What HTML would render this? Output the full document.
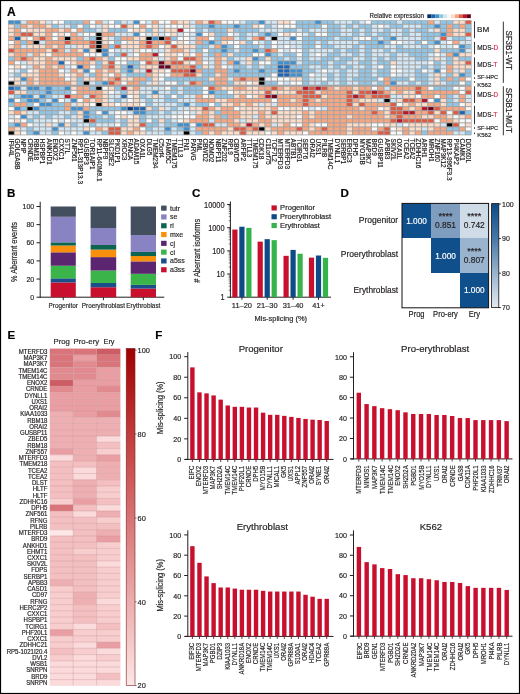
<!DOCTYPE html>
<html><head><meta charset="utf-8"><style>
html,body{margin:0;padding:0;background:#fff;}
svg{display:block;will-change:transform;}
text{font-family:"Liberation Sans",sans-serif;fill:#231f20;stroke:#231f20;stroke-width:0.18px;}
</style></head><body>
<svg width="520" height="694" viewBox="0 0 520 694" font-family="Liberation Sans, sans-serif">
<rect x="0" y="0" width="520" height="694" fill="#ffffff"/>
<text x="7.00" y="15.60" font-size="12.0" font-weight="bold" style="fill:#000;stroke:#000">A</text>
<text x="369.40" y="17.70" font-size="6.4" textLength="54.50" lengthAdjust="spacingAndGlyphs">Relative expression</text>
<rect x="427.30" y="14.30" width="4.00" height="3.80" fill="#053061"/>
<rect x="431.25" y="14.30" width="4.00" height="3.80" fill="#2166ac"/>
<rect x="435.21" y="14.30" width="4.00" height="3.80" fill="#4393c3"/>
<rect x="439.16" y="14.30" width="4.00" height="3.80" fill="#92c5de"/>
<rect x="443.12" y="14.30" width="4.00" height="3.80" fill="#d1e5f0"/>
<rect x="447.07" y="14.30" width="4.00" height="3.80" fill="#f7f7f7"/>
<rect x="451.03" y="14.30" width="4.00" height="3.80" fill="#fddbc7"/>
<rect x="454.98" y="14.30" width="4.00" height="3.80" fill="#f4a582"/>
<rect x="458.94" y="14.30" width="4.00" height="3.80" fill="#d6604d"/>
<rect x="462.89" y="14.30" width="4.00" height="3.80" fill="#b2182b"/>
<rect x="466.85" y="14.30" width="4.00" height="3.80" fill="#67001f"/>
<rect x="8.10" y="20.20" width="463.50" height="115.12" fill="#a3a3a3"/>
<rect x="8.65" y="20.70" width="5.16" height="3.06" fill="#3f90d0"/>
<rect x="14.91" y="20.70" width="5.16" height="3.06" fill="#3f90d0"/>
<rect x="21.18" y="20.70" width="5.16" height="3.06" fill="#d2e7f6"/>
<rect x="27.44" y="20.70" width="5.16" height="3.06" fill="#f8a681"/>
<rect x="33.70" y="20.70" width="5.16" height="3.06" fill="#f8a681"/>
<rect x="39.97" y="20.70" width="5.16" height="3.06" fill="#fddcc8"/>
<rect x="46.23" y="20.70" width="5.16" height="3.06" fill="#d2e7f6"/>
<rect x="52.49" y="20.70" width="5.16" height="3.06" fill="#f9fafb"/>
<rect x="58.76" y="20.70" width="5.16" height="3.06" fill="#f9fafb"/>
<rect x="65.02" y="20.70" width="5.16" height="3.06" fill="#8fc5e7"/>
<rect x="71.29" y="20.70" width="5.16" height="3.06" fill="#8fc5e7"/>
<rect x="77.55" y="20.70" width="5.16" height="3.06" fill="#8fc5e7"/>
<rect x="83.81" y="20.70" width="5.16" height="3.06" fill="#f8a681"/>
<rect x="90.08" y="20.70" width="5.16" height="3.06" fill="#f9fafb"/>
<rect x="96.34" y="20.70" width="5.16" height="3.06" fill="#f8a681"/>
<rect x="102.60" y="20.70" width="5.16" height="3.06" fill="#d2e7f6"/>
<rect x="108.87" y="20.70" width="5.16" height="3.06" fill="#f9fafb"/>
<rect x="115.13" y="20.70" width="5.16" height="3.06" fill="#8fc5e7"/>
<rect x="121.39" y="20.70" width="5.16" height="3.06" fill="#d2e7f6"/>
<rect x="127.66" y="20.70" width="5.16" height="3.06" fill="#d2e7f6"/>
<rect x="133.92" y="20.70" width="5.16" height="3.06" fill="#3f90d0"/>
<rect x="140.18" y="20.70" width="5.16" height="3.06" fill="#f9fafb"/>
<rect x="146.45" y="20.70" width="5.16" height="3.06" fill="#d2e7f6"/>
<rect x="152.71" y="20.70" width="5.16" height="3.06" fill="#f8a681"/>
<rect x="158.97" y="20.70" width="5.16" height="3.06" fill="#f9fafb"/>
<rect x="165.24" y="20.70" width="5.16" height="3.06" fill="#f9fafb"/>
<rect x="171.50" y="20.70" width="5.16" height="3.06" fill="#f8a681"/>
<rect x="177.76" y="20.70" width="5.16" height="3.06" fill="#fddcc8"/>
<rect x="184.03" y="20.70" width="5.16" height="3.06" fill="#fddcc8"/>
<rect x="190.29" y="20.70" width="5.16" height="3.06" fill="#d2e7f6"/>
<rect x="196.56" y="20.70" width="5.16" height="3.06" fill="#f8a681"/>
<rect x="202.82" y="20.70" width="5.16" height="3.06" fill="#fddcc8"/>
<rect x="209.08" y="20.70" width="5.16" height="3.06" fill="#df5a43"/>
<rect x="215.35" y="20.70" width="5.16" height="3.06" fill="#f8a681"/>
<rect x="221.61" y="20.70" width="5.16" height="3.06" fill="#f9fafb"/>
<rect x="227.87" y="20.70" width="5.16" height="3.06" fill="#f9fafb"/>
<rect x="234.14" y="20.70" width="5.16" height="3.06" fill="#f9fafb"/>
<rect x="240.40" y="20.70" width="5.16" height="3.06" fill="#d2e7f6"/>
<rect x="246.66" y="20.70" width="5.16" height="3.06" fill="#8fc5e7"/>
<rect x="252.93" y="20.70" width="5.16" height="3.06" fill="#8fc5e7"/>
<rect x="259.19" y="20.70" width="5.16" height="3.06" fill="#3f90d0"/>
<rect x="265.45" y="20.70" width="5.16" height="3.06" fill="#d2e7f6"/>
<rect x="271.72" y="20.70" width="5.16" height="3.06" fill="#d2e7f6"/>
<rect x="277.98" y="20.70" width="5.16" height="3.06" fill="#fddcc8"/>
<rect x="284.24" y="20.70" width="5.16" height="3.06" fill="#fddcc8"/>
<rect x="290.51" y="20.70" width="5.16" height="3.06" fill="#f9fafb"/>
<rect x="296.77" y="20.70" width="5.16" height="3.06" fill="#8fc5e7"/>
<rect x="303.04" y="20.70" width="5.16" height="3.06" fill="#8fc5e7"/>
<rect x="309.30" y="20.70" width="5.16" height="3.06" fill="#8fc5e7"/>
<rect x="315.56" y="20.70" width="5.16" height="3.06" fill="#3f90d0"/>
<rect x="321.83" y="20.70" width="5.16" height="3.06" fill="#8fc5e7"/>
<rect x="328.09" y="20.70" width="5.16" height="3.06" fill="#8fc5e7"/>
<rect x="334.35" y="20.70" width="5.16" height="3.06" fill="#d2e7f6"/>
<rect x="340.62" y="20.70" width="5.16" height="3.06" fill="#d2e7f6"/>
<rect x="346.88" y="20.70" width="5.16" height="3.06" fill="#d2e7f6"/>
<rect x="353.14" y="20.70" width="5.16" height="3.06" fill="#8fc5e7"/>
<rect x="359.41" y="20.70" width="5.16" height="3.06" fill="#d2e7f6"/>
<rect x="365.67" y="20.70" width="5.16" height="3.06" fill="#f9fafb"/>
<rect x="371.93" y="20.70" width="5.16" height="3.06" fill="#8fc5e7"/>
<rect x="378.20" y="20.70" width="5.16" height="3.06" fill="#8fc5e7"/>
<rect x="384.46" y="20.70" width="5.16" height="3.06" fill="#8fc5e7"/>
<rect x="390.72" y="20.70" width="5.16" height="3.06" fill="#8fc5e7"/>
<rect x="396.99" y="20.70" width="5.16" height="3.06" fill="#d2e7f6"/>
<rect x="403.25" y="20.70" width="5.16" height="3.06" fill="#8fc5e7"/>
<rect x="409.51" y="20.70" width="5.16" height="3.06" fill="#8fc5e7"/>
<rect x="415.78" y="20.70" width="5.16" height="3.06" fill="#8fc5e7"/>
<rect x="422.04" y="20.70" width="5.16" height="3.06" fill="#8fc5e7"/>
<rect x="428.31" y="20.70" width="5.16" height="3.06" fill="#f8a681"/>
<rect x="434.57" y="20.70" width="5.16" height="3.06" fill="#d2e7f6"/>
<rect x="440.83" y="20.70" width="5.16" height="3.06" fill="#8fc5e7"/>
<rect x="447.10" y="20.70" width="5.16" height="3.06" fill="#8fc5e7"/>
<rect x="453.36" y="20.70" width="5.16" height="3.06" fill="#fddcc8"/>
<rect x="459.62" y="20.70" width="5.16" height="3.06" fill="#fddcc8"/>
<rect x="465.89" y="20.70" width="5.16" height="3.06" fill="#df5a43"/>
<rect x="8.65" y="24.76" width="5.16" height="3.06" fill="#fddcc8"/>
<rect x="14.91" y="24.76" width="5.16" height="3.06" fill="#8fc5e7"/>
<rect x="21.18" y="24.76" width="5.16" height="3.06" fill="#f8a681"/>
<rect x="27.44" y="24.76" width="5.16" height="3.06" fill="#fddcc8"/>
<rect x="33.70" y="24.76" width="5.16" height="3.06" fill="#f8a681"/>
<rect x="39.97" y="24.76" width="5.16" height="3.06" fill="#f8a681"/>
<rect x="46.23" y="24.76" width="5.16" height="3.06" fill="#fddcc8"/>
<rect x="52.49" y="24.76" width="5.16" height="3.06" fill="#8fc5e7"/>
<rect x="58.76" y="24.76" width="5.16" height="3.06" fill="#d2e7f6"/>
<rect x="65.02" y="24.76" width="5.16" height="3.06" fill="#d2e7f6"/>
<rect x="71.29" y="24.76" width="5.16" height="3.06" fill="#8fc5e7"/>
<rect x="77.55" y="24.76" width="5.16" height="3.06" fill="#f9fafb"/>
<rect x="83.81" y="24.76" width="5.16" height="3.06" fill="#8fc5e7"/>
<rect x="90.08" y="24.76" width="5.16" height="3.06" fill="#f9fafb"/>
<rect x="96.34" y="24.76" width="5.16" height="3.06" fill="#d2e7f6"/>
<rect x="102.60" y="24.76" width="5.16" height="3.06" fill="#fddcc8"/>
<rect x="108.87" y="24.76" width="5.16" height="3.06" fill="#f9fafb"/>
<rect x="115.13" y="24.76" width="5.16" height="3.06" fill="#f9fafb"/>
<rect x="121.39" y="24.76" width="5.16" height="3.06" fill="#df5a43"/>
<rect x="127.66" y="24.76" width="5.16" height="3.06" fill="#fddcc8"/>
<rect x="133.92" y="24.76" width="5.16" height="3.06" fill="#f9fafb"/>
<rect x="140.18" y="24.76" width="5.16" height="3.06" fill="#f8a681"/>
<rect x="146.45" y="24.76" width="5.16" height="3.06" fill="#f9fafb"/>
<rect x="152.71" y="24.76" width="5.16" height="3.06" fill="#fddcc8"/>
<rect x="158.97" y="24.76" width="5.16" height="3.06" fill="#d2e7f6"/>
<rect x="165.24" y="24.76" width="5.16" height="3.06" fill="#f9fafb"/>
<rect x="171.50" y="24.76" width="5.16" height="3.06" fill="#f9fafb"/>
<rect x="177.76" y="24.76" width="5.16" height="3.06" fill="#f9fafb"/>
<rect x="184.03" y="24.76" width="5.16" height="3.06" fill="#fddcc8"/>
<rect x="190.29" y="24.76" width="5.16" height="3.06" fill="#d2e7f6"/>
<rect x="196.56" y="24.76" width="5.16" height="3.06" fill="#8fc5e7"/>
<rect x="202.82" y="24.76" width="5.16" height="3.06" fill="#8fc5e7"/>
<rect x="209.08" y="24.76" width="5.16" height="3.06" fill="#3f90d0"/>
<rect x="215.35" y="24.76" width="5.16" height="3.06" fill="#8fc5e7"/>
<rect x="221.61" y="24.76" width="5.16" height="3.06" fill="#8fc5e7"/>
<rect x="227.87" y="24.76" width="5.16" height="3.06" fill="#8fc5e7"/>
<rect x="234.14" y="24.76" width="5.16" height="3.06" fill="#3f90d0"/>
<rect x="240.40" y="24.76" width="5.16" height="3.06" fill="#8fc5e7"/>
<rect x="246.66" y="24.76" width="5.16" height="3.06" fill="#8fc5e7"/>
<rect x="252.93" y="24.76" width="5.16" height="3.06" fill="#fddcc8"/>
<rect x="259.19" y="24.76" width="5.16" height="3.06" fill="#f9fafb"/>
<rect x="265.45" y="24.76" width="5.16" height="3.06" fill="#8fc5e7"/>
<rect x="271.72" y="24.76" width="5.16" height="3.06" fill="#d2e7f6"/>
<rect x="277.98" y="24.76" width="5.16" height="3.06" fill="#f9fafb"/>
<rect x="284.24" y="24.76" width="5.16" height="3.06" fill="#f9fafb"/>
<rect x="290.51" y="24.76" width="5.16" height="3.06" fill="#f9fafb"/>
<rect x="296.77" y="24.76" width="5.16" height="3.06" fill="#8fc5e7"/>
<rect x="303.04" y="24.76" width="5.16" height="3.06" fill="#8fc5e7"/>
<rect x="309.30" y="24.76" width="5.16" height="3.06" fill="#8fc5e7"/>
<rect x="315.56" y="24.76" width="5.16" height="3.06" fill="#8fc5e7"/>
<rect x="321.83" y="24.76" width="5.16" height="3.06" fill="#f9fafb"/>
<rect x="328.09" y="24.76" width="5.16" height="3.06" fill="#8fc5e7"/>
<rect x="334.35" y="24.76" width="5.16" height="3.06" fill="#8fc5e7"/>
<rect x="340.62" y="24.76" width="5.16" height="3.06" fill="#d2e7f6"/>
<rect x="346.88" y="24.76" width="5.16" height="3.06" fill="#8fc5e7"/>
<rect x="353.14" y="24.76" width="5.16" height="3.06" fill="#d2e7f6"/>
<rect x="359.41" y="24.76" width="5.16" height="3.06" fill="#8fc5e7"/>
<rect x="365.67" y="24.76" width="5.16" height="3.06" fill="#8fc5e7"/>
<rect x="371.93" y="24.76" width="5.16" height="3.06" fill="#d2e7f6"/>
<rect x="378.20" y="24.76" width="5.16" height="3.06" fill="#f9fafb"/>
<rect x="384.46" y="24.76" width="5.16" height="3.06" fill="#d2e7f6"/>
<rect x="390.72" y="24.76" width="5.16" height="3.06" fill="#8fc5e7"/>
<rect x="396.99" y="24.76" width="5.16" height="3.06" fill="#8fc5e7"/>
<rect x="403.25" y="24.76" width="5.16" height="3.06" fill="#d2e7f6"/>
<rect x="409.51" y="24.76" width="5.16" height="3.06" fill="#d2e7f6"/>
<rect x="415.78" y="24.76" width="5.16" height="3.06" fill="#d2e7f6"/>
<rect x="422.04" y="24.76" width="5.16" height="3.06" fill="#8fc5e7"/>
<rect x="428.31" y="24.76" width="5.16" height="3.06" fill="#8fc5e7"/>
<rect x="434.57" y="24.76" width="5.16" height="3.06" fill="#3f90d0"/>
<rect x="440.83" y="24.76" width="5.16" height="3.06" fill="#8fc5e7"/>
<rect x="447.10" y="24.76" width="5.16" height="3.06" fill="#f8a681"/>
<rect x="453.36" y="24.76" width="5.16" height="3.06" fill="#8fc5e7"/>
<rect x="459.62" y="24.76" width="5.16" height="3.06" fill="#f8a681"/>
<rect x="465.89" y="24.76" width="5.16" height="3.06" fill="#8fc5e7"/>
<rect x="8.65" y="28.82" width="5.16" height="3.06" fill="#fddcc8"/>
<rect x="14.91" y="28.82" width="5.16" height="3.06" fill="#f8a681"/>
<rect x="21.18" y="28.82" width="5.16" height="3.06" fill="#f9fafb"/>
<rect x="27.44" y="28.82" width="5.16" height="3.06" fill="#fddcc8"/>
<rect x="33.70" y="28.82" width="5.16" height="3.06" fill="#fddcc8"/>
<rect x="39.97" y="28.82" width="5.16" height="3.06" fill="#fddcc8"/>
<rect x="46.23" y="28.82" width="5.16" height="3.06" fill="#f8a681"/>
<rect x="52.49" y="28.82" width="5.16" height="3.06" fill="#f8a681"/>
<rect x="58.76" y="28.82" width="5.16" height="3.06" fill="#fddcc8"/>
<rect x="65.02" y="28.82" width="5.16" height="3.06" fill="#f8a681"/>
<rect x="71.29" y="28.82" width="5.16" height="3.06" fill="#f9fafb"/>
<rect x="77.55" y="28.82" width="5.16" height="3.06" fill="#f8a681"/>
<rect x="83.81" y="28.82" width="5.16" height="3.06" fill="#8fc5e7"/>
<rect x="90.08" y="28.82" width="5.16" height="3.06" fill="#8fc5e7"/>
<rect x="96.34" y="28.82" width="5.16" height="3.06" fill="#d2e7f6"/>
<rect x="102.60" y="28.82" width="5.16" height="3.06" fill="#fddcc8"/>
<rect x="108.87" y="28.82" width="5.16" height="3.06" fill="#8fc5e7"/>
<rect x="115.13" y="28.82" width="5.16" height="3.06" fill="#8fc5e7"/>
<rect x="121.39" y="28.82" width="5.16" height="3.06" fill="#8fc5e7"/>
<rect x="127.66" y="28.82" width="5.16" height="3.06" fill="#f9fafb"/>
<rect x="133.92" y="28.82" width="5.16" height="3.06" fill="#fddcc8"/>
<rect x="140.18" y="28.82" width="5.16" height="3.06" fill="#fddcc8"/>
<rect x="146.45" y="28.82" width="5.16" height="3.06" fill="#8fc5e7"/>
<rect x="152.71" y="28.82" width="5.16" height="3.06" fill="#fddcc8"/>
<rect x="158.97" y="28.82" width="5.16" height="3.06" fill="#d2e7f6"/>
<rect x="165.24" y="28.82" width="5.16" height="3.06" fill="#fddcc8"/>
<rect x="171.50" y="28.82" width="5.16" height="3.06" fill="#fddcc8"/>
<rect x="177.76" y="28.82" width="5.16" height="3.06" fill="#b8172c"/>
<rect x="184.03" y="28.82" width="5.16" height="3.06" fill="#f9fafb"/>
<rect x="190.29" y="28.82" width="5.16" height="3.06" fill="#f9fafb"/>
<rect x="196.56" y="28.82" width="5.16" height="3.06" fill="#8fc5e7"/>
<rect x="202.82" y="28.82" width="5.16" height="3.06" fill="#d2e7f6"/>
<rect x="209.08" y="28.82" width="5.16" height="3.06" fill="#8fc5e7"/>
<rect x="215.35" y="28.82" width="5.16" height="3.06" fill="#8fc5e7"/>
<rect x="221.61" y="28.82" width="5.16" height="3.06" fill="#8fc5e7"/>
<rect x="227.87" y="28.82" width="5.16" height="3.06" fill="#fddcc8"/>
<rect x="234.14" y="28.82" width="5.16" height="3.06" fill="#8fc5e7"/>
<rect x="240.40" y="28.82" width="5.16" height="3.06" fill="#8fc5e7"/>
<rect x="246.66" y="28.82" width="5.16" height="3.06" fill="#8fc5e7"/>
<rect x="252.93" y="28.82" width="5.16" height="3.06" fill="#8fc5e7"/>
<rect x="259.19" y="28.82" width="5.16" height="3.06" fill="#d2e7f6"/>
<rect x="265.45" y="28.82" width="5.16" height="3.06" fill="#d2e7f6"/>
<rect x="271.72" y="28.82" width="5.16" height="3.06" fill="#d2e7f6"/>
<rect x="277.98" y="28.82" width="5.16" height="3.06" fill="#d2e7f6"/>
<rect x="284.24" y="28.82" width="5.16" height="3.06" fill="#8fc5e7"/>
<rect x="290.51" y="28.82" width="5.16" height="3.06" fill="#8fc5e7"/>
<rect x="296.77" y="28.82" width="5.16" height="3.06" fill="#d2e7f6"/>
<rect x="303.04" y="28.82" width="5.16" height="3.06" fill="#8fc5e7"/>
<rect x="309.30" y="28.82" width="5.16" height="3.06" fill="#d2e7f6"/>
<rect x="315.56" y="28.82" width="5.16" height="3.06" fill="#d2e7f6"/>
<rect x="321.83" y="28.82" width="5.16" height="3.06" fill="#d2e7f6"/>
<rect x="328.09" y="28.82" width="5.16" height="3.06" fill="#8fc5e7"/>
<rect x="334.35" y="28.82" width="5.16" height="3.06" fill="#8fc5e7"/>
<rect x="340.62" y="28.82" width="5.16" height="3.06" fill="#d2e7f6"/>
<rect x="346.88" y="28.82" width="5.16" height="3.06" fill="#d2e7f6"/>
<rect x="353.14" y="28.82" width="5.16" height="3.06" fill="#8fc5e7"/>
<rect x="359.41" y="28.82" width="5.16" height="3.06" fill="#d2e7f6"/>
<rect x="365.67" y="28.82" width="5.16" height="3.06" fill="#8fc5e7"/>
<rect x="371.93" y="28.82" width="5.16" height="3.06" fill="#d2e7f6"/>
<rect x="378.20" y="28.82" width="5.16" height="3.06" fill="#d2e7f6"/>
<rect x="384.46" y="28.82" width="5.16" height="3.06" fill="#8fc5e7"/>
<rect x="390.72" y="28.82" width="5.16" height="3.06" fill="#d2e7f6"/>
<rect x="396.99" y="28.82" width="5.16" height="3.06" fill="#d2e7f6"/>
<rect x="403.25" y="28.82" width="5.16" height="3.06" fill="#8fc5e7"/>
<rect x="409.51" y="28.82" width="5.16" height="3.06" fill="#d2e7f6"/>
<rect x="415.78" y="28.82" width="5.16" height="3.06" fill="#8fc5e7"/>
<rect x="422.04" y="28.82" width="5.16" height="3.06" fill="#8fc5e7"/>
<rect x="428.31" y="28.82" width="5.16" height="3.06" fill="#d2e7f6"/>
<rect x="434.57" y="28.82" width="5.16" height="3.06" fill="#fddcc8"/>
<rect x="440.83" y="28.82" width="5.16" height="3.06" fill="#8fc5e7"/>
<rect x="447.10" y="28.82" width="5.16" height="3.06" fill="#f8a681"/>
<rect x="453.36" y="28.82" width="5.16" height="3.06" fill="#fddcc8"/>
<rect x="459.62" y="28.82" width="5.16" height="3.06" fill="#fddcc8"/>
<rect x="465.89" y="28.82" width="5.16" height="3.06" fill="#8fc5e7"/>
<rect x="8.65" y="32.88" width="5.16" height="3.06" fill="#fddcc8"/>
<rect x="14.91" y="32.88" width="5.16" height="3.06" fill="#f8a681"/>
<rect x="21.18" y="32.88" width="5.16" height="3.06" fill="#df5a43"/>
<rect x="27.44" y="32.88" width="5.16" height="3.06" fill="#df5a43"/>
<rect x="33.70" y="32.88" width="5.16" height="3.06" fill="#fddcc8"/>
<rect x="39.97" y="32.88" width="5.16" height="3.06" fill="#fddcc8"/>
<rect x="46.23" y="32.88" width="5.16" height="3.06" fill="#f8a681"/>
<rect x="52.49" y="32.88" width="5.16" height="3.06" fill="#f9fafb"/>
<rect x="58.76" y="32.88" width="5.16" height="3.06" fill="#fddcc8"/>
<rect x="65.02" y="32.88" width="5.16" height="3.06" fill="#f9fafb"/>
<rect x="71.29" y="32.88" width="5.16" height="3.06" fill="#f8a681"/>
<rect x="77.55" y="32.88" width="5.16" height="3.06" fill="#d2e7f6"/>
<rect x="83.81" y="32.88" width="5.16" height="3.06" fill="#f9fafb"/>
<rect x="90.08" y="32.88" width="5.16" height="3.06" fill="#f9fafb"/>
<rect x="96.34" y="32.88" width="5.16" height="3.06" fill="#000000"/>
<rect x="102.60" y="32.88" width="5.16" height="3.06" fill="#f8a681"/>
<rect x="108.87" y="32.88" width="5.16" height="3.06" fill="#f8a681"/>
<rect x="115.13" y="32.88" width="5.16" height="3.06" fill="#d2e7f6"/>
<rect x="121.39" y="32.88" width="5.16" height="3.06" fill="#d2e7f6"/>
<rect x="127.66" y="32.88" width="5.16" height="3.06" fill="#d2e7f6"/>
<rect x="133.92" y="32.88" width="5.16" height="3.06" fill="#3f90d0"/>
<rect x="140.18" y="32.88" width="5.16" height="3.06" fill="#f9fafb"/>
<rect x="146.45" y="32.88" width="5.16" height="3.06" fill="#d2e7f6"/>
<rect x="152.71" y="32.88" width="5.16" height="3.06" fill="#fddcc8"/>
<rect x="158.97" y="32.88" width="5.16" height="3.06" fill="#d2e7f6"/>
<rect x="165.24" y="32.88" width="5.16" height="3.06" fill="#f9fafb"/>
<rect x="171.50" y="32.88" width="5.16" height="3.06" fill="#fddcc8"/>
<rect x="177.76" y="32.88" width="5.16" height="3.06" fill="#d2e7f6"/>
<rect x="184.03" y="32.88" width="5.16" height="3.06" fill="#f9fafb"/>
<rect x="190.29" y="32.88" width="5.16" height="3.06" fill="#d2e7f6"/>
<rect x="196.56" y="32.88" width="5.16" height="3.06" fill="#3f90d0"/>
<rect x="202.82" y="32.88" width="5.16" height="3.06" fill="#f9fafb"/>
<rect x="209.08" y="32.88" width="5.16" height="3.06" fill="#fddcc8"/>
<rect x="215.35" y="32.88" width="5.16" height="3.06" fill="#8fc5e7"/>
<rect x="221.61" y="32.88" width="5.16" height="3.06" fill="#8fc5e7"/>
<rect x="227.87" y="32.88" width="5.16" height="3.06" fill="#f9fafb"/>
<rect x="234.14" y="32.88" width="5.16" height="3.06" fill="#d2e7f6"/>
<rect x="240.40" y="32.88" width="5.16" height="3.06" fill="#8fc5e7"/>
<rect x="246.66" y="32.88" width="5.16" height="3.06" fill="#d2e7f6"/>
<rect x="252.93" y="32.88" width="5.16" height="3.06" fill="#d2e7f6"/>
<rect x="259.19" y="32.88" width="5.16" height="3.06" fill="#8fc5e7"/>
<rect x="265.45" y="32.88" width="5.16" height="3.06" fill="#3f90d0"/>
<rect x="271.72" y="32.88" width="5.16" height="3.06" fill="#8fc5e7"/>
<rect x="277.98" y="32.88" width="5.16" height="3.06" fill="#f9fafb"/>
<rect x="284.24" y="32.88" width="5.16" height="3.06" fill="#fddcc8"/>
<rect x="290.51" y="32.88" width="5.16" height="3.06" fill="#f9fafb"/>
<rect x="296.77" y="32.88" width="5.16" height="3.06" fill="#f9fafb"/>
<rect x="303.04" y="32.88" width="5.16" height="3.06" fill="#d2e7f6"/>
<rect x="309.30" y="32.88" width="5.16" height="3.06" fill="#8fc5e7"/>
<rect x="315.56" y="32.88" width="5.16" height="3.06" fill="#f9fafb"/>
<rect x="321.83" y="32.88" width="5.16" height="3.06" fill="#f9fafb"/>
<rect x="328.09" y="32.88" width="5.16" height="3.06" fill="#8fc5e7"/>
<rect x="334.35" y="32.88" width="5.16" height="3.06" fill="#8fc5e7"/>
<rect x="340.62" y="32.88" width="5.16" height="3.06" fill="#d2e7f6"/>
<rect x="346.88" y="32.88" width="5.16" height="3.06" fill="#d2e7f6"/>
<rect x="353.14" y="32.88" width="5.16" height="3.06" fill="#8fc5e7"/>
<rect x="359.41" y="32.88" width="5.16" height="3.06" fill="#d2e7f6"/>
<rect x="365.67" y="32.88" width="5.16" height="3.06" fill="#8fc5e7"/>
<rect x="371.93" y="32.88" width="5.16" height="3.06" fill="#d2e7f6"/>
<rect x="378.20" y="32.88" width="5.16" height="3.06" fill="#8fc5e7"/>
<rect x="384.46" y="32.88" width="5.16" height="3.06" fill="#8fc5e7"/>
<rect x="390.72" y="32.88" width="5.16" height="3.06" fill="#d2e7f6"/>
<rect x="396.99" y="32.88" width="5.16" height="3.06" fill="#d2e7f6"/>
<rect x="403.25" y="32.88" width="5.16" height="3.06" fill="#8fc5e7"/>
<rect x="409.51" y="32.88" width="5.16" height="3.06" fill="#d2e7f6"/>
<rect x="415.78" y="32.88" width="5.16" height="3.06" fill="#d2e7f6"/>
<rect x="422.04" y="32.88" width="5.16" height="3.06" fill="#8fc5e7"/>
<rect x="428.31" y="32.88" width="5.16" height="3.06" fill="#8fc5e7"/>
<rect x="434.57" y="32.88" width="5.16" height="3.06" fill="#8fc5e7"/>
<rect x="440.83" y="32.88" width="5.16" height="3.06" fill="#3f90d0"/>
<rect x="447.10" y="32.88" width="5.16" height="3.06" fill="#f8a681"/>
<rect x="453.36" y="32.88" width="5.16" height="3.06" fill="#fddcc8"/>
<rect x="459.62" y="32.88" width="5.16" height="3.06" fill="#fddcc8"/>
<rect x="465.89" y="32.88" width="5.16" height="3.06" fill="#df5a43"/>
<rect x="8.65" y="36.94" width="5.16" height="3.06" fill="#f8a681"/>
<rect x="14.91" y="36.94" width="5.16" height="3.06" fill="#1f65b6"/>
<rect x="21.18" y="36.94" width="5.16" height="3.06" fill="#fddcc8"/>
<rect x="27.44" y="36.94" width="5.16" height="3.06" fill="#f9fafb"/>
<rect x="33.70" y="36.94" width="5.16" height="3.06" fill="#f8a681"/>
<rect x="39.97" y="36.94" width="5.16" height="3.06" fill="#df5a43"/>
<rect x="46.23" y="36.94" width="5.16" height="3.06" fill="#f8a681"/>
<rect x="52.49" y="36.94" width="5.16" height="3.06" fill="#f9fafb"/>
<rect x="58.76" y="36.94" width="5.16" height="3.06" fill="#f8a681"/>
<rect x="65.02" y="36.94" width="5.16" height="3.06" fill="#000000"/>
<rect x="71.29" y="36.94" width="5.16" height="3.06" fill="#f8a681"/>
<rect x="77.55" y="36.94" width="5.16" height="3.06" fill="#f8a681"/>
<rect x="83.81" y="36.94" width="5.16" height="3.06" fill="#d2e7f6"/>
<rect x="90.08" y="36.94" width="5.16" height="3.06" fill="#8fc5e7"/>
<rect x="96.34" y="36.94" width="5.16" height="3.06" fill="#000000"/>
<rect x="102.60" y="36.94" width="5.16" height="3.06" fill="#fddcc8"/>
<rect x="108.87" y="36.94" width="5.16" height="3.06" fill="#d2e7f6"/>
<rect x="115.13" y="36.94" width="5.16" height="3.06" fill="#8fc5e7"/>
<rect x="121.39" y="36.94" width="5.16" height="3.06" fill="#f8a681"/>
<rect x="127.66" y="36.94" width="5.16" height="3.06" fill="#f8a681"/>
<rect x="133.92" y="36.94" width="5.16" height="3.06" fill="#fddcc8"/>
<rect x="140.18" y="36.94" width="5.16" height="3.06" fill="#fddcc8"/>
<rect x="146.45" y="36.94" width="5.16" height="3.06" fill="#000000"/>
<rect x="152.71" y="36.94" width="5.16" height="3.06" fill="#3f90d0"/>
<rect x="158.97" y="36.94" width="5.16" height="3.06" fill="#000000"/>
<rect x="165.24" y="36.94" width="5.16" height="3.06" fill="#df5a43"/>
<rect x="171.50" y="36.94" width="5.16" height="3.06" fill="#8fc5e7"/>
<rect x="177.76" y="36.94" width="5.16" height="3.06" fill="#f9fafb"/>
<rect x="184.03" y="36.94" width="5.16" height="3.06" fill="#f9fafb"/>
<rect x="190.29" y="36.94" width="5.16" height="3.06" fill="#d2e7f6"/>
<rect x="196.56" y="36.94" width="5.16" height="3.06" fill="#f8a681"/>
<rect x="202.82" y="36.94" width="5.16" height="3.06" fill="#f8a681"/>
<rect x="209.08" y="36.94" width="5.16" height="3.06" fill="#f9fafb"/>
<rect x="215.35" y="36.94" width="5.16" height="3.06" fill="#8fc5e7"/>
<rect x="221.61" y="36.94" width="5.16" height="3.06" fill="#f8a681"/>
<rect x="227.87" y="36.94" width="5.16" height="3.06" fill="#f8a681"/>
<rect x="234.14" y="36.94" width="5.16" height="3.06" fill="#d2e7f6"/>
<rect x="240.40" y="36.94" width="5.16" height="3.06" fill="#8fc5e7"/>
<rect x="246.66" y="36.94" width="5.16" height="3.06" fill="#d2e7f6"/>
<rect x="252.93" y="36.94" width="5.16" height="3.06" fill="#f8a681"/>
<rect x="259.19" y="36.94" width="5.16" height="3.06" fill="#df5a43"/>
<rect x="265.45" y="36.94" width="5.16" height="3.06" fill="#d2e7f6"/>
<rect x="271.72" y="36.94" width="5.16" height="3.06" fill="#000000"/>
<rect x="277.98" y="36.94" width="5.16" height="3.06" fill="#d2e7f6"/>
<rect x="284.24" y="36.94" width="5.16" height="3.06" fill="#d2e7f6"/>
<rect x="290.51" y="36.94" width="5.16" height="3.06" fill="#3f90d0"/>
<rect x="296.77" y="36.94" width="5.16" height="3.06" fill="#f9fafb"/>
<rect x="303.04" y="36.94" width="5.16" height="3.06" fill="#8fc5e7"/>
<rect x="309.30" y="36.94" width="5.16" height="3.06" fill="#8fc5e7"/>
<rect x="315.56" y="36.94" width="5.16" height="3.06" fill="#8fc5e7"/>
<rect x="321.83" y="36.94" width="5.16" height="3.06" fill="#8fc5e7"/>
<rect x="328.09" y="36.94" width="5.16" height="3.06" fill="#8fc5e7"/>
<rect x="334.35" y="36.94" width="5.16" height="3.06" fill="#d2e7f6"/>
<rect x="340.62" y="36.94" width="5.16" height="3.06" fill="#8fc5e7"/>
<rect x="346.88" y="36.94" width="5.16" height="3.06" fill="#8fc5e7"/>
<rect x="353.14" y="36.94" width="5.16" height="3.06" fill="#d2e7f6"/>
<rect x="359.41" y="36.94" width="5.16" height="3.06" fill="#f9fafb"/>
<rect x="365.67" y="36.94" width="5.16" height="3.06" fill="#f9fafb"/>
<rect x="371.93" y="36.94" width="5.16" height="3.06" fill="#8fc5e7"/>
<rect x="378.20" y="36.94" width="5.16" height="3.06" fill="#d2e7f6"/>
<rect x="384.46" y="36.94" width="5.16" height="3.06" fill="#8fc5e7"/>
<rect x="390.72" y="36.94" width="5.16" height="3.06" fill="#3f90d0"/>
<rect x="396.99" y="36.94" width="5.16" height="3.06" fill="#d2e7f6"/>
<rect x="403.25" y="36.94" width="5.16" height="3.06" fill="#d2e7f6"/>
<rect x="409.51" y="36.94" width="5.16" height="3.06" fill="#d2e7f6"/>
<rect x="415.78" y="36.94" width="5.16" height="3.06" fill="#d2e7f6"/>
<rect x="422.04" y="36.94" width="5.16" height="3.06" fill="#8fc5e7"/>
<rect x="428.31" y="36.94" width="5.16" height="3.06" fill="#8fc5e7"/>
<rect x="434.57" y="36.94" width="5.16" height="3.06" fill="#d2e7f6"/>
<rect x="440.83" y="36.94" width="5.16" height="3.06" fill="#df5a43"/>
<rect x="447.10" y="36.94" width="5.16" height="3.06" fill="#d2e7f6"/>
<rect x="453.36" y="36.94" width="5.16" height="3.06" fill="#8fc5e7"/>
<rect x="459.62" y="36.94" width="5.16" height="3.06" fill="#8fc5e7"/>
<rect x="465.89" y="36.94" width="5.16" height="3.06" fill="#d2e7f6"/>
<rect x="8.65" y="41.00" width="5.16" height="3.06" fill="#f9fafb"/>
<rect x="14.91" y="41.00" width="5.16" height="3.06" fill="#f8a681"/>
<rect x="21.18" y="41.00" width="5.16" height="3.06" fill="#8fc5e7"/>
<rect x="27.44" y="41.00" width="5.16" height="3.06" fill="#f8a681"/>
<rect x="33.70" y="41.00" width="5.16" height="3.06" fill="#000000"/>
<rect x="39.97" y="41.00" width="5.16" height="3.06" fill="#d2e7f6"/>
<rect x="46.23" y="41.00" width="5.16" height="3.06" fill="#f8a681"/>
<rect x="52.49" y="41.00" width="5.16" height="3.06" fill="#f8a681"/>
<rect x="58.76" y="41.00" width="5.16" height="3.06" fill="#f8a681"/>
<rect x="65.02" y="41.00" width="5.16" height="3.06" fill="#df5a43"/>
<rect x="71.29" y="41.00" width="5.16" height="3.06" fill="#f8a681"/>
<rect x="77.55" y="41.00" width="5.16" height="3.06" fill="#f8a681"/>
<rect x="83.81" y="41.00" width="5.16" height="3.06" fill="#f8a681"/>
<rect x="90.08" y="41.00" width="5.16" height="3.06" fill="#df5a43"/>
<rect x="96.34" y="41.00" width="5.16" height="3.06" fill="#000000"/>
<rect x="102.60" y="41.00" width="5.16" height="3.06" fill="#fddcc8"/>
<rect x="108.87" y="41.00" width="5.16" height="3.06" fill="#f9fafb"/>
<rect x="115.13" y="41.00" width="5.16" height="3.06" fill="#8fc5e7"/>
<rect x="121.39" y="41.00" width="5.16" height="3.06" fill="#f9fafb"/>
<rect x="127.66" y="41.00" width="5.16" height="3.06" fill="#fddcc8"/>
<rect x="133.92" y="41.00" width="5.16" height="3.06" fill="#fddcc8"/>
<rect x="140.18" y="41.00" width="5.16" height="3.06" fill="#f8a681"/>
<rect x="146.45" y="41.00" width="5.16" height="3.06" fill="#b8172c"/>
<rect x="152.71" y="41.00" width="5.16" height="3.06" fill="#f8a681"/>
<rect x="158.97" y="41.00" width="5.16" height="3.06" fill="#f8a681"/>
<rect x="165.24" y="41.00" width="5.16" height="3.06" fill="#df5a43"/>
<rect x="171.50" y="41.00" width="5.16" height="3.06" fill="#f9fafb"/>
<rect x="177.76" y="41.00" width="5.16" height="3.06" fill="#fddcc8"/>
<rect x="184.03" y="41.00" width="5.16" height="3.06" fill="#f9fafb"/>
<rect x="190.29" y="41.00" width="5.16" height="3.06" fill="#d2e7f6"/>
<rect x="196.56" y="41.00" width="5.16" height="3.06" fill="#f8a681"/>
<rect x="202.82" y="41.00" width="5.16" height="3.06" fill="#8fc5e7"/>
<rect x="209.08" y="41.00" width="5.16" height="3.06" fill="#3f90d0"/>
<rect x="215.35" y="41.00" width="5.16" height="3.06" fill="#8fc5e7"/>
<rect x="221.61" y="41.00" width="5.16" height="3.06" fill="#fddcc8"/>
<rect x="227.87" y="41.00" width="5.16" height="3.06" fill="#f9fafb"/>
<rect x="234.14" y="41.00" width="5.16" height="3.06" fill="#f9fafb"/>
<rect x="240.40" y="41.00" width="5.16" height="3.06" fill="#fddcc8"/>
<rect x="246.66" y="41.00" width="5.16" height="3.06" fill="#8fc5e7"/>
<rect x="252.93" y="41.00" width="5.16" height="3.06" fill="#f9fafb"/>
<rect x="259.19" y="41.00" width="5.16" height="3.06" fill="#d2e7f6"/>
<rect x="265.45" y="41.00" width="5.16" height="3.06" fill="#8fc5e7"/>
<rect x="271.72" y="41.00" width="5.16" height="3.06" fill="#f9fafb"/>
<rect x="277.98" y="41.00" width="5.16" height="3.06" fill="#d2e7f6"/>
<rect x="284.24" y="41.00" width="5.16" height="3.06" fill="#d2e7f6"/>
<rect x="290.51" y="41.00" width="5.16" height="3.06" fill="#d2e7f6"/>
<rect x="296.77" y="41.00" width="5.16" height="3.06" fill="#d2e7f6"/>
<rect x="303.04" y="41.00" width="5.16" height="3.06" fill="#8fc5e7"/>
<rect x="309.30" y="41.00" width="5.16" height="3.06" fill="#8fc5e7"/>
<rect x="315.56" y="41.00" width="5.16" height="3.06" fill="#d2e7f6"/>
<rect x="321.83" y="41.00" width="5.16" height="3.06" fill="#8fc5e7"/>
<rect x="328.09" y="41.00" width="5.16" height="3.06" fill="#d2e7f6"/>
<rect x="334.35" y="41.00" width="5.16" height="3.06" fill="#d2e7f6"/>
<rect x="340.62" y="41.00" width="5.16" height="3.06" fill="#d2e7f6"/>
<rect x="346.88" y="41.00" width="5.16" height="3.06" fill="#d2e7f6"/>
<rect x="353.14" y="41.00" width="5.16" height="3.06" fill="#d2e7f6"/>
<rect x="359.41" y="41.00" width="5.16" height="3.06" fill="#8fc5e7"/>
<rect x="365.67" y="41.00" width="5.16" height="3.06" fill="#8fc5e7"/>
<rect x="371.93" y="41.00" width="5.16" height="3.06" fill="#8fc5e7"/>
<rect x="378.20" y="41.00" width="5.16" height="3.06" fill="#3f90d0"/>
<rect x="384.46" y="41.00" width="5.16" height="3.06" fill="#8fc5e7"/>
<rect x="390.72" y="41.00" width="5.16" height="3.06" fill="#f9fafb"/>
<rect x="396.99" y="41.00" width="5.16" height="3.06" fill="#f9fafb"/>
<rect x="403.25" y="41.00" width="5.16" height="3.06" fill="#d2e7f6"/>
<rect x="409.51" y="41.00" width="5.16" height="3.06" fill="#d2e7f6"/>
<rect x="415.78" y="41.00" width="5.16" height="3.06" fill="#8fc5e7"/>
<rect x="422.04" y="41.00" width="5.16" height="3.06" fill="#f9fafb"/>
<rect x="428.31" y="41.00" width="5.16" height="3.06" fill="#8fc5e7"/>
<rect x="434.57" y="41.00" width="5.16" height="3.06" fill="#3f90d0"/>
<rect x="440.83" y="41.00" width="5.16" height="3.06" fill="#d2e7f6"/>
<rect x="447.10" y="41.00" width="5.16" height="3.06" fill="#f9fafb"/>
<rect x="453.36" y="41.00" width="5.16" height="3.06" fill="#f8a681"/>
<rect x="459.62" y="41.00" width="5.16" height="3.06" fill="#d2e7f6"/>
<rect x="465.89" y="41.00" width="5.16" height="3.06" fill="#d2e7f6"/>
<rect x="8.65" y="45.06" width="5.16" height="3.06" fill="#fddcc8"/>
<rect x="14.91" y="45.06" width="5.16" height="3.06" fill="#f8a681"/>
<rect x="21.18" y="45.06" width="5.16" height="3.06" fill="#d2e7f6"/>
<rect x="27.44" y="45.06" width="5.16" height="3.06" fill="#fddcc8"/>
<rect x="33.70" y="45.06" width="5.16" height="3.06" fill="#fddcc8"/>
<rect x="39.97" y="45.06" width="5.16" height="3.06" fill="#fddcc8"/>
<rect x="46.23" y="45.06" width="5.16" height="3.06" fill="#f8a681"/>
<rect x="52.49" y="45.06" width="5.16" height="3.06" fill="#fddcc8"/>
<rect x="58.76" y="45.06" width="5.16" height="3.06" fill="#f8a681"/>
<rect x="65.02" y="45.06" width="5.16" height="3.06" fill="#d2e7f6"/>
<rect x="71.29" y="45.06" width="5.16" height="3.06" fill="#d2e7f6"/>
<rect x="77.55" y="45.06" width="5.16" height="3.06" fill="#fddcc8"/>
<rect x="83.81" y="45.06" width="5.16" height="3.06" fill="#fddcc8"/>
<rect x="90.08" y="45.06" width="5.16" height="3.06" fill="#df5a43"/>
<rect x="96.34" y="45.06" width="5.16" height="3.06" fill="#000000"/>
<rect x="102.60" y="45.06" width="5.16" height="3.06" fill="#f8a681"/>
<rect x="108.87" y="45.06" width="5.16" height="3.06" fill="#8fc5e7"/>
<rect x="115.13" y="45.06" width="5.16" height="3.06" fill="#df5a43"/>
<rect x="121.39" y="45.06" width="5.16" height="3.06" fill="#fddcc8"/>
<rect x="127.66" y="45.06" width="5.16" height="3.06" fill="#fddcc8"/>
<rect x="133.92" y="45.06" width="5.16" height="3.06" fill="#fddcc8"/>
<rect x="140.18" y="45.06" width="5.16" height="3.06" fill="#f8a681"/>
<rect x="146.45" y="45.06" width="5.16" height="3.06" fill="#df5a43"/>
<rect x="152.71" y="45.06" width="5.16" height="3.06" fill="#f8a681"/>
<rect x="158.97" y="45.06" width="5.16" height="3.06" fill="#f9fafb"/>
<rect x="165.24" y="45.06" width="5.16" height="3.06" fill="#fddcc8"/>
<rect x="171.50" y="45.06" width="5.16" height="3.06" fill="#df5a43"/>
<rect x="177.76" y="45.06" width="5.16" height="3.06" fill="#fddcc8"/>
<rect x="184.03" y="45.06" width="5.16" height="3.06" fill="#fddcc8"/>
<rect x="190.29" y="45.06" width="5.16" height="3.06" fill="#fddcc8"/>
<rect x="196.56" y="45.06" width="5.16" height="3.06" fill="#8fc5e7"/>
<rect x="202.82" y="45.06" width="5.16" height="3.06" fill="#8fc5e7"/>
<rect x="209.08" y="45.06" width="5.16" height="3.06" fill="#d2e7f6"/>
<rect x="215.35" y="45.06" width="5.16" height="3.06" fill="#f8a681"/>
<rect x="221.61" y="45.06" width="5.16" height="3.06" fill="#3f90d0"/>
<rect x="227.87" y="45.06" width="5.16" height="3.06" fill="#8fc5e7"/>
<rect x="234.14" y="45.06" width="5.16" height="3.06" fill="#f9fafb"/>
<rect x="240.40" y="45.06" width="5.16" height="3.06" fill="#8fc5e7"/>
<rect x="246.66" y="45.06" width="5.16" height="3.06" fill="#8fc5e7"/>
<rect x="252.93" y="45.06" width="5.16" height="3.06" fill="#8fc5e7"/>
<rect x="259.19" y="45.06" width="5.16" height="3.06" fill="#d2e7f6"/>
<rect x="265.45" y="45.06" width="5.16" height="3.06" fill="#8fc5e7"/>
<rect x="271.72" y="45.06" width="5.16" height="3.06" fill="#f9fafb"/>
<rect x="277.98" y="45.06" width="5.16" height="3.06" fill="#d2e7f6"/>
<rect x="284.24" y="45.06" width="5.16" height="3.06" fill="#f9fafb"/>
<rect x="290.51" y="45.06" width="5.16" height="3.06" fill="#d2e7f6"/>
<rect x="296.77" y="45.06" width="5.16" height="3.06" fill="#d2e7f6"/>
<rect x="303.04" y="45.06" width="5.16" height="3.06" fill="#8fc5e7"/>
<rect x="309.30" y="45.06" width="5.16" height="3.06" fill="#8fc5e7"/>
<rect x="315.56" y="45.06" width="5.16" height="3.06" fill="#f9fafb"/>
<rect x="321.83" y="45.06" width="5.16" height="3.06" fill="#8fc5e7"/>
<rect x="328.09" y="45.06" width="5.16" height="3.06" fill="#8fc5e7"/>
<rect x="334.35" y="45.06" width="5.16" height="3.06" fill="#d2e7f6"/>
<rect x="340.62" y="45.06" width="5.16" height="3.06" fill="#d2e7f6"/>
<rect x="346.88" y="45.06" width="5.16" height="3.06" fill="#d2e7f6"/>
<rect x="353.14" y="45.06" width="5.16" height="3.06" fill="#8fc5e7"/>
<rect x="359.41" y="45.06" width="5.16" height="3.06" fill="#d2e7f6"/>
<rect x="365.67" y="45.06" width="5.16" height="3.06" fill="#8fc5e7"/>
<rect x="371.93" y="45.06" width="5.16" height="3.06" fill="#8fc5e7"/>
<rect x="378.20" y="45.06" width="5.16" height="3.06" fill="#8fc5e7"/>
<rect x="384.46" y="45.06" width="5.16" height="3.06" fill="#d2e7f6"/>
<rect x="390.72" y="45.06" width="5.16" height="3.06" fill="#d2e7f6"/>
<rect x="396.99" y="45.06" width="5.16" height="3.06" fill="#8fc5e7"/>
<rect x="403.25" y="45.06" width="5.16" height="3.06" fill="#d2e7f6"/>
<rect x="409.51" y="45.06" width="5.16" height="3.06" fill="#d2e7f6"/>
<rect x="415.78" y="45.06" width="5.16" height="3.06" fill="#d2e7f6"/>
<rect x="422.04" y="45.06" width="5.16" height="3.06" fill="#8fc5e7"/>
<rect x="428.31" y="45.06" width="5.16" height="3.06" fill="#d2e7f6"/>
<rect x="434.57" y="45.06" width="5.16" height="3.06" fill="#f9fafb"/>
<rect x="440.83" y="45.06" width="5.16" height="3.06" fill="#d2e7f6"/>
<rect x="447.10" y="45.06" width="5.16" height="3.06" fill="#d2e7f6"/>
<rect x="453.36" y="45.06" width="5.16" height="3.06" fill="#f9fafb"/>
<rect x="459.62" y="45.06" width="5.16" height="3.06" fill="#3f90d0"/>
<rect x="465.89" y="45.06" width="5.16" height="3.06" fill="#8fc5e7"/>
<rect x="8.65" y="49.12" width="5.16" height="3.06" fill="#df5a43"/>
<rect x="14.91" y="49.12" width="5.16" height="3.06" fill="#f8a681"/>
<rect x="21.18" y="49.12" width="5.16" height="3.06" fill="#f8a681"/>
<rect x="27.44" y="49.12" width="5.16" height="3.06" fill="#f8a681"/>
<rect x="33.70" y="49.12" width="5.16" height="3.06" fill="#f8a681"/>
<rect x="39.97" y="49.12" width="5.16" height="3.06" fill="#f8a681"/>
<rect x="46.23" y="49.12" width="5.16" height="3.06" fill="#fddcc8"/>
<rect x="52.49" y="49.12" width="5.16" height="3.06" fill="#df5a43"/>
<rect x="58.76" y="49.12" width="5.16" height="3.06" fill="#f8a681"/>
<rect x="65.02" y="49.12" width="5.16" height="3.06" fill="#d2e7f6"/>
<rect x="71.29" y="49.12" width="5.16" height="3.06" fill="#f8a681"/>
<rect x="77.55" y="49.12" width="5.16" height="3.06" fill="#fddcc8"/>
<rect x="83.81" y="49.12" width="5.16" height="3.06" fill="#3f90d0"/>
<rect x="90.08" y="49.12" width="5.16" height="3.06" fill="#fddcc8"/>
<rect x="96.34" y="49.12" width="5.16" height="3.06" fill="#000000"/>
<rect x="102.60" y="49.12" width="5.16" height="3.06" fill="#3f90d0"/>
<rect x="108.87" y="49.12" width="5.16" height="3.06" fill="#f9fafb"/>
<rect x="115.13" y="49.12" width="5.16" height="3.06" fill="#d2e7f6"/>
<rect x="121.39" y="49.12" width="5.16" height="3.06" fill="#d2e7f6"/>
<rect x="127.66" y="49.12" width="5.16" height="3.06" fill="#d2e7f6"/>
<rect x="133.92" y="49.12" width="5.16" height="3.06" fill="#fddcc8"/>
<rect x="140.18" y="49.12" width="5.16" height="3.06" fill="#f9fafb"/>
<rect x="146.45" y="49.12" width="5.16" height="3.06" fill="#f9fafb"/>
<rect x="152.71" y="49.12" width="5.16" height="3.06" fill="#d2e7f6"/>
<rect x="158.97" y="49.12" width="5.16" height="3.06" fill="#d2e7f6"/>
<rect x="165.24" y="49.12" width="5.16" height="3.06" fill="#fddcc8"/>
<rect x="171.50" y="49.12" width="5.16" height="3.06" fill="#f8a681"/>
<rect x="177.76" y="49.12" width="5.16" height="3.06" fill="#f8a681"/>
<rect x="184.03" y="49.12" width="5.16" height="3.06" fill="#fddcc8"/>
<rect x="190.29" y="49.12" width="5.16" height="3.06" fill="#d2e7f6"/>
<rect x="196.56" y="49.12" width="5.16" height="3.06" fill="#8fc5e7"/>
<rect x="202.82" y="49.12" width="5.16" height="3.06" fill="#f9fafb"/>
<rect x="209.08" y="49.12" width="5.16" height="3.06" fill="#8fc5e7"/>
<rect x="215.35" y="49.12" width="5.16" height="3.06" fill="#8fc5e7"/>
<rect x="221.61" y="49.12" width="5.16" height="3.06" fill="#3f90d0"/>
<rect x="227.87" y="49.12" width="5.16" height="3.06" fill="#8fc5e7"/>
<rect x="234.14" y="49.12" width="5.16" height="3.06" fill="#d2e7f6"/>
<rect x="240.40" y="49.12" width="5.16" height="3.06" fill="#8fc5e7"/>
<rect x="246.66" y="49.12" width="5.16" height="3.06" fill="#8fc5e7"/>
<rect x="252.93" y="49.12" width="5.16" height="3.06" fill="#3f90d0"/>
<rect x="259.19" y="49.12" width="5.16" height="3.06" fill="#8fc5e7"/>
<rect x="265.45" y="49.12" width="5.16" height="3.06" fill="#df5a43"/>
<rect x="271.72" y="49.12" width="5.16" height="3.06" fill="#f8a681"/>
<rect x="277.98" y="49.12" width="5.16" height="3.06" fill="#f9fafb"/>
<rect x="284.24" y="49.12" width="5.16" height="3.06" fill="#d2e7f6"/>
<rect x="290.51" y="49.12" width="5.16" height="3.06" fill="#f9fafb"/>
<rect x="296.77" y="49.12" width="5.16" height="3.06" fill="#f9fafb"/>
<rect x="303.04" y="49.12" width="5.16" height="3.06" fill="#8fc5e7"/>
<rect x="309.30" y="49.12" width="5.16" height="3.06" fill="#d2e7f6"/>
<rect x="315.56" y="49.12" width="5.16" height="3.06" fill="#d2e7f6"/>
<rect x="321.83" y="49.12" width="5.16" height="3.06" fill="#d2e7f6"/>
<rect x="328.09" y="49.12" width="5.16" height="3.06" fill="#d2e7f6"/>
<rect x="334.35" y="49.12" width="5.16" height="3.06" fill="#8fc5e7"/>
<rect x="340.62" y="49.12" width="5.16" height="3.06" fill="#d2e7f6"/>
<rect x="346.88" y="49.12" width="5.16" height="3.06" fill="#8fc5e7"/>
<rect x="353.14" y="49.12" width="5.16" height="3.06" fill="#8fc5e7"/>
<rect x="359.41" y="49.12" width="5.16" height="3.06" fill="#d2e7f6"/>
<rect x="365.67" y="49.12" width="5.16" height="3.06" fill="#8fc5e7"/>
<rect x="371.93" y="49.12" width="5.16" height="3.06" fill="#d2e7f6"/>
<rect x="378.20" y="49.12" width="5.16" height="3.06" fill="#d2e7f6"/>
<rect x="384.46" y="49.12" width="5.16" height="3.06" fill="#8fc5e7"/>
<rect x="390.72" y="49.12" width="5.16" height="3.06" fill="#d2e7f6"/>
<rect x="396.99" y="49.12" width="5.16" height="3.06" fill="#8fc5e7"/>
<rect x="403.25" y="49.12" width="5.16" height="3.06" fill="#8fc5e7"/>
<rect x="409.51" y="49.12" width="5.16" height="3.06" fill="#8fc5e7"/>
<rect x="415.78" y="49.12" width="5.16" height="3.06" fill="#8fc5e7"/>
<rect x="422.04" y="49.12" width="5.16" height="3.06" fill="#8fc5e7"/>
<rect x="428.31" y="49.12" width="5.16" height="3.06" fill="#8fc5e7"/>
<rect x="434.57" y="49.12" width="5.16" height="3.06" fill="#fddcc8"/>
<rect x="440.83" y="49.12" width="5.16" height="3.06" fill="#8fc5e7"/>
<rect x="447.10" y="49.12" width="5.16" height="3.06" fill="#8fc5e7"/>
<rect x="453.36" y="49.12" width="5.16" height="3.06" fill="#8fc5e7"/>
<rect x="459.62" y="49.12" width="5.16" height="3.06" fill="#3f90d0"/>
<rect x="465.89" y="49.12" width="5.16" height="3.06" fill="#d2e7f6"/>
<rect x="8.65" y="53.18" width="5.16" height="3.06" fill="#fddcc8"/>
<rect x="14.91" y="53.18" width="5.16" height="3.06" fill="#f8a681"/>
<rect x="21.18" y="53.18" width="5.16" height="3.06" fill="#f8a681"/>
<rect x="27.44" y="53.18" width="5.16" height="3.06" fill="#d2e7f6"/>
<rect x="33.70" y="53.18" width="5.16" height="3.06" fill="#f8a681"/>
<rect x="39.97" y="53.18" width="5.16" height="3.06" fill="#fddcc8"/>
<rect x="46.23" y="53.18" width="5.16" height="3.06" fill="#f9fafb"/>
<rect x="52.49" y="53.18" width="5.16" height="3.06" fill="#f8a681"/>
<rect x="58.76" y="53.18" width="5.16" height="3.06" fill="#f8a681"/>
<rect x="65.02" y="53.18" width="5.16" height="3.06" fill="#f8a681"/>
<rect x="71.29" y="53.18" width="5.16" height="3.06" fill="#f8a681"/>
<rect x="77.55" y="53.18" width="5.16" height="3.06" fill="#f8a681"/>
<rect x="83.81" y="53.18" width="5.16" height="3.06" fill="#f9fafb"/>
<rect x="90.08" y="53.18" width="5.16" height="3.06" fill="#f9fafb"/>
<rect x="96.34" y="53.18" width="5.16" height="3.06" fill="#f9fafb"/>
<rect x="102.60" y="53.18" width="5.16" height="3.06" fill="#3f90d0"/>
<rect x="108.87" y="53.18" width="5.16" height="3.06" fill="#d2e7f6"/>
<rect x="115.13" y="53.18" width="5.16" height="3.06" fill="#8fc5e7"/>
<rect x="121.39" y="53.18" width="5.16" height="3.06" fill="#df5a43"/>
<rect x="127.66" y="53.18" width="5.16" height="3.06" fill="#d2e7f6"/>
<rect x="133.92" y="53.18" width="5.16" height="3.06" fill="#f9fafb"/>
<rect x="140.18" y="53.18" width="5.16" height="3.06" fill="#f8a681"/>
<rect x="146.45" y="53.18" width="5.16" height="3.06" fill="#f8a681"/>
<rect x="152.71" y="53.18" width="5.16" height="3.06" fill="#b8172c"/>
<rect x="158.97" y="53.18" width="5.16" height="3.06" fill="#f9fafb"/>
<rect x="165.24" y="53.18" width="5.16" height="3.06" fill="#fddcc8"/>
<rect x="171.50" y="53.18" width="5.16" height="3.06" fill="#fddcc8"/>
<rect x="177.76" y="53.18" width="5.16" height="3.06" fill="#f9fafb"/>
<rect x="184.03" y="53.18" width="5.16" height="3.06" fill="#fddcc8"/>
<rect x="190.29" y="53.18" width="5.16" height="3.06" fill="#f9fafb"/>
<rect x="196.56" y="53.18" width="5.16" height="3.06" fill="#f8a681"/>
<rect x="202.82" y="53.18" width="5.16" height="3.06" fill="#d2e7f6"/>
<rect x="209.08" y="53.18" width="5.16" height="3.06" fill="#8fc5e7"/>
<rect x="215.35" y="53.18" width="5.16" height="3.06" fill="#f8a681"/>
<rect x="221.61" y="53.18" width="5.16" height="3.06" fill="#8fc5e7"/>
<rect x="227.87" y="53.18" width="5.16" height="3.06" fill="#fddcc8"/>
<rect x="234.14" y="53.18" width="5.16" height="3.06" fill="#8fc5e7"/>
<rect x="240.40" y="53.18" width="5.16" height="3.06" fill="#8fc5e7"/>
<rect x="246.66" y="53.18" width="5.16" height="3.06" fill="#8fc5e7"/>
<rect x="252.93" y="53.18" width="5.16" height="3.06" fill="#f9fafb"/>
<rect x="259.19" y="53.18" width="5.16" height="3.06" fill="#f9fafb"/>
<rect x="265.45" y="53.18" width="5.16" height="3.06" fill="#3f90d0"/>
<rect x="271.72" y="53.18" width="5.16" height="3.06" fill="#8fc5e7"/>
<rect x="277.98" y="53.18" width="5.16" height="3.06" fill="#d2e7f6"/>
<rect x="284.24" y="53.18" width="5.16" height="3.06" fill="#8fc5e7"/>
<rect x="290.51" y="53.18" width="5.16" height="3.06" fill="#8fc5e7"/>
<rect x="296.77" y="53.18" width="5.16" height="3.06" fill="#f9fafb"/>
<rect x="303.04" y="53.18" width="5.16" height="3.06" fill="#8fc5e7"/>
<rect x="309.30" y="53.18" width="5.16" height="3.06" fill="#d2e7f6"/>
<rect x="315.56" y="53.18" width="5.16" height="3.06" fill="#f9fafb"/>
<rect x="321.83" y="53.18" width="5.16" height="3.06" fill="#d2e7f6"/>
<rect x="328.09" y="53.18" width="5.16" height="3.06" fill="#8fc5e7"/>
<rect x="334.35" y="53.18" width="5.16" height="3.06" fill="#8fc5e7"/>
<rect x="340.62" y="53.18" width="5.16" height="3.06" fill="#d2e7f6"/>
<rect x="346.88" y="53.18" width="5.16" height="3.06" fill="#d2e7f6"/>
<rect x="353.14" y="53.18" width="5.16" height="3.06" fill="#8fc5e7"/>
<rect x="359.41" y="53.18" width="5.16" height="3.06" fill="#d2e7f6"/>
<rect x="365.67" y="53.18" width="5.16" height="3.06" fill="#8fc5e7"/>
<rect x="371.93" y="53.18" width="5.16" height="3.06" fill="#d2e7f6"/>
<rect x="378.20" y="53.18" width="5.16" height="3.06" fill="#d2e7f6"/>
<rect x="384.46" y="53.18" width="5.16" height="3.06" fill="#d2e7f6"/>
<rect x="390.72" y="53.18" width="5.16" height="3.06" fill="#8fc5e7"/>
<rect x="396.99" y="53.18" width="5.16" height="3.06" fill="#d2e7f6"/>
<rect x="403.25" y="53.18" width="5.16" height="3.06" fill="#d2e7f6"/>
<rect x="409.51" y="53.18" width="5.16" height="3.06" fill="#8fc5e7"/>
<rect x="415.78" y="53.18" width="5.16" height="3.06" fill="#8fc5e7"/>
<rect x="422.04" y="53.18" width="5.16" height="3.06" fill="#8fc5e7"/>
<rect x="428.31" y="53.18" width="5.16" height="3.06" fill="#d2e7f6"/>
<rect x="434.57" y="53.18" width="5.16" height="3.06" fill="#f9fafb"/>
<rect x="440.83" y="53.18" width="5.16" height="3.06" fill="#d2e7f6"/>
<rect x="447.10" y="53.18" width="5.16" height="3.06" fill="#f8a681"/>
<rect x="453.36" y="53.18" width="5.16" height="3.06" fill="#3f90d0"/>
<rect x="459.62" y="53.18" width="5.16" height="3.06" fill="#fddcc8"/>
<rect x="465.89" y="53.18" width="5.16" height="3.06" fill="#fddcc8"/>
<rect x="8.65" y="57.24" width="5.16" height="3.06" fill="#8fc5e7"/>
<rect x="14.91" y="57.24" width="5.16" height="3.06" fill="#f8a681"/>
<rect x="21.18" y="57.24" width="5.16" height="3.06" fill="#df5a43"/>
<rect x="27.44" y="57.24" width="5.16" height="3.06" fill="#f8a681"/>
<rect x="33.70" y="57.24" width="5.16" height="3.06" fill="#fddcc8"/>
<rect x="39.97" y="57.24" width="5.16" height="3.06" fill="#fddcc8"/>
<rect x="46.23" y="57.24" width="5.16" height="3.06" fill="#f8a681"/>
<rect x="52.49" y="57.24" width="5.16" height="3.06" fill="#fddcc8"/>
<rect x="58.76" y="57.24" width="5.16" height="3.06" fill="#fddcc8"/>
<rect x="65.02" y="57.24" width="5.16" height="3.06" fill="#fddcc8"/>
<rect x="71.29" y="57.24" width="5.16" height="3.06" fill="#fddcc8"/>
<rect x="77.55" y="57.24" width="5.16" height="3.06" fill="#8fc5e7"/>
<rect x="83.81" y="57.24" width="5.16" height="3.06" fill="#f8a681"/>
<rect x="90.08" y="57.24" width="5.16" height="3.06" fill="#df5a43"/>
<rect x="96.34" y="57.24" width="5.16" height="3.06" fill="#f8a681"/>
<rect x="102.60" y="57.24" width="5.16" height="3.06" fill="#fddcc8"/>
<rect x="108.87" y="57.24" width="5.16" height="3.06" fill="#8fc5e7"/>
<rect x="115.13" y="57.24" width="5.16" height="3.06" fill="#f9fafb"/>
<rect x="121.39" y="57.24" width="5.16" height="3.06" fill="#f9fafb"/>
<rect x="127.66" y="57.24" width="5.16" height="3.06" fill="#fddcc8"/>
<rect x="133.92" y="57.24" width="5.16" height="3.06" fill="#fddcc8"/>
<rect x="140.18" y="57.24" width="5.16" height="3.06" fill="#f8a681"/>
<rect x="146.45" y="57.24" width="5.16" height="3.06" fill="#f8a681"/>
<rect x="152.71" y="57.24" width="5.16" height="3.06" fill="#fddcc8"/>
<rect x="158.97" y="57.24" width="5.16" height="3.06" fill="#d2e7f6"/>
<rect x="165.24" y="57.24" width="5.16" height="3.06" fill="#fddcc8"/>
<rect x="171.50" y="57.24" width="5.16" height="3.06" fill="#f8a681"/>
<rect x="177.76" y="57.24" width="5.16" height="3.06" fill="#f9fafb"/>
<rect x="184.03" y="57.24" width="5.16" height="3.06" fill="#df5a43"/>
<rect x="190.29" y="57.24" width="5.16" height="3.06" fill="#df5a43"/>
<rect x="196.56" y="57.24" width="5.16" height="3.06" fill="#f8a681"/>
<rect x="202.82" y="57.24" width="5.16" height="3.06" fill="#d2e7f6"/>
<rect x="209.08" y="57.24" width="5.16" height="3.06" fill="#d2e7f6"/>
<rect x="215.35" y="57.24" width="5.16" height="3.06" fill="#f8a681"/>
<rect x="221.61" y="57.24" width="5.16" height="3.06" fill="#fddcc8"/>
<rect x="227.87" y="57.24" width="5.16" height="3.06" fill="#8fc5e7"/>
<rect x="234.14" y="57.24" width="5.16" height="3.06" fill="#d2e7f6"/>
<rect x="240.40" y="57.24" width="5.16" height="3.06" fill="#d2e7f6"/>
<rect x="246.66" y="57.24" width="5.16" height="3.06" fill="#fddcc8"/>
<rect x="252.93" y="57.24" width="5.16" height="3.06" fill="#3f90d0"/>
<rect x="259.19" y="57.24" width="5.16" height="3.06" fill="#8fc5e7"/>
<rect x="265.45" y="57.24" width="5.16" height="3.06" fill="#fddcc8"/>
<rect x="271.72" y="57.24" width="5.16" height="3.06" fill="#8fc5e7"/>
<rect x="277.98" y="57.24" width="5.16" height="3.06" fill="#8fc5e7"/>
<rect x="284.24" y="57.24" width="5.16" height="3.06" fill="#d2e7f6"/>
<rect x="290.51" y="57.24" width="5.16" height="3.06" fill="#8fc5e7"/>
<rect x="296.77" y="57.24" width="5.16" height="3.06" fill="#d2e7f6"/>
<rect x="303.04" y="57.24" width="5.16" height="3.06" fill="#8fc5e7"/>
<rect x="309.30" y="57.24" width="5.16" height="3.06" fill="#d2e7f6"/>
<rect x="315.56" y="57.24" width="5.16" height="3.06" fill="#d2e7f6"/>
<rect x="321.83" y="57.24" width="5.16" height="3.06" fill="#8fc5e7"/>
<rect x="328.09" y="57.24" width="5.16" height="3.06" fill="#8fc5e7"/>
<rect x="334.35" y="57.24" width="5.16" height="3.06" fill="#d2e7f6"/>
<rect x="340.62" y="57.24" width="5.16" height="3.06" fill="#8fc5e7"/>
<rect x="346.88" y="57.24" width="5.16" height="3.06" fill="#8fc5e7"/>
<rect x="353.14" y="57.24" width="5.16" height="3.06" fill="#d2e7f6"/>
<rect x="359.41" y="57.24" width="5.16" height="3.06" fill="#d2e7f6"/>
<rect x="365.67" y="57.24" width="5.16" height="3.06" fill="#8fc5e7"/>
<rect x="371.93" y="57.24" width="5.16" height="3.06" fill="#d2e7f6"/>
<rect x="378.20" y="57.24" width="5.16" height="3.06" fill="#8fc5e7"/>
<rect x="384.46" y="57.24" width="5.16" height="3.06" fill="#d2e7f6"/>
<rect x="390.72" y="57.24" width="5.16" height="3.06" fill="#8fc5e7"/>
<rect x="396.99" y="57.24" width="5.16" height="3.06" fill="#d2e7f6"/>
<rect x="403.25" y="57.24" width="5.16" height="3.06" fill="#d2e7f6"/>
<rect x="409.51" y="57.24" width="5.16" height="3.06" fill="#d2e7f6"/>
<rect x="415.78" y="57.24" width="5.16" height="3.06" fill="#8fc5e7"/>
<rect x="422.04" y="57.24" width="5.16" height="3.06" fill="#8fc5e7"/>
<rect x="428.31" y="57.24" width="5.16" height="3.06" fill="#d2e7f6"/>
<rect x="434.57" y="57.24" width="5.16" height="3.06" fill="#fddcc8"/>
<rect x="440.83" y="57.24" width="5.16" height="3.06" fill="#d2e7f6"/>
<rect x="447.10" y="57.24" width="5.16" height="3.06" fill="#8fc5e7"/>
<rect x="453.36" y="57.24" width="5.16" height="3.06" fill="#fddcc8"/>
<rect x="459.62" y="57.24" width="5.16" height="3.06" fill="#8fc5e7"/>
<rect x="465.89" y="57.24" width="5.16" height="3.06" fill="#8fc5e7"/>
<rect x="8.65" y="61.30" width="5.16" height="3.06" fill="#f8a681"/>
<rect x="14.91" y="61.30" width="5.16" height="3.06" fill="#f9fafb"/>
<rect x="21.18" y="61.30" width="5.16" height="3.06" fill="#d2e7f6"/>
<rect x="27.44" y="61.30" width="5.16" height="3.06" fill="#fddcc8"/>
<rect x="33.70" y="61.30" width="5.16" height="3.06" fill="#fddcc8"/>
<rect x="39.97" y="61.30" width="5.16" height="3.06" fill="#fddcc8"/>
<rect x="46.23" y="61.30" width="5.16" height="3.06" fill="#f8a681"/>
<rect x="52.49" y="61.30" width="5.16" height="3.06" fill="#f8a681"/>
<rect x="58.76" y="61.30" width="5.16" height="3.06" fill="#1f65b6"/>
<rect x="65.02" y="61.30" width="5.16" height="3.06" fill="#f9fafb"/>
<rect x="71.29" y="61.30" width="5.16" height="3.06" fill="#fddcc8"/>
<rect x="77.55" y="61.30" width="5.16" height="3.06" fill="#f8a681"/>
<rect x="83.81" y="61.30" width="5.16" height="3.06" fill="#f8a681"/>
<rect x="90.08" y="61.30" width="5.16" height="3.06" fill="#fddcc8"/>
<rect x="96.34" y="61.30" width="5.16" height="3.06" fill="#8fc5e7"/>
<rect x="102.60" y="61.30" width="5.16" height="3.06" fill="#fddcc8"/>
<rect x="108.87" y="61.30" width="5.16" height="3.06" fill="#df5a43"/>
<rect x="115.13" y="61.30" width="5.16" height="3.06" fill="#f9fafb"/>
<rect x="121.39" y="61.30" width="5.16" height="3.06" fill="#f9fafb"/>
<rect x="127.66" y="61.30" width="5.16" height="3.06" fill="#8fc5e7"/>
<rect x="133.92" y="61.30" width="5.16" height="3.06" fill="#8fc5e7"/>
<rect x="140.18" y="61.30" width="5.16" height="3.06" fill="#f9fafb"/>
<rect x="146.45" y="61.30" width="5.16" height="3.06" fill="#df5a43"/>
<rect x="152.71" y="61.30" width="5.16" height="3.06" fill="#f8a681"/>
<rect x="158.97" y="61.30" width="5.16" height="3.06" fill="#6b0322"/>
<rect x="165.24" y="61.30" width="5.16" height="3.06" fill="#f8a681"/>
<rect x="171.50" y="61.30" width="5.16" height="3.06" fill="#df5a43"/>
<rect x="177.76" y="61.30" width="5.16" height="3.06" fill="#df5a43"/>
<rect x="184.03" y="61.30" width="5.16" height="3.06" fill="#fddcc8"/>
<rect x="190.29" y="61.30" width="5.16" height="3.06" fill="#f9fafb"/>
<rect x="196.56" y="61.30" width="5.16" height="3.06" fill="#f8a681"/>
<rect x="202.82" y="61.30" width="5.16" height="3.06" fill="#f9fafb"/>
<rect x="209.08" y="61.30" width="5.16" height="3.06" fill="#d2e7f6"/>
<rect x="215.35" y="61.30" width="5.16" height="3.06" fill="#f8a681"/>
<rect x="221.61" y="61.30" width="5.16" height="3.06" fill="#d2e7f6"/>
<rect x="227.87" y="61.30" width="5.16" height="3.06" fill="#f8a681"/>
<rect x="234.14" y="61.30" width="5.16" height="3.06" fill="#3f90d0"/>
<rect x="240.40" y="61.30" width="5.16" height="3.06" fill="#d2e7f6"/>
<rect x="246.66" y="61.30" width="5.16" height="3.06" fill="#fddcc8"/>
<rect x="252.93" y="61.30" width="5.16" height="3.06" fill="#8fc5e7"/>
<rect x="259.19" y="61.30" width="5.16" height="3.06" fill="#f9fafb"/>
<rect x="265.45" y="61.30" width="5.16" height="3.06" fill="#f9fafb"/>
<rect x="271.72" y="61.30" width="5.16" height="3.06" fill="#8fc5e7"/>
<rect x="277.98" y="61.30" width="5.16" height="3.06" fill="#3f90d0"/>
<rect x="284.24" y="61.30" width="5.16" height="3.06" fill="#3f90d0"/>
<rect x="290.51" y="61.30" width="5.16" height="3.06" fill="#3f90d0"/>
<rect x="296.77" y="61.30" width="5.16" height="3.06" fill="#d2e7f6"/>
<rect x="303.04" y="61.30" width="5.16" height="3.06" fill="#8fc5e7"/>
<rect x="309.30" y="61.30" width="5.16" height="3.06" fill="#8fc5e7"/>
<rect x="315.56" y="61.30" width="5.16" height="3.06" fill="#8fc5e7"/>
<rect x="321.83" y="61.30" width="5.16" height="3.06" fill="#8fc5e7"/>
<rect x="328.09" y="61.30" width="5.16" height="3.06" fill="#d2e7f6"/>
<rect x="334.35" y="61.30" width="5.16" height="3.06" fill="#8fc5e7"/>
<rect x="340.62" y="61.30" width="5.16" height="3.06" fill="#8fc5e7"/>
<rect x="346.88" y="61.30" width="5.16" height="3.06" fill="#d2e7f6"/>
<rect x="353.14" y="61.30" width="5.16" height="3.06" fill="#d2e7f6"/>
<rect x="359.41" y="61.30" width="5.16" height="3.06" fill="#8fc5e7"/>
<rect x="365.67" y="61.30" width="5.16" height="3.06" fill="#8fc5e7"/>
<rect x="371.93" y="61.30" width="5.16" height="3.06" fill="#d2e7f6"/>
<rect x="378.20" y="61.30" width="5.16" height="3.06" fill="#8fc5e7"/>
<rect x="384.46" y="61.30" width="5.16" height="3.06" fill="#8fc5e7"/>
<rect x="390.72" y="61.30" width="5.16" height="3.06" fill="#fddcc8"/>
<rect x="396.99" y="61.30" width="5.16" height="3.06" fill="#d2e7f6"/>
<rect x="403.25" y="61.30" width="5.16" height="3.06" fill="#d2e7f6"/>
<rect x="409.51" y="61.30" width="5.16" height="3.06" fill="#d2e7f6"/>
<rect x="415.78" y="61.30" width="5.16" height="3.06" fill="#d2e7f6"/>
<rect x="422.04" y="61.30" width="5.16" height="3.06" fill="#d2e7f6"/>
<rect x="428.31" y="61.30" width="5.16" height="3.06" fill="#f9fafb"/>
<rect x="434.57" y="61.30" width="5.16" height="3.06" fill="#8fc5e7"/>
<rect x="440.83" y="61.30" width="5.16" height="3.06" fill="#d2e7f6"/>
<rect x="447.10" y="61.30" width="5.16" height="3.06" fill="#8fc5e7"/>
<rect x="453.36" y="61.30" width="5.16" height="3.06" fill="#fddcc8"/>
<rect x="459.62" y="61.30" width="5.16" height="3.06" fill="#fddcc8"/>
<rect x="465.89" y="61.30" width="5.16" height="3.06" fill="#df5a43"/>
<rect x="8.65" y="65.36" width="5.16" height="3.06" fill="#f9fafb"/>
<rect x="14.91" y="65.36" width="5.16" height="3.06" fill="#fddcc8"/>
<rect x="21.18" y="65.36" width="5.16" height="3.06" fill="#f9fafb"/>
<rect x="27.44" y="65.36" width="5.16" height="3.06" fill="#d2e7f6"/>
<rect x="33.70" y="65.36" width="5.16" height="3.06" fill="#f8a681"/>
<rect x="39.97" y="65.36" width="5.16" height="3.06" fill="#fddcc8"/>
<rect x="46.23" y="65.36" width="5.16" height="3.06" fill="#f8a681"/>
<rect x="52.49" y="65.36" width="5.16" height="3.06" fill="#fddcc8"/>
<rect x="58.76" y="65.36" width="5.16" height="3.06" fill="#f8a681"/>
<rect x="65.02" y="65.36" width="5.16" height="3.06" fill="#d2e7f6"/>
<rect x="71.29" y="65.36" width="5.16" height="3.06" fill="#f9fafb"/>
<rect x="77.55" y="65.36" width="5.16" height="3.06" fill="#1f65b6"/>
<rect x="83.81" y="65.36" width="5.16" height="3.06" fill="#f8a681"/>
<rect x="90.08" y="65.36" width="5.16" height="3.06" fill="#f9fafb"/>
<rect x="96.34" y="65.36" width="5.16" height="3.06" fill="#8fc5e7"/>
<rect x="102.60" y="65.36" width="5.16" height="3.06" fill="#f8a681"/>
<rect x="108.87" y="65.36" width="5.16" height="3.06" fill="#df5a43"/>
<rect x="115.13" y="65.36" width="5.16" height="3.06" fill="#fddcc8"/>
<rect x="121.39" y="65.36" width="5.16" height="3.06" fill="#8fc5e7"/>
<rect x="127.66" y="65.36" width="5.16" height="3.06" fill="#1f65b6"/>
<rect x="133.92" y="65.36" width="5.16" height="3.06" fill="#8fc5e7"/>
<rect x="140.18" y="65.36" width="5.16" height="3.06" fill="#fddcc8"/>
<rect x="146.45" y="65.36" width="5.16" height="3.06" fill="#fddcc8"/>
<rect x="152.71" y="65.36" width="5.16" height="3.06" fill="#fddcc8"/>
<rect x="158.97" y="65.36" width="5.16" height="3.06" fill="#6b0322"/>
<rect x="165.24" y="65.36" width="5.16" height="3.06" fill="#6b0322"/>
<rect x="171.50" y="65.36" width="5.16" height="3.06" fill="#f8a681"/>
<rect x="177.76" y="65.36" width="5.16" height="3.06" fill="#f8a681"/>
<rect x="184.03" y="65.36" width="5.16" height="3.06" fill="#f8a681"/>
<rect x="190.29" y="65.36" width="5.16" height="3.06" fill="#df5a43"/>
<rect x="196.56" y="65.36" width="5.16" height="3.06" fill="#8fc5e7"/>
<rect x="202.82" y="65.36" width="5.16" height="3.06" fill="#fddcc8"/>
<rect x="209.08" y="65.36" width="5.16" height="3.06" fill="#d2e7f6"/>
<rect x="215.35" y="65.36" width="5.16" height="3.06" fill="#f8a681"/>
<rect x="221.61" y="65.36" width="5.16" height="3.06" fill="#f9fafb"/>
<rect x="227.87" y="65.36" width="5.16" height="3.06" fill="#d2e7f6"/>
<rect x="234.14" y="65.36" width="5.16" height="3.06" fill="#8fc5e7"/>
<rect x="240.40" y="65.36" width="5.16" height="3.06" fill="#8fc5e7"/>
<rect x="246.66" y="65.36" width="5.16" height="3.06" fill="#d2e7f6"/>
<rect x="252.93" y="65.36" width="5.16" height="3.06" fill="#8fc5e7"/>
<rect x="259.19" y="65.36" width="5.16" height="3.06" fill="#d2e7f6"/>
<rect x="265.45" y="65.36" width="5.16" height="3.06" fill="#8fc5e7"/>
<rect x="271.72" y="65.36" width="5.16" height="3.06" fill="#8fc5e7"/>
<rect x="277.98" y="65.36" width="5.16" height="3.06" fill="#1f65b6"/>
<rect x="284.24" y="65.36" width="5.16" height="3.06" fill="#1f65b6"/>
<rect x="290.51" y="65.36" width="5.16" height="3.06" fill="#8fc5e7"/>
<rect x="296.77" y="65.36" width="5.16" height="3.06" fill="#8fc5e7"/>
<rect x="303.04" y="65.36" width="5.16" height="3.06" fill="#8fc5e7"/>
<rect x="309.30" y="65.36" width="5.16" height="3.06" fill="#d2e7f6"/>
<rect x="315.56" y="65.36" width="5.16" height="3.06" fill="#d2e7f6"/>
<rect x="321.83" y="65.36" width="5.16" height="3.06" fill="#8fc5e7"/>
<rect x="328.09" y="65.36" width="5.16" height="3.06" fill="#d2e7f6"/>
<rect x="334.35" y="65.36" width="5.16" height="3.06" fill="#8fc5e7"/>
<rect x="340.62" y="65.36" width="5.16" height="3.06" fill="#d2e7f6"/>
<rect x="346.88" y="65.36" width="5.16" height="3.06" fill="#8fc5e7"/>
<rect x="353.14" y="65.36" width="5.16" height="3.06" fill="#d2e7f6"/>
<rect x="359.41" y="65.36" width="5.16" height="3.06" fill="#d2e7f6"/>
<rect x="365.67" y="65.36" width="5.16" height="3.06" fill="#8fc5e7"/>
<rect x="371.93" y="65.36" width="5.16" height="3.06" fill="#d2e7f6"/>
<rect x="378.20" y="65.36" width="5.16" height="3.06" fill="#f9fafb"/>
<rect x="384.46" y="65.36" width="5.16" height="3.06" fill="#8fc5e7"/>
<rect x="390.72" y="65.36" width="5.16" height="3.06" fill="#f9fafb"/>
<rect x="396.99" y="65.36" width="5.16" height="3.06" fill="#d2e7f6"/>
<rect x="403.25" y="65.36" width="5.16" height="3.06" fill="#d2e7f6"/>
<rect x="409.51" y="65.36" width="5.16" height="3.06" fill="#d2e7f6"/>
<rect x="415.78" y="65.36" width="5.16" height="3.06" fill="#d2e7f6"/>
<rect x="422.04" y="65.36" width="5.16" height="3.06" fill="#8fc5e7"/>
<rect x="428.31" y="65.36" width="5.16" height="3.06" fill="#d2e7f6"/>
<rect x="434.57" y="65.36" width="5.16" height="3.06" fill="#8fc5e7"/>
<rect x="440.83" y="65.36" width="5.16" height="3.06" fill="#d2e7f6"/>
<rect x="447.10" y="65.36" width="5.16" height="3.06" fill="#f8a681"/>
<rect x="453.36" y="65.36" width="5.16" height="3.06" fill="#fddcc8"/>
<rect x="459.62" y="65.36" width="5.16" height="3.06" fill="#fddcc8"/>
<rect x="465.89" y="65.36" width="5.16" height="3.06" fill="#fddcc8"/>
<rect x="8.65" y="69.42" width="5.16" height="3.06" fill="#f9fafb"/>
<rect x="14.91" y="69.42" width="5.16" height="3.06" fill="#d2e7f6"/>
<rect x="21.18" y="69.42" width="5.16" height="3.06" fill="#8fc5e7"/>
<rect x="27.44" y="69.42" width="5.16" height="3.06" fill="#f9fafb"/>
<rect x="33.70" y="69.42" width="5.16" height="3.06" fill="#fddcc8"/>
<rect x="39.97" y="69.42" width="5.16" height="3.06" fill="#f8a681"/>
<rect x="46.23" y="69.42" width="5.16" height="3.06" fill="#f8a681"/>
<rect x="52.49" y="69.42" width="5.16" height="3.06" fill="#f8a681"/>
<rect x="58.76" y="69.42" width="5.16" height="3.06" fill="#f9fafb"/>
<rect x="65.02" y="69.42" width="5.16" height="3.06" fill="#d2e7f6"/>
<rect x="71.29" y="69.42" width="5.16" height="3.06" fill="#f8a681"/>
<rect x="77.55" y="69.42" width="5.16" height="3.06" fill="#fddcc8"/>
<rect x="83.81" y="69.42" width="5.16" height="3.06" fill="#3f90d0"/>
<rect x="90.08" y="69.42" width="5.16" height="3.06" fill="#f9fafb"/>
<rect x="96.34" y="69.42" width="5.16" height="3.06" fill="#f8a681"/>
<rect x="102.60" y="69.42" width="5.16" height="3.06" fill="#fddcc8"/>
<rect x="108.87" y="69.42" width="5.16" height="3.06" fill="#f8a681"/>
<rect x="115.13" y="69.42" width="5.16" height="3.06" fill="#fddcc8"/>
<rect x="121.39" y="69.42" width="5.16" height="3.06" fill="#8fc5e7"/>
<rect x="127.66" y="69.42" width="5.16" height="3.06" fill="#3f90d0"/>
<rect x="133.92" y="69.42" width="5.16" height="3.06" fill="#fddcc8"/>
<rect x="140.18" y="69.42" width="5.16" height="3.06" fill="#d2e7f6"/>
<rect x="146.45" y="69.42" width="5.16" height="3.06" fill="#b8172c"/>
<rect x="152.71" y="69.42" width="5.16" height="3.06" fill="#fddcc8"/>
<rect x="158.97" y="69.42" width="5.16" height="3.06" fill="#fddcc8"/>
<rect x="165.24" y="69.42" width="5.16" height="3.06" fill="#f9fafb"/>
<rect x="171.50" y="69.42" width="5.16" height="3.06" fill="#df5a43"/>
<rect x="177.76" y="69.42" width="5.16" height="3.06" fill="#df5a43"/>
<rect x="184.03" y="69.42" width="5.16" height="3.06" fill="#df5a43"/>
<rect x="190.29" y="69.42" width="5.16" height="3.06" fill="#6b0322"/>
<rect x="196.56" y="69.42" width="5.16" height="3.06" fill="#f8a681"/>
<rect x="202.82" y="69.42" width="5.16" height="3.06" fill="#8fc5e7"/>
<rect x="209.08" y="69.42" width="5.16" height="3.06" fill="#8fc5e7"/>
<rect x="215.35" y="69.42" width="5.16" height="3.06" fill="#f8a681"/>
<rect x="221.61" y="69.42" width="5.16" height="3.06" fill="#f8a681"/>
<rect x="227.87" y="69.42" width="5.16" height="3.06" fill="#8fc5e7"/>
<rect x="234.14" y="69.42" width="5.16" height="3.06" fill="#3f90d0"/>
<rect x="240.40" y="69.42" width="5.16" height="3.06" fill="#8fc5e7"/>
<rect x="246.66" y="69.42" width="5.16" height="3.06" fill="#8fc5e7"/>
<rect x="252.93" y="69.42" width="5.16" height="3.06" fill="#8fc5e7"/>
<rect x="259.19" y="69.42" width="5.16" height="3.06" fill="#3f90d0"/>
<rect x="265.45" y="69.42" width="5.16" height="3.06" fill="#8fc5e7"/>
<rect x="271.72" y="69.42" width="5.16" height="3.06" fill="#8fc5e7"/>
<rect x="277.98" y="69.42" width="5.16" height="3.06" fill="#1f65b6"/>
<rect x="284.24" y="69.42" width="5.16" height="3.06" fill="#1f65b6"/>
<rect x="290.51" y="69.42" width="5.16" height="3.06" fill="#3f90d0"/>
<rect x="296.77" y="69.42" width="5.16" height="3.06" fill="#3f90d0"/>
<rect x="303.04" y="69.42" width="5.16" height="3.06" fill="#8fc5e7"/>
<rect x="309.30" y="69.42" width="5.16" height="3.06" fill="#8fc5e7"/>
<rect x="315.56" y="69.42" width="5.16" height="3.06" fill="#d2e7f6"/>
<rect x="321.83" y="69.42" width="5.16" height="3.06" fill="#f9fafb"/>
<rect x="328.09" y="69.42" width="5.16" height="3.06" fill="#d2e7f6"/>
<rect x="334.35" y="69.42" width="5.16" height="3.06" fill="#d2e7f6"/>
<rect x="340.62" y="69.42" width="5.16" height="3.06" fill="#8fc5e7"/>
<rect x="346.88" y="69.42" width="5.16" height="3.06" fill="#d2e7f6"/>
<rect x="353.14" y="69.42" width="5.16" height="3.06" fill="#d2e7f6"/>
<rect x="359.41" y="69.42" width="5.16" height="3.06" fill="#8fc5e7"/>
<rect x="365.67" y="69.42" width="5.16" height="3.06" fill="#8fc5e7"/>
<rect x="371.93" y="69.42" width="5.16" height="3.06" fill="#d2e7f6"/>
<rect x="378.20" y="69.42" width="5.16" height="3.06" fill="#8fc5e7"/>
<rect x="384.46" y="69.42" width="5.16" height="3.06" fill="#8fc5e7"/>
<rect x="390.72" y="69.42" width="5.16" height="3.06" fill="#f9fafb"/>
<rect x="396.99" y="69.42" width="5.16" height="3.06" fill="#f9fafb"/>
<rect x="403.25" y="69.42" width="5.16" height="3.06" fill="#d2e7f6"/>
<rect x="409.51" y="69.42" width="5.16" height="3.06" fill="#d2e7f6"/>
<rect x="415.78" y="69.42" width="5.16" height="3.06" fill="#8fc5e7"/>
<rect x="422.04" y="69.42" width="5.16" height="3.06" fill="#f9fafb"/>
<rect x="428.31" y="69.42" width="5.16" height="3.06" fill="#d2e7f6"/>
<rect x="434.57" y="69.42" width="5.16" height="3.06" fill="#3f90d0"/>
<rect x="440.83" y="69.42" width="5.16" height="3.06" fill="#f9fafb"/>
<rect x="447.10" y="69.42" width="5.16" height="3.06" fill="#f8a681"/>
<rect x="453.36" y="69.42" width="5.16" height="3.06" fill="#d2e7f6"/>
<rect x="459.62" y="69.42" width="5.16" height="3.06" fill="#fddcc8"/>
<rect x="465.89" y="69.42" width="5.16" height="3.06" fill="#8fc5e7"/>
<rect x="8.65" y="73.48" width="5.16" height="3.06" fill="#d2e7f6"/>
<rect x="14.91" y="73.48" width="5.16" height="3.06" fill="#8fc5e7"/>
<rect x="21.18" y="73.48" width="5.16" height="3.06" fill="#fddcc8"/>
<rect x="27.44" y="73.48" width="5.16" height="3.06" fill="#fddcc8"/>
<rect x="33.70" y="73.48" width="5.16" height="3.06" fill="#fddcc8"/>
<rect x="39.97" y="73.48" width="5.16" height="3.06" fill="#f8a681"/>
<rect x="46.23" y="73.48" width="5.16" height="3.06" fill="#f8a681"/>
<rect x="52.49" y="73.48" width="5.16" height="3.06" fill="#f8a681"/>
<rect x="58.76" y="73.48" width="5.16" height="3.06" fill="#fddcc8"/>
<rect x="65.02" y="73.48" width="5.16" height="3.06" fill="#f9fafb"/>
<rect x="71.29" y="73.48" width="5.16" height="3.06" fill="#fddcc8"/>
<rect x="77.55" y="73.48" width="5.16" height="3.06" fill="#f8a681"/>
<rect x="83.81" y="73.48" width="5.16" height="3.06" fill="#d2e7f6"/>
<rect x="90.08" y="73.48" width="5.16" height="3.06" fill="#8fc5e7"/>
<rect x="96.34" y="73.48" width="5.16" height="3.06" fill="#f8a681"/>
<rect x="102.60" y="73.48" width="5.16" height="3.06" fill="#fddcc8"/>
<rect x="108.87" y="73.48" width="5.16" height="3.06" fill="#f9fafb"/>
<rect x="115.13" y="73.48" width="5.16" height="3.06" fill="#f8a681"/>
<rect x="121.39" y="73.48" width="5.16" height="3.06" fill="#d2e7f6"/>
<rect x="127.66" y="73.48" width="5.16" height="3.06" fill="#8fc5e7"/>
<rect x="133.92" y="73.48" width="5.16" height="3.06" fill="#8fc5e7"/>
<rect x="140.18" y="73.48" width="5.16" height="3.06" fill="#8fc5e7"/>
<rect x="146.45" y="73.48" width="5.16" height="3.06" fill="#f8a681"/>
<rect x="152.71" y="73.48" width="5.16" height="3.06" fill="#fddcc8"/>
<rect x="158.97" y="73.48" width="5.16" height="3.06" fill="#f9fafb"/>
<rect x="165.24" y="73.48" width="5.16" height="3.06" fill="#f9fafb"/>
<rect x="171.50" y="73.48" width="5.16" height="3.06" fill="#f8a681"/>
<rect x="177.76" y="73.48" width="5.16" height="3.06" fill="#f8a681"/>
<rect x="184.03" y="73.48" width="5.16" height="3.06" fill="#df5a43"/>
<rect x="190.29" y="73.48" width="5.16" height="3.06" fill="#df5a43"/>
<rect x="196.56" y="73.48" width="5.16" height="3.06" fill="#fddcc8"/>
<rect x="202.82" y="73.48" width="5.16" height="3.06" fill="#8fc5e7"/>
<rect x="209.08" y="73.48" width="5.16" height="3.06" fill="#8fc5e7"/>
<rect x="215.35" y="73.48" width="5.16" height="3.06" fill="#fddcc8"/>
<rect x="221.61" y="73.48" width="5.16" height="3.06" fill="#f8a681"/>
<rect x="227.87" y="73.48" width="5.16" height="3.06" fill="#8fc5e7"/>
<rect x="234.14" y="73.48" width="5.16" height="3.06" fill="#8fc5e7"/>
<rect x="240.40" y="73.48" width="5.16" height="3.06" fill="#8fc5e7"/>
<rect x="246.66" y="73.48" width="5.16" height="3.06" fill="#8fc5e7"/>
<rect x="252.93" y="73.48" width="5.16" height="3.06" fill="#8fc5e7"/>
<rect x="259.19" y="73.48" width="5.16" height="3.06" fill="#8fc5e7"/>
<rect x="265.45" y="73.48" width="5.16" height="3.06" fill="#8fc5e7"/>
<rect x="271.72" y="73.48" width="5.16" height="3.06" fill="#f9fafb"/>
<rect x="277.98" y="73.48" width="5.16" height="3.06" fill="#1f65b6"/>
<rect x="284.24" y="73.48" width="5.16" height="3.06" fill="#1f65b6"/>
<rect x="290.51" y="73.48" width="5.16" height="3.06" fill="#3f90d0"/>
<rect x="296.77" y="73.48" width="5.16" height="3.06" fill="#3f90d0"/>
<rect x="303.04" y="73.48" width="5.16" height="3.06" fill="#8fc5e7"/>
<rect x="309.30" y="73.48" width="5.16" height="3.06" fill="#f9fafb"/>
<rect x="315.56" y="73.48" width="5.16" height="3.06" fill="#d2e7f6"/>
<rect x="321.83" y="73.48" width="5.16" height="3.06" fill="#d2e7f6"/>
<rect x="328.09" y="73.48" width="5.16" height="3.06" fill="#8fc5e7"/>
<rect x="334.35" y="73.48" width="5.16" height="3.06" fill="#d2e7f6"/>
<rect x="340.62" y="73.48" width="5.16" height="3.06" fill="#8fc5e7"/>
<rect x="346.88" y="73.48" width="5.16" height="3.06" fill="#d2e7f6"/>
<rect x="353.14" y="73.48" width="5.16" height="3.06" fill="#d2e7f6"/>
<rect x="359.41" y="73.48" width="5.16" height="3.06" fill="#8fc5e7"/>
<rect x="365.67" y="73.48" width="5.16" height="3.06" fill="#8fc5e7"/>
<rect x="371.93" y="73.48" width="5.16" height="3.06" fill="#d2e7f6"/>
<rect x="378.20" y="73.48" width="5.16" height="3.06" fill="#8fc5e7"/>
<rect x="384.46" y="73.48" width="5.16" height="3.06" fill="#8fc5e7"/>
<rect x="390.72" y="73.48" width="5.16" height="3.06" fill="#f9fafb"/>
<rect x="396.99" y="73.48" width="5.16" height="3.06" fill="#d2e7f6"/>
<rect x="403.25" y="73.48" width="5.16" height="3.06" fill="#d2e7f6"/>
<rect x="409.51" y="73.48" width="5.16" height="3.06" fill="#d2e7f6"/>
<rect x="415.78" y="73.48" width="5.16" height="3.06" fill="#8fc5e7"/>
<rect x="422.04" y="73.48" width="5.16" height="3.06" fill="#8fc5e7"/>
<rect x="428.31" y="73.48" width="5.16" height="3.06" fill="#d2e7f6"/>
<rect x="434.57" y="73.48" width="5.16" height="3.06" fill="#fddcc8"/>
<rect x="440.83" y="73.48" width="5.16" height="3.06" fill="#d2e7f6"/>
<rect x="447.10" y="73.48" width="5.16" height="3.06" fill="#8fc5e7"/>
<rect x="453.36" y="73.48" width="5.16" height="3.06" fill="#fddcc8"/>
<rect x="459.62" y="73.48" width="5.16" height="3.06" fill="#3f90d0"/>
<rect x="465.89" y="73.48" width="5.16" height="3.06" fill="#8fc5e7"/>
<rect x="8.65" y="77.54" width="5.16" height="3.06" fill="#f9fafb"/>
<rect x="14.91" y="77.54" width="5.16" height="3.06" fill="#fddcc8"/>
<rect x="21.18" y="77.54" width="5.16" height="3.06" fill="#3f90d0"/>
<rect x="27.44" y="77.54" width="5.16" height="3.06" fill="#f8a681"/>
<rect x="33.70" y="77.54" width="5.16" height="3.06" fill="#fddcc8"/>
<rect x="39.97" y="77.54" width="5.16" height="3.06" fill="#f8a681"/>
<rect x="46.23" y="77.54" width="5.16" height="3.06" fill="#f8a681"/>
<rect x="52.49" y="77.54" width="5.16" height="3.06" fill="#f8a681"/>
<rect x="58.76" y="77.54" width="5.16" height="3.06" fill="#f8a681"/>
<rect x="65.02" y="77.54" width="5.16" height="3.06" fill="#f9fafb"/>
<rect x="71.29" y="77.54" width="5.16" height="3.06" fill="#fddcc8"/>
<rect x="77.55" y="77.54" width="5.16" height="3.06" fill="#8fc5e7"/>
<rect x="83.81" y="77.54" width="5.16" height="3.06" fill="#fddcc8"/>
<rect x="90.08" y="77.54" width="5.16" height="3.06" fill="#fddcc8"/>
<rect x="96.34" y="77.54" width="5.16" height="3.06" fill="#f8a681"/>
<rect x="102.60" y="77.54" width="5.16" height="3.06" fill="#fddcc8"/>
<rect x="108.87" y="77.54" width="5.16" height="3.06" fill="#f8a681"/>
<rect x="115.13" y="77.54" width="5.16" height="3.06" fill="#df5a43"/>
<rect x="121.39" y="77.54" width="5.16" height="3.06" fill="#fddcc8"/>
<rect x="127.66" y="77.54" width="5.16" height="3.06" fill="#fddcc8"/>
<rect x="133.92" y="77.54" width="5.16" height="3.06" fill="#f8a681"/>
<rect x="140.18" y="77.54" width="5.16" height="3.06" fill="#f8a681"/>
<rect x="146.45" y="77.54" width="5.16" height="3.06" fill="#8fc5e7"/>
<rect x="152.71" y="77.54" width="5.16" height="3.06" fill="#fddcc8"/>
<rect x="158.97" y="77.54" width="5.16" height="3.06" fill="#f9fafb"/>
<rect x="165.24" y="77.54" width="5.16" height="3.06" fill="#8fc5e7"/>
<rect x="171.50" y="77.54" width="5.16" height="3.06" fill="#8fc5e7"/>
<rect x="177.76" y="77.54" width="5.16" height="3.06" fill="#8fc5e7"/>
<rect x="184.03" y="77.54" width="5.16" height="3.06" fill="#8fc5e7"/>
<rect x="190.29" y="77.54" width="5.16" height="3.06" fill="#8fc5e7"/>
<rect x="196.56" y="77.54" width="5.16" height="3.06" fill="#8fc5e7"/>
<rect x="202.82" y="77.54" width="5.16" height="3.06" fill="#8fc5e7"/>
<rect x="209.08" y="77.54" width="5.16" height="3.06" fill="#fddcc8"/>
<rect x="215.35" y="77.54" width="5.16" height="3.06" fill="#f8a681"/>
<rect x="221.61" y="77.54" width="5.16" height="3.06" fill="#f8a681"/>
<rect x="227.87" y="77.54" width="5.16" height="3.06" fill="#d2e7f6"/>
<rect x="234.14" y="77.54" width="5.16" height="3.06" fill="#f8a681"/>
<rect x="240.40" y="77.54" width="5.16" height="3.06" fill="#df5a43"/>
<rect x="246.66" y="77.54" width="5.16" height="3.06" fill="#f8a681"/>
<rect x="252.93" y="77.54" width="5.16" height="3.06" fill="#f8a681"/>
<rect x="259.19" y="77.54" width="5.16" height="3.06" fill="#000000"/>
<rect x="265.45" y="77.54" width="5.16" height="3.06" fill="#f9fafb"/>
<rect x="271.72" y="77.54" width="5.16" height="3.06" fill="#f9fafb"/>
<rect x="277.98" y="77.54" width="5.16" height="3.06" fill="#f9fafb"/>
<rect x="284.24" y="77.54" width="5.16" height="3.06" fill="#f9fafb"/>
<rect x="290.51" y="77.54" width="5.16" height="3.06" fill="#fddcc8"/>
<rect x="296.77" y="77.54" width="5.16" height="3.06" fill="#fddcc8"/>
<rect x="303.04" y="77.54" width="5.16" height="3.06" fill="#8fc5e7"/>
<rect x="309.30" y="77.54" width="5.16" height="3.06" fill="#d2e7f6"/>
<rect x="315.56" y="77.54" width="5.16" height="3.06" fill="#d2e7f6"/>
<rect x="321.83" y="77.54" width="5.16" height="3.06" fill="#f9fafb"/>
<rect x="328.09" y="77.54" width="5.16" height="3.06" fill="#8fc5e7"/>
<rect x="334.35" y="77.54" width="5.16" height="3.06" fill="#d2e7f6"/>
<rect x="340.62" y="77.54" width="5.16" height="3.06" fill="#8fc5e7"/>
<rect x="346.88" y="77.54" width="5.16" height="3.06" fill="#d2e7f6"/>
<rect x="353.14" y="77.54" width="5.16" height="3.06" fill="#8fc5e7"/>
<rect x="359.41" y="77.54" width="5.16" height="3.06" fill="#8fc5e7"/>
<rect x="365.67" y="77.54" width="5.16" height="3.06" fill="#8fc5e7"/>
<rect x="371.93" y="77.54" width="5.16" height="3.06" fill="#8fc5e7"/>
<rect x="378.20" y="77.54" width="5.16" height="3.06" fill="#f9fafb"/>
<rect x="384.46" y="77.54" width="5.16" height="3.06" fill="#f8a681"/>
<rect x="390.72" y="77.54" width="5.16" height="3.06" fill="#8fc5e7"/>
<rect x="396.99" y="77.54" width="5.16" height="3.06" fill="#8fc5e7"/>
<rect x="403.25" y="77.54" width="5.16" height="3.06" fill="#8fc5e7"/>
<rect x="409.51" y="77.54" width="5.16" height="3.06" fill="#f9fafb"/>
<rect x="415.78" y="77.54" width="5.16" height="3.06" fill="#8fc5e7"/>
<rect x="422.04" y="77.54" width="5.16" height="3.06" fill="#8fc5e7"/>
<rect x="428.31" y="77.54" width="5.16" height="3.06" fill="#d2e7f6"/>
<rect x="434.57" y="77.54" width="5.16" height="3.06" fill="#fddcc8"/>
<rect x="440.83" y="77.54" width="5.16" height="3.06" fill="#8fc5e7"/>
<rect x="447.10" y="77.54" width="5.16" height="3.06" fill="#f8a681"/>
<rect x="453.36" y="77.54" width="5.16" height="3.06" fill="#8fc5e7"/>
<rect x="459.62" y="77.54" width="5.16" height="3.06" fill="#f8a681"/>
<rect x="465.89" y="77.54" width="5.16" height="3.06" fill="#f9fafb"/>
<rect x="8.65" y="81.60" width="5.16" height="3.06" fill="#000000"/>
<rect x="14.91" y="81.60" width="5.16" height="3.06" fill="#fddcc8"/>
<rect x="21.18" y="81.60" width="5.16" height="3.06" fill="#d2e7f6"/>
<rect x="27.44" y="81.60" width="5.16" height="3.06" fill="#f8a681"/>
<rect x="33.70" y="81.60" width="5.16" height="3.06" fill="#fddcc8"/>
<rect x="39.97" y="81.60" width="5.16" height="3.06" fill="#f8a681"/>
<rect x="46.23" y="81.60" width="5.16" height="3.06" fill="#f8a681"/>
<rect x="52.49" y="81.60" width="5.16" height="3.06" fill="#f8a681"/>
<rect x="58.76" y="81.60" width="5.16" height="3.06" fill="#f8a681"/>
<rect x="65.02" y="81.60" width="5.16" height="3.06" fill="#f8a681"/>
<rect x="71.29" y="81.60" width="5.16" height="3.06" fill="#fddcc8"/>
<rect x="77.55" y="81.60" width="5.16" height="3.06" fill="#8fc5e7"/>
<rect x="83.81" y="81.60" width="5.16" height="3.06" fill="#000000"/>
<rect x="90.08" y="81.60" width="5.16" height="3.06" fill="#d2e7f6"/>
<rect x="96.34" y="81.60" width="5.16" height="3.06" fill="#8fc5e7"/>
<rect x="102.60" y="81.60" width="5.16" height="3.06" fill="#3f90d0"/>
<rect x="108.87" y="81.60" width="5.16" height="3.06" fill="#df5a43"/>
<rect x="115.13" y="81.60" width="5.16" height="3.06" fill="#f8a681"/>
<rect x="121.39" y="81.60" width="5.16" height="3.06" fill="#f9fafb"/>
<rect x="127.66" y="81.60" width="5.16" height="3.06" fill="#f8a681"/>
<rect x="133.92" y="81.60" width="5.16" height="3.06" fill="#f8a681"/>
<rect x="140.18" y="81.60" width="5.16" height="3.06" fill="#8fc5e7"/>
<rect x="146.45" y="81.60" width="5.16" height="3.06" fill="#d2e7f6"/>
<rect x="152.71" y="81.60" width="5.16" height="3.06" fill="#fddcc8"/>
<rect x="158.97" y="81.60" width="5.16" height="3.06" fill="#d2e7f6"/>
<rect x="165.24" y="81.60" width="5.16" height="3.06" fill="#f9fafb"/>
<rect x="171.50" y="81.60" width="5.16" height="3.06" fill="#f9fafb"/>
<rect x="177.76" y="81.60" width="5.16" height="3.06" fill="#8fc5e7"/>
<rect x="184.03" y="81.60" width="5.16" height="3.06" fill="#d2e7f6"/>
<rect x="190.29" y="81.60" width="5.16" height="3.06" fill="#df5a43"/>
<rect x="196.56" y="81.60" width="5.16" height="3.06" fill="#f8a681"/>
<rect x="202.82" y="81.60" width="5.16" height="3.06" fill="#8fc5e7"/>
<rect x="209.08" y="81.60" width="5.16" height="3.06" fill="#8fc5e7"/>
<rect x="215.35" y="81.60" width="5.16" height="3.06" fill="#f8a681"/>
<rect x="221.61" y="81.60" width="5.16" height="3.06" fill="#f8a681"/>
<rect x="227.87" y="81.60" width="5.16" height="3.06" fill="#8fc5e7"/>
<rect x="234.14" y="81.60" width="5.16" height="3.06" fill="#fddcc8"/>
<rect x="240.40" y="81.60" width="5.16" height="3.06" fill="#fddcc8"/>
<rect x="246.66" y="81.60" width="5.16" height="3.06" fill="#f9fafb"/>
<rect x="252.93" y="81.60" width="5.16" height="3.06" fill="#fddcc8"/>
<rect x="259.19" y="81.60" width="5.16" height="3.06" fill="#000000"/>
<rect x="265.45" y="81.60" width="5.16" height="3.06" fill="#8fc5e7"/>
<rect x="271.72" y="81.60" width="5.16" height="3.06" fill="#8fc5e7"/>
<rect x="277.98" y="81.60" width="5.16" height="3.06" fill="#f9fafb"/>
<rect x="284.24" y="81.60" width="5.16" height="3.06" fill="#d2e7f6"/>
<rect x="290.51" y="81.60" width="5.16" height="3.06" fill="#f9fafb"/>
<rect x="296.77" y="81.60" width="5.16" height="3.06" fill="#f9fafb"/>
<rect x="303.04" y="81.60" width="5.16" height="3.06" fill="#8fc5e7"/>
<rect x="309.30" y="81.60" width="5.16" height="3.06" fill="#d2e7f6"/>
<rect x="315.56" y="81.60" width="5.16" height="3.06" fill="#d2e7f6"/>
<rect x="321.83" y="81.60" width="5.16" height="3.06" fill="#8fc5e7"/>
<rect x="328.09" y="81.60" width="5.16" height="3.06" fill="#d2e7f6"/>
<rect x="334.35" y="81.60" width="5.16" height="3.06" fill="#d2e7f6"/>
<rect x="340.62" y="81.60" width="5.16" height="3.06" fill="#8fc5e7"/>
<rect x="346.88" y="81.60" width="5.16" height="3.06" fill="#d2e7f6"/>
<rect x="353.14" y="81.60" width="5.16" height="3.06" fill="#d2e7f6"/>
<rect x="359.41" y="81.60" width="5.16" height="3.06" fill="#8fc5e7"/>
<rect x="365.67" y="81.60" width="5.16" height="3.06" fill="#8fc5e7"/>
<rect x="371.93" y="81.60" width="5.16" height="3.06" fill="#d2e7f6"/>
<rect x="378.20" y="81.60" width="5.16" height="3.06" fill="#8fc5e7"/>
<rect x="384.46" y="81.60" width="5.16" height="3.06" fill="#f8a681"/>
<rect x="390.72" y="81.60" width="5.16" height="3.06" fill="#3f90d0"/>
<rect x="396.99" y="81.60" width="5.16" height="3.06" fill="#d2e7f6"/>
<rect x="403.25" y="81.60" width="5.16" height="3.06" fill="#d2e7f6"/>
<rect x="409.51" y="81.60" width="5.16" height="3.06" fill="#8fc5e7"/>
<rect x="415.78" y="81.60" width="5.16" height="3.06" fill="#d2e7f6"/>
<rect x="422.04" y="81.60" width="5.16" height="3.06" fill="#8fc5e7"/>
<rect x="428.31" y="81.60" width="5.16" height="3.06" fill="#d2e7f6"/>
<rect x="434.57" y="81.60" width="5.16" height="3.06" fill="#fddcc8"/>
<rect x="440.83" y="81.60" width="5.16" height="3.06" fill="#d2e7f6"/>
<rect x="447.10" y="81.60" width="5.16" height="3.06" fill="#8fc5e7"/>
<rect x="453.36" y="81.60" width="5.16" height="3.06" fill="#8fc5e7"/>
<rect x="459.62" y="81.60" width="5.16" height="3.06" fill="#f9fafb"/>
<rect x="465.89" y="81.60" width="5.16" height="3.06" fill="#8fc5e7"/>
<rect x="8.65" y="86.80" width="5.16" height="3.06" fill="#1f65b6"/>
<rect x="14.91" y="86.80" width="5.16" height="3.06" fill="#3f90d0"/>
<rect x="21.18" y="86.80" width="5.16" height="3.06" fill="#d2e7f6"/>
<rect x="27.44" y="86.80" width="5.16" height="3.06" fill="#3f90d0"/>
<rect x="33.70" y="86.80" width="5.16" height="3.06" fill="#3f90d0"/>
<rect x="39.97" y="86.80" width="5.16" height="3.06" fill="#8fc5e7"/>
<rect x="46.23" y="86.80" width="5.16" height="3.06" fill="#3f90d0"/>
<rect x="52.49" y="86.80" width="5.16" height="3.06" fill="#8fc5e7"/>
<rect x="58.76" y="86.80" width="5.16" height="3.06" fill="#8fc5e7"/>
<rect x="65.02" y="86.80" width="5.16" height="3.06" fill="#3f90d0"/>
<rect x="71.29" y="86.80" width="5.16" height="3.06" fill="#fddcc8"/>
<rect x="77.55" y="86.80" width="5.16" height="3.06" fill="#f8a681"/>
<rect x="83.81" y="86.80" width="5.16" height="3.06" fill="#f8a681"/>
<rect x="90.08" y="86.80" width="5.16" height="3.06" fill="#8fc5e7"/>
<rect x="96.34" y="86.80" width="5.16" height="3.06" fill="#000000"/>
<rect x="102.60" y="86.80" width="5.16" height="3.06" fill="#f9fafb"/>
<rect x="108.87" y="86.80" width="5.16" height="3.06" fill="#fddcc8"/>
<rect x="115.13" y="86.80" width="5.16" height="3.06" fill="#8fc5e7"/>
<rect x="121.39" y="86.80" width="5.16" height="3.06" fill="#b8172c"/>
<rect x="127.66" y="86.80" width="5.16" height="3.06" fill="#fddcc8"/>
<rect x="133.92" y="86.80" width="5.16" height="3.06" fill="#f8a681"/>
<rect x="140.18" y="86.80" width="5.16" height="3.06" fill="#d2e7f6"/>
<rect x="146.45" y="86.80" width="5.16" height="3.06" fill="#d2e7f6"/>
<rect x="152.71" y="86.80" width="5.16" height="3.06" fill="#d2e7f6"/>
<rect x="158.97" y="86.80" width="5.16" height="3.06" fill="#d2e7f6"/>
<rect x="165.24" y="86.80" width="5.16" height="3.06" fill="#f9fafb"/>
<rect x="171.50" y="86.80" width="5.16" height="3.06" fill="#8fc5e7"/>
<rect x="177.76" y="86.80" width="5.16" height="3.06" fill="#d2e7f6"/>
<rect x="184.03" y="86.80" width="5.16" height="3.06" fill="#8fc5e7"/>
<rect x="190.29" y="86.80" width="5.16" height="3.06" fill="#8fc5e7"/>
<rect x="196.56" y="86.80" width="5.16" height="3.06" fill="#8fc5e7"/>
<rect x="202.82" y="86.80" width="5.16" height="3.06" fill="#f9fafb"/>
<rect x="209.08" y="86.80" width="5.16" height="3.06" fill="#df5a43"/>
<rect x="215.35" y="86.80" width="5.16" height="3.06" fill="#f8a681"/>
<rect x="221.61" y="86.80" width="5.16" height="3.06" fill="#fddcc8"/>
<rect x="227.87" y="86.80" width="5.16" height="3.06" fill="#fddcc8"/>
<rect x="234.14" y="86.80" width="5.16" height="3.06" fill="#f8a681"/>
<rect x="240.40" y="86.80" width="5.16" height="3.06" fill="#f8a681"/>
<rect x="246.66" y="86.80" width="5.16" height="3.06" fill="#fddcc8"/>
<rect x="252.93" y="86.80" width="5.16" height="3.06" fill="#fddcc8"/>
<rect x="259.19" y="86.80" width="5.16" height="3.06" fill="#f8a681"/>
<rect x="265.45" y="86.80" width="5.16" height="3.06" fill="#f8a681"/>
<rect x="271.72" y="86.80" width="5.16" height="3.06" fill="#df5a43"/>
<rect x="277.98" y="86.80" width="5.16" height="3.06" fill="#f8a681"/>
<rect x="284.24" y="86.80" width="5.16" height="3.06" fill="#fddcc8"/>
<rect x="290.51" y="86.80" width="5.16" height="3.06" fill="#f8a681"/>
<rect x="296.77" y="86.80" width="5.16" height="3.06" fill="#f8a681"/>
<rect x="303.04" y="86.80" width="5.16" height="3.06" fill="#b8172c"/>
<rect x="309.30" y="86.80" width="5.16" height="3.06" fill="#df5a43"/>
<rect x="315.56" y="86.80" width="5.16" height="3.06" fill="#b8172c"/>
<rect x="321.83" y="86.80" width="5.16" height="3.06" fill="#df5a43"/>
<rect x="328.09" y="86.80" width="5.16" height="3.06" fill="#f8a681"/>
<rect x="334.35" y="86.80" width="5.16" height="3.06" fill="#fddcc8"/>
<rect x="340.62" y="86.80" width="5.16" height="3.06" fill="#f8a681"/>
<rect x="346.88" y="86.80" width="5.16" height="3.06" fill="#f8a681"/>
<rect x="353.14" y="86.80" width="5.16" height="3.06" fill="#fddcc8"/>
<rect x="359.41" y="86.80" width="5.16" height="3.06" fill="#f8a681"/>
<rect x="365.67" y="86.80" width="5.16" height="3.06" fill="#f8a681"/>
<rect x="371.93" y="86.80" width="5.16" height="3.06" fill="#f9fafb"/>
<rect x="378.20" y="86.80" width="5.16" height="3.06" fill="#f8a681"/>
<rect x="384.46" y="86.80" width="5.16" height="3.06" fill="#d2e7f6"/>
<rect x="390.72" y="86.80" width="5.16" height="3.06" fill="#f8a681"/>
<rect x="396.99" y="86.80" width="5.16" height="3.06" fill="#f8a681"/>
<rect x="403.25" y="86.80" width="5.16" height="3.06" fill="#f8a681"/>
<rect x="409.51" y="86.80" width="5.16" height="3.06" fill="#f8a681"/>
<rect x="415.78" y="86.80" width="5.16" height="3.06" fill="#df5a43"/>
<rect x="422.04" y="86.80" width="5.16" height="3.06" fill="#f8a681"/>
<rect x="428.31" y="86.80" width="5.16" height="3.06" fill="#f9fafb"/>
<rect x="434.57" y="86.80" width="5.16" height="3.06" fill="#8fc5e7"/>
<rect x="440.83" y="86.80" width="5.16" height="3.06" fill="#8fc5e7"/>
<rect x="447.10" y="86.80" width="5.16" height="3.06" fill="#8fc5e7"/>
<rect x="453.36" y="86.80" width="5.16" height="3.06" fill="#f9fafb"/>
<rect x="459.62" y="86.80" width="5.16" height="3.06" fill="#f9fafb"/>
<rect x="465.89" y="86.80" width="5.16" height="3.06" fill="#f8a681"/>
<rect x="8.65" y="90.86" width="5.16" height="3.06" fill="#df5a43"/>
<rect x="14.91" y="90.86" width="5.16" height="3.06" fill="#fddcc8"/>
<rect x="21.18" y="90.86" width="5.16" height="3.06" fill="#fddcc8"/>
<rect x="27.44" y="90.86" width="5.16" height="3.06" fill="#8fc5e7"/>
<rect x="33.70" y="90.86" width="5.16" height="3.06" fill="#8fc5e7"/>
<rect x="39.97" y="90.86" width="5.16" height="3.06" fill="#8fc5e7"/>
<rect x="46.23" y="90.86" width="5.16" height="3.06" fill="#3f90d0"/>
<rect x="52.49" y="90.86" width="5.16" height="3.06" fill="#8fc5e7"/>
<rect x="58.76" y="90.86" width="5.16" height="3.06" fill="#8fc5e7"/>
<rect x="65.02" y="90.86" width="5.16" height="3.06" fill="#8fc5e7"/>
<rect x="71.29" y="90.86" width="5.16" height="3.06" fill="#f9fafb"/>
<rect x="77.55" y="90.86" width="5.16" height="3.06" fill="#f8a681"/>
<rect x="83.81" y="90.86" width="5.16" height="3.06" fill="#f8a681"/>
<rect x="90.08" y="90.86" width="5.16" height="3.06" fill="#f8a681"/>
<rect x="96.34" y="90.86" width="5.16" height="3.06" fill="#f8a681"/>
<rect x="102.60" y="90.86" width="5.16" height="3.06" fill="#fddcc8"/>
<rect x="108.87" y="90.86" width="5.16" height="3.06" fill="#f9fafb"/>
<rect x="115.13" y="90.86" width="5.16" height="3.06" fill="#d2e7f6"/>
<rect x="121.39" y="90.86" width="5.16" height="3.06" fill="#8fc5e7"/>
<rect x="127.66" y="90.86" width="5.16" height="3.06" fill="#fddcc8"/>
<rect x="133.92" y="90.86" width="5.16" height="3.06" fill="#fddcc8"/>
<rect x="140.18" y="90.86" width="5.16" height="3.06" fill="#d2e7f6"/>
<rect x="146.45" y="90.86" width="5.16" height="3.06" fill="#d2e7f6"/>
<rect x="152.71" y="90.86" width="5.16" height="3.06" fill="#3f90d0"/>
<rect x="158.97" y="90.86" width="5.16" height="3.06" fill="#d2e7f6"/>
<rect x="165.24" y="90.86" width="5.16" height="3.06" fill="#d2e7f6"/>
<rect x="171.50" y="90.86" width="5.16" height="3.06" fill="#8fc5e7"/>
<rect x="177.76" y="90.86" width="5.16" height="3.06" fill="#d2e7f6"/>
<rect x="184.03" y="90.86" width="5.16" height="3.06" fill="#8fc5e7"/>
<rect x="190.29" y="90.86" width="5.16" height="3.06" fill="#8fc5e7"/>
<rect x="196.56" y="90.86" width="5.16" height="3.06" fill="#8fc5e7"/>
<rect x="202.82" y="90.86" width="5.16" height="3.06" fill="#f9fafb"/>
<rect x="209.08" y="90.86" width="5.16" height="3.06" fill="#3f90d0"/>
<rect x="215.35" y="90.86" width="5.16" height="3.06" fill="#8fc5e7"/>
<rect x="221.61" y="90.86" width="5.16" height="3.06" fill="#8fc5e7"/>
<rect x="227.87" y="90.86" width="5.16" height="3.06" fill="#f9fafb"/>
<rect x="234.14" y="90.86" width="5.16" height="3.06" fill="#fddcc8"/>
<rect x="240.40" y="90.86" width="5.16" height="3.06" fill="#fddcc8"/>
<rect x="246.66" y="90.86" width="5.16" height="3.06" fill="#fddcc8"/>
<rect x="252.93" y="90.86" width="5.16" height="3.06" fill="#fddcc8"/>
<rect x="259.19" y="90.86" width="5.16" height="3.06" fill="#fddcc8"/>
<rect x="265.45" y="90.86" width="5.16" height="3.06" fill="#df5a43"/>
<rect x="271.72" y="90.86" width="5.16" height="3.06" fill="#fddcc8"/>
<rect x="277.98" y="90.86" width="5.16" height="3.06" fill="#fddcc8"/>
<rect x="284.24" y="90.86" width="5.16" height="3.06" fill="#fddcc8"/>
<rect x="290.51" y="90.86" width="5.16" height="3.06" fill="#fddcc8"/>
<rect x="296.77" y="90.86" width="5.16" height="3.06" fill="#df5a43"/>
<rect x="303.04" y="90.86" width="5.16" height="3.06" fill="#df5a43"/>
<rect x="309.30" y="90.86" width="5.16" height="3.06" fill="#df5a43"/>
<rect x="315.56" y="90.86" width="5.16" height="3.06" fill="#fddcc8"/>
<rect x="321.83" y="90.86" width="5.16" height="3.06" fill="#f8a681"/>
<rect x="328.09" y="90.86" width="5.16" height="3.06" fill="#f8a681"/>
<rect x="334.35" y="90.86" width="5.16" height="3.06" fill="#f8a681"/>
<rect x="340.62" y="90.86" width="5.16" height="3.06" fill="#f8a681"/>
<rect x="346.88" y="90.86" width="5.16" height="3.06" fill="#df5a43"/>
<rect x="353.14" y="90.86" width="5.16" height="3.06" fill="#fddcc8"/>
<rect x="359.41" y="90.86" width="5.16" height="3.06" fill="#df5a43"/>
<rect x="365.67" y="90.86" width="5.16" height="3.06" fill="#df5a43"/>
<rect x="371.93" y="90.86" width="5.16" height="3.06" fill="#b8172c"/>
<rect x="378.20" y="90.86" width="5.16" height="3.06" fill="#df5a43"/>
<rect x="384.46" y="90.86" width="5.16" height="3.06" fill="#f8a681"/>
<rect x="390.72" y="90.86" width="5.16" height="3.06" fill="#fddcc8"/>
<rect x="396.99" y="90.86" width="5.16" height="3.06" fill="#f8a681"/>
<rect x="403.25" y="90.86" width="5.16" height="3.06" fill="#fddcc8"/>
<rect x="409.51" y="90.86" width="5.16" height="3.06" fill="#fddcc8"/>
<rect x="415.78" y="90.86" width="5.16" height="3.06" fill="#df5a43"/>
<rect x="422.04" y="90.86" width="5.16" height="3.06" fill="#f8a681"/>
<rect x="428.31" y="90.86" width="5.16" height="3.06" fill="#f8a681"/>
<rect x="434.57" y="90.86" width="5.16" height="3.06" fill="#f8a681"/>
<rect x="440.83" y="90.86" width="5.16" height="3.06" fill="#f8a681"/>
<rect x="447.10" y="90.86" width="5.16" height="3.06" fill="#f8a681"/>
<rect x="453.36" y="90.86" width="5.16" height="3.06" fill="#f8a681"/>
<rect x="459.62" y="90.86" width="5.16" height="3.06" fill="#f9fafb"/>
<rect x="465.89" y="90.86" width="5.16" height="3.06" fill="#df5a43"/>
<rect x="8.65" y="94.92" width="5.16" height="3.06" fill="#d2e7f6"/>
<rect x="14.91" y="94.92" width="5.16" height="3.06" fill="#8fc5e7"/>
<rect x="21.18" y="94.92" width="5.16" height="3.06" fill="#3f90d0"/>
<rect x="27.44" y="94.92" width="5.16" height="3.06" fill="#3f90d0"/>
<rect x="33.70" y="94.92" width="5.16" height="3.06" fill="#d2e7f6"/>
<rect x="39.97" y="94.92" width="5.16" height="3.06" fill="#3f90d0"/>
<rect x="46.23" y="94.92" width="5.16" height="3.06" fill="#8fc5e7"/>
<rect x="52.49" y="94.92" width="5.16" height="3.06" fill="#d2e7f6"/>
<rect x="58.76" y="94.92" width="5.16" height="3.06" fill="#d2e7f6"/>
<rect x="65.02" y="94.92" width="5.16" height="3.06" fill="#b8172c"/>
<rect x="71.29" y="94.92" width="5.16" height="3.06" fill="#f8a681"/>
<rect x="77.55" y="94.92" width="5.16" height="3.06" fill="#f8a681"/>
<rect x="83.81" y="94.92" width="5.16" height="3.06" fill="#d2e7f6"/>
<rect x="90.08" y="94.92" width="5.16" height="3.06" fill="#df5a43"/>
<rect x="96.34" y="94.92" width="5.16" height="3.06" fill="#f8a681"/>
<rect x="102.60" y="94.92" width="5.16" height="3.06" fill="#fddcc8"/>
<rect x="108.87" y="94.92" width="5.16" height="3.06" fill="#d2e7f6"/>
<rect x="115.13" y="94.92" width="5.16" height="3.06" fill="#d2e7f6"/>
<rect x="121.39" y="94.92" width="5.16" height="3.06" fill="#1f65b6"/>
<rect x="127.66" y="94.92" width="5.16" height="3.06" fill="#f9fafb"/>
<rect x="133.92" y="94.92" width="5.16" height="3.06" fill="#fddcc8"/>
<rect x="140.18" y="94.92" width="5.16" height="3.06" fill="#8fc5e7"/>
<rect x="146.45" y="94.92" width="5.16" height="3.06" fill="#d2e7f6"/>
<rect x="152.71" y="94.92" width="5.16" height="3.06" fill="#fddcc8"/>
<rect x="158.97" y="94.92" width="5.16" height="3.06" fill="#d2e7f6"/>
<rect x="165.24" y="94.92" width="5.16" height="3.06" fill="#8fc5e7"/>
<rect x="171.50" y="94.92" width="5.16" height="3.06" fill="#f9fafb"/>
<rect x="177.76" y="94.92" width="5.16" height="3.06" fill="#8fc5e7"/>
<rect x="184.03" y="94.92" width="5.16" height="3.06" fill="#d2e7f6"/>
<rect x="190.29" y="94.92" width="5.16" height="3.06" fill="#d2e7f6"/>
<rect x="196.56" y="94.92" width="5.16" height="3.06" fill="#f8a681"/>
<rect x="202.82" y="94.92" width="5.16" height="3.06" fill="#f9fafb"/>
<rect x="209.08" y="94.92" width="5.16" height="3.06" fill="#fddcc8"/>
<rect x="215.35" y="94.92" width="5.16" height="3.06" fill="#8fc5e7"/>
<rect x="221.61" y="94.92" width="5.16" height="3.06" fill="#8fc5e7"/>
<rect x="227.87" y="94.92" width="5.16" height="3.06" fill="#8fc5e7"/>
<rect x="234.14" y="94.92" width="5.16" height="3.06" fill="#fddcc8"/>
<rect x="240.40" y="94.92" width="5.16" height="3.06" fill="#f8a681"/>
<rect x="246.66" y="94.92" width="5.16" height="3.06" fill="#f9fafb"/>
<rect x="252.93" y="94.92" width="5.16" height="3.06" fill="#fddcc8"/>
<rect x="259.19" y="94.92" width="5.16" height="3.06" fill="#f8a681"/>
<rect x="265.45" y="94.92" width="5.16" height="3.06" fill="#b8172c"/>
<rect x="271.72" y="94.92" width="5.16" height="3.06" fill="#6b0322"/>
<rect x="277.98" y="94.92" width="5.16" height="3.06" fill="#f8a681"/>
<rect x="284.24" y="94.92" width="5.16" height="3.06" fill="#f8a681"/>
<rect x="290.51" y="94.92" width="5.16" height="3.06" fill="#f8a681"/>
<rect x="296.77" y="94.92" width="5.16" height="3.06" fill="#f8a681"/>
<rect x="303.04" y="94.92" width="5.16" height="3.06" fill="#df5a43"/>
<rect x="309.30" y="94.92" width="5.16" height="3.06" fill="#df5a43"/>
<rect x="315.56" y="94.92" width="5.16" height="3.06" fill="#df5a43"/>
<rect x="321.83" y="94.92" width="5.16" height="3.06" fill="#fddcc8"/>
<rect x="328.09" y="94.92" width="5.16" height="3.06" fill="#f8a681"/>
<rect x="334.35" y="94.92" width="5.16" height="3.06" fill="#f8a681"/>
<rect x="340.62" y="94.92" width="5.16" height="3.06" fill="#f8a681"/>
<rect x="346.88" y="94.92" width="5.16" height="3.06" fill="#df5a43"/>
<rect x="353.14" y="94.92" width="5.16" height="3.06" fill="#b8172c"/>
<rect x="359.41" y="94.92" width="5.16" height="3.06" fill="#df5a43"/>
<rect x="365.67" y="94.92" width="5.16" height="3.06" fill="#f8a681"/>
<rect x="371.93" y="94.92" width="5.16" height="3.06" fill="#df5a43"/>
<rect x="378.20" y="94.92" width="5.16" height="3.06" fill="#df5a43"/>
<rect x="384.46" y="94.92" width="5.16" height="3.06" fill="#df5a43"/>
<rect x="390.72" y="94.92" width="5.16" height="3.06" fill="#d2e7f6"/>
<rect x="396.99" y="94.92" width="5.16" height="3.06" fill="#d2e7f6"/>
<rect x="403.25" y="94.92" width="5.16" height="3.06" fill="#fddcc8"/>
<rect x="409.51" y="94.92" width="5.16" height="3.06" fill="#fddcc8"/>
<rect x="415.78" y="94.92" width="5.16" height="3.06" fill="#f9fafb"/>
<rect x="422.04" y="94.92" width="5.16" height="3.06" fill="#f8a681"/>
<rect x="428.31" y="94.92" width="5.16" height="3.06" fill="#f8a681"/>
<rect x="434.57" y="94.92" width="5.16" height="3.06" fill="#f9fafb"/>
<rect x="440.83" y="94.92" width="5.16" height="3.06" fill="#f8a681"/>
<rect x="447.10" y="94.92" width="5.16" height="3.06" fill="#8fc5e7"/>
<rect x="453.36" y="94.92" width="5.16" height="3.06" fill="#d2e7f6"/>
<rect x="459.62" y="94.92" width="5.16" height="3.06" fill="#f8a681"/>
<rect x="465.89" y="94.92" width="5.16" height="3.06" fill="#d2e7f6"/>
<rect x="8.65" y="98.98" width="5.16" height="3.06" fill="#3f90d0"/>
<rect x="14.91" y="98.98" width="5.16" height="3.06" fill="#f9fafb"/>
<rect x="21.18" y="98.98" width="5.16" height="3.06" fill="#8fc5e7"/>
<rect x="27.44" y="98.98" width="5.16" height="3.06" fill="#3f90d0"/>
<rect x="33.70" y="98.98" width="5.16" height="3.06" fill="#3f90d0"/>
<rect x="39.97" y="98.98" width="5.16" height="3.06" fill="#8fc5e7"/>
<rect x="46.23" y="98.98" width="5.16" height="3.06" fill="#d2e7f6"/>
<rect x="52.49" y="98.98" width="5.16" height="3.06" fill="#3f90d0"/>
<rect x="58.76" y="98.98" width="5.16" height="3.06" fill="#f9fafb"/>
<rect x="65.02" y="98.98" width="5.16" height="3.06" fill="#d2e7f6"/>
<rect x="71.29" y="98.98" width="5.16" height="3.06" fill="#3f90d0"/>
<rect x="77.55" y="98.98" width="5.16" height="3.06" fill="#f9fafb"/>
<rect x="83.81" y="98.98" width="5.16" height="3.06" fill="#f8a681"/>
<rect x="90.08" y="98.98" width="5.16" height="3.06" fill="#fddcc8"/>
<rect x="96.34" y="98.98" width="5.16" height="3.06" fill="#f8a681"/>
<rect x="102.60" y="98.98" width="5.16" height="3.06" fill="#fddcc8"/>
<rect x="108.87" y="98.98" width="5.16" height="3.06" fill="#d2e7f6"/>
<rect x="115.13" y="98.98" width="5.16" height="3.06" fill="#8fc5e7"/>
<rect x="121.39" y="98.98" width="5.16" height="3.06" fill="#d2e7f6"/>
<rect x="127.66" y="98.98" width="5.16" height="3.06" fill="#f9fafb"/>
<rect x="133.92" y="98.98" width="5.16" height="3.06" fill="#fddcc8"/>
<rect x="140.18" y="98.98" width="5.16" height="3.06" fill="#d2e7f6"/>
<rect x="146.45" y="98.98" width="5.16" height="3.06" fill="#8fc5e7"/>
<rect x="152.71" y="98.98" width="5.16" height="3.06" fill="#d2e7f6"/>
<rect x="158.97" y="98.98" width="5.16" height="3.06" fill="#d2e7f6"/>
<rect x="165.24" y="98.98" width="5.16" height="3.06" fill="#8fc5e7"/>
<rect x="171.50" y="98.98" width="5.16" height="3.06" fill="#8fc5e7"/>
<rect x="177.76" y="98.98" width="5.16" height="3.06" fill="#d2e7f6"/>
<rect x="184.03" y="98.98" width="5.16" height="3.06" fill="#d2e7f6"/>
<rect x="190.29" y="98.98" width="5.16" height="3.06" fill="#d2e7f6"/>
<rect x="196.56" y="98.98" width="5.16" height="3.06" fill="#f8a681"/>
<rect x="202.82" y="98.98" width="5.16" height="3.06" fill="#f8a681"/>
<rect x="209.08" y="98.98" width="5.16" height="3.06" fill="#f8a681"/>
<rect x="215.35" y="98.98" width="5.16" height="3.06" fill="#fddcc8"/>
<rect x="221.61" y="98.98" width="5.16" height="3.06" fill="#fddcc8"/>
<rect x="227.87" y="98.98" width="5.16" height="3.06" fill="#f8a681"/>
<rect x="234.14" y="98.98" width="5.16" height="3.06" fill="#f8a681"/>
<rect x="240.40" y="98.98" width="5.16" height="3.06" fill="#f8a681"/>
<rect x="246.66" y="98.98" width="5.16" height="3.06" fill="#f8a681"/>
<rect x="252.93" y="98.98" width="5.16" height="3.06" fill="#f8a681"/>
<rect x="259.19" y="98.98" width="5.16" height="3.06" fill="#f8a681"/>
<rect x="265.45" y="98.98" width="5.16" height="3.06" fill="#f8a681"/>
<rect x="271.72" y="98.98" width="5.16" height="3.06" fill="#f9fafb"/>
<rect x="277.98" y="98.98" width="5.16" height="3.06" fill="#f8a681"/>
<rect x="284.24" y="98.98" width="5.16" height="3.06" fill="#f8a681"/>
<rect x="290.51" y="98.98" width="5.16" height="3.06" fill="#fddcc8"/>
<rect x="296.77" y="98.98" width="5.16" height="3.06" fill="#f8a681"/>
<rect x="303.04" y="98.98" width="5.16" height="3.06" fill="#df5a43"/>
<rect x="309.30" y="98.98" width="5.16" height="3.06" fill="#f8a681"/>
<rect x="315.56" y="98.98" width="5.16" height="3.06" fill="#fddcc8"/>
<rect x="321.83" y="98.98" width="5.16" height="3.06" fill="#f8a681"/>
<rect x="328.09" y="98.98" width="5.16" height="3.06" fill="#f8a681"/>
<rect x="334.35" y="98.98" width="5.16" height="3.06" fill="#f8a681"/>
<rect x="340.62" y="98.98" width="5.16" height="3.06" fill="#f8a681"/>
<rect x="346.88" y="98.98" width="5.16" height="3.06" fill="#df5a43"/>
<rect x="353.14" y="98.98" width="5.16" height="3.06" fill="#f8a681"/>
<rect x="359.41" y="98.98" width="5.16" height="3.06" fill="#fddcc8"/>
<rect x="365.67" y="98.98" width="5.16" height="3.06" fill="#fddcc8"/>
<rect x="371.93" y="98.98" width="5.16" height="3.06" fill="#fddcc8"/>
<rect x="378.20" y="98.98" width="5.16" height="3.06" fill="#d2e7f6"/>
<rect x="384.46" y="98.98" width="5.16" height="3.06" fill="#000000"/>
<rect x="390.72" y="98.98" width="5.16" height="3.06" fill="#d2e7f6"/>
<rect x="396.99" y="98.98" width="5.16" height="3.06" fill="#fddcc8"/>
<rect x="403.25" y="98.98" width="5.16" height="3.06" fill="#df5a43"/>
<rect x="409.51" y="98.98" width="5.16" height="3.06" fill="#df5a43"/>
<rect x="415.78" y="98.98" width="5.16" height="3.06" fill="#f8a681"/>
<rect x="422.04" y="98.98" width="5.16" height="3.06" fill="#b8172c"/>
<rect x="428.31" y="98.98" width="5.16" height="3.06" fill="#f9fafb"/>
<rect x="434.57" y="98.98" width="5.16" height="3.06" fill="#3f90d0"/>
<rect x="440.83" y="98.98" width="5.16" height="3.06" fill="#fddcc8"/>
<rect x="447.10" y="98.98" width="5.16" height="3.06" fill="#8fc5e7"/>
<rect x="453.36" y="98.98" width="5.16" height="3.06" fill="#d2e7f6"/>
<rect x="459.62" y="98.98" width="5.16" height="3.06" fill="#f8a681"/>
<rect x="465.89" y="98.98" width="5.16" height="3.06" fill="#d2e7f6"/>
<rect x="8.65" y="103.04" width="5.16" height="3.06" fill="#8fc5e7"/>
<rect x="14.91" y="103.04" width="5.16" height="3.06" fill="#f8a681"/>
<rect x="21.18" y="103.04" width="5.16" height="3.06" fill="#f8a681"/>
<rect x="27.44" y="103.04" width="5.16" height="3.06" fill="#8fc5e7"/>
<rect x="33.70" y="103.04" width="5.16" height="3.06" fill="#f9fafb"/>
<rect x="39.97" y="103.04" width="5.16" height="3.06" fill="#3f90d0"/>
<rect x="46.23" y="103.04" width="5.16" height="3.06" fill="#3f90d0"/>
<rect x="52.49" y="103.04" width="5.16" height="3.06" fill="#8fc5e7"/>
<rect x="58.76" y="103.04" width="5.16" height="3.06" fill="#8fc5e7"/>
<rect x="65.02" y="103.04" width="5.16" height="3.06" fill="#f8a681"/>
<rect x="71.29" y="103.04" width="5.16" height="3.06" fill="#d2e7f6"/>
<rect x="77.55" y="103.04" width="5.16" height="3.06" fill="#fddcc8"/>
<rect x="83.81" y="103.04" width="5.16" height="3.06" fill="#fddcc8"/>
<rect x="90.08" y="103.04" width="5.16" height="3.06" fill="#f9fafb"/>
<rect x="96.34" y="103.04" width="5.16" height="3.06" fill="#000000"/>
<rect x="102.60" y="103.04" width="5.16" height="3.06" fill="#fddcc8"/>
<rect x="108.87" y="103.04" width="5.16" height="3.06" fill="#fddcc8"/>
<rect x="115.13" y="103.04" width="5.16" height="3.06" fill="#f9fafb"/>
<rect x="121.39" y="103.04" width="5.16" height="3.06" fill="#fddcc8"/>
<rect x="127.66" y="103.04" width="5.16" height="3.06" fill="#fddcc8"/>
<rect x="133.92" y="103.04" width="5.16" height="3.06" fill="#fddcc8"/>
<rect x="140.18" y="103.04" width="5.16" height="3.06" fill="#f9fafb"/>
<rect x="146.45" y="103.04" width="5.16" height="3.06" fill="#8fc5e7"/>
<rect x="152.71" y="103.04" width="5.16" height="3.06" fill="#d2e7f6"/>
<rect x="158.97" y="103.04" width="5.16" height="3.06" fill="#d2e7f6"/>
<rect x="165.24" y="103.04" width="5.16" height="3.06" fill="#d2e7f6"/>
<rect x="171.50" y="103.04" width="5.16" height="3.06" fill="#d2e7f6"/>
<rect x="177.76" y="103.04" width="5.16" height="3.06" fill="#8fc5e7"/>
<rect x="184.03" y="103.04" width="5.16" height="3.06" fill="#3f90d0"/>
<rect x="190.29" y="103.04" width="5.16" height="3.06" fill="#d2e7f6"/>
<rect x="196.56" y="103.04" width="5.16" height="3.06" fill="#8fc5e7"/>
<rect x="202.82" y="103.04" width="5.16" height="3.06" fill="#8fc5e7"/>
<rect x="209.08" y="103.04" width="5.16" height="3.06" fill="#f9fafb"/>
<rect x="215.35" y="103.04" width="5.16" height="3.06" fill="#8fc5e7"/>
<rect x="221.61" y="103.04" width="5.16" height="3.06" fill="#fddcc8"/>
<rect x="227.87" y="103.04" width="5.16" height="3.06" fill="#fddcc8"/>
<rect x="234.14" y="103.04" width="5.16" height="3.06" fill="#f8a681"/>
<rect x="240.40" y="103.04" width="5.16" height="3.06" fill="#fddcc8"/>
<rect x="246.66" y="103.04" width="5.16" height="3.06" fill="#f8a681"/>
<rect x="252.93" y="103.04" width="5.16" height="3.06" fill="#fddcc8"/>
<rect x="259.19" y="103.04" width="5.16" height="3.06" fill="#d2e7f6"/>
<rect x="265.45" y="103.04" width="5.16" height="3.06" fill="#fddcc8"/>
<rect x="271.72" y="103.04" width="5.16" height="3.06" fill="#d2e7f6"/>
<rect x="277.98" y="103.04" width="5.16" height="3.06" fill="#f8a681"/>
<rect x="284.24" y="103.04" width="5.16" height="3.06" fill="#f8a681"/>
<rect x="290.51" y="103.04" width="5.16" height="3.06" fill="#f8a681"/>
<rect x="296.77" y="103.04" width="5.16" height="3.06" fill="#f8a681"/>
<rect x="303.04" y="103.04" width="5.16" height="3.06" fill="#df5a43"/>
<rect x="309.30" y="103.04" width="5.16" height="3.06" fill="#f8a681"/>
<rect x="315.56" y="103.04" width="5.16" height="3.06" fill="#f8a681"/>
<rect x="321.83" y="103.04" width="5.16" height="3.06" fill="#f8a681"/>
<rect x="328.09" y="103.04" width="5.16" height="3.06" fill="#f8a681"/>
<rect x="334.35" y="103.04" width="5.16" height="3.06" fill="#f8a681"/>
<rect x="340.62" y="103.04" width="5.16" height="3.06" fill="#f8a681"/>
<rect x="346.88" y="103.04" width="5.16" height="3.06" fill="#df5a43"/>
<rect x="353.14" y="103.04" width="5.16" height="3.06" fill="#fddcc8"/>
<rect x="359.41" y="103.04" width="5.16" height="3.06" fill="#df5a43"/>
<rect x="365.67" y="103.04" width="5.16" height="3.06" fill="#f8a681"/>
<rect x="371.93" y="103.04" width="5.16" height="3.06" fill="#f8a681"/>
<rect x="378.20" y="103.04" width="5.16" height="3.06" fill="#f8a681"/>
<rect x="384.46" y="103.04" width="5.16" height="3.06" fill="#f8a681"/>
<rect x="390.72" y="103.04" width="5.16" height="3.06" fill="#df5a43"/>
<rect x="396.99" y="103.04" width="5.16" height="3.06" fill="#f9fafb"/>
<rect x="403.25" y="103.04" width="5.16" height="3.06" fill="#fddcc8"/>
<rect x="409.51" y="103.04" width="5.16" height="3.06" fill="#f8a681"/>
<rect x="415.78" y="103.04" width="5.16" height="3.06" fill="#fddcc8"/>
<rect x="422.04" y="103.04" width="5.16" height="3.06" fill="#fddcc8"/>
<rect x="428.31" y="103.04" width="5.16" height="3.06" fill="#f8a681"/>
<rect x="434.57" y="103.04" width="5.16" height="3.06" fill="#f8a681"/>
<rect x="440.83" y="103.04" width="5.16" height="3.06" fill="#fddcc8"/>
<rect x="447.10" y="103.04" width="5.16" height="3.06" fill="#8fc5e7"/>
<rect x="453.36" y="103.04" width="5.16" height="3.06" fill="#8fc5e7"/>
<rect x="459.62" y="103.04" width="5.16" height="3.06" fill="#f9fafb"/>
<rect x="465.89" y="103.04" width="5.16" height="3.06" fill="#fddcc8"/>
<rect x="8.65" y="107.10" width="5.16" height="3.06" fill="#f9fafb"/>
<rect x="14.91" y="107.10" width="5.16" height="3.06" fill="#3f90d0"/>
<rect x="21.18" y="107.10" width="5.16" height="3.06" fill="#8fc5e7"/>
<rect x="27.44" y="107.10" width="5.16" height="3.06" fill="#000000"/>
<rect x="33.70" y="107.10" width="5.16" height="3.06" fill="#3f90d0"/>
<rect x="39.97" y="107.10" width="5.16" height="3.06" fill="#8fc5e7"/>
<rect x="46.23" y="107.10" width="5.16" height="3.06" fill="#8fc5e7"/>
<rect x="52.49" y="107.10" width="5.16" height="3.06" fill="#8fc5e7"/>
<rect x="58.76" y="107.10" width="5.16" height="3.06" fill="#8fc5e7"/>
<rect x="65.02" y="107.10" width="5.16" height="3.06" fill="#f8a681"/>
<rect x="71.29" y="107.10" width="5.16" height="3.06" fill="#3f90d0"/>
<rect x="77.55" y="107.10" width="5.16" height="3.06" fill="#3f90d0"/>
<rect x="83.81" y="107.10" width="5.16" height="3.06" fill="#f8a681"/>
<rect x="90.08" y="107.10" width="5.16" height="3.06" fill="#8fc5e7"/>
<rect x="96.34" y="107.10" width="5.16" height="3.06" fill="#8fc5e7"/>
<rect x="102.60" y="107.10" width="5.16" height="3.06" fill="#8fc5e7"/>
<rect x="108.87" y="107.10" width="5.16" height="3.06" fill="#8fc5e7"/>
<rect x="115.13" y="107.10" width="5.16" height="3.06" fill="#8fc5e7"/>
<rect x="121.39" y="107.10" width="5.16" height="3.06" fill="#3f90d0"/>
<rect x="127.66" y="107.10" width="5.16" height="3.06" fill="#0c3a78"/>
<rect x="133.92" y="107.10" width="5.16" height="3.06" fill="#1f65b6"/>
<rect x="140.18" y="107.10" width="5.16" height="3.06" fill="#1f65b6"/>
<rect x="146.45" y="107.10" width="5.16" height="3.06" fill="#fddcc8"/>
<rect x="152.71" y="107.10" width="5.16" height="3.06" fill="#8fc5e7"/>
<rect x="158.97" y="107.10" width="5.16" height="3.06" fill="#fddcc8"/>
<rect x="165.24" y="107.10" width="5.16" height="3.06" fill="#d2e7f6"/>
<rect x="171.50" y="107.10" width="5.16" height="3.06" fill="#8fc5e7"/>
<rect x="177.76" y="107.10" width="5.16" height="3.06" fill="#d2e7f6"/>
<rect x="184.03" y="107.10" width="5.16" height="3.06" fill="#d2e7f6"/>
<rect x="190.29" y="107.10" width="5.16" height="3.06" fill="#fddcc8"/>
<rect x="196.56" y="107.10" width="5.16" height="3.06" fill="#fddcc8"/>
<rect x="202.82" y="107.10" width="5.16" height="3.06" fill="#df5a43"/>
<rect x="209.08" y="107.10" width="5.16" height="3.06" fill="#f8a681"/>
<rect x="215.35" y="107.10" width="5.16" height="3.06" fill="#fddcc8"/>
<rect x="221.61" y="107.10" width="5.16" height="3.06" fill="#f8a681"/>
<rect x="227.87" y="107.10" width="5.16" height="3.06" fill="#f8a681"/>
<rect x="234.14" y="107.10" width="5.16" height="3.06" fill="#f9fafb"/>
<rect x="240.40" y="107.10" width="5.16" height="3.06" fill="#fddcc8"/>
<rect x="246.66" y="107.10" width="5.16" height="3.06" fill="#fddcc8"/>
<rect x="252.93" y="107.10" width="5.16" height="3.06" fill="#fddcc8"/>
<rect x="259.19" y="107.10" width="5.16" height="3.06" fill="#fddcc8"/>
<rect x="265.45" y="107.10" width="5.16" height="3.06" fill="#fddcc8"/>
<rect x="271.72" y="107.10" width="5.16" height="3.06" fill="#f8a681"/>
<rect x="277.98" y="107.10" width="5.16" height="3.06" fill="#f9fafb"/>
<rect x="284.24" y="107.10" width="5.16" height="3.06" fill="#f9fafb"/>
<rect x="290.51" y="107.10" width="5.16" height="3.06" fill="#fddcc8"/>
<rect x="296.77" y="107.10" width="5.16" height="3.06" fill="#fddcc8"/>
<rect x="303.04" y="107.10" width="5.16" height="3.06" fill="#f9fafb"/>
<rect x="309.30" y="107.10" width="5.16" height="3.06" fill="#d2e7f6"/>
<rect x="315.56" y="107.10" width="5.16" height="3.06" fill="#f9fafb"/>
<rect x="321.83" y="107.10" width="5.16" height="3.06" fill="#d2e7f6"/>
<rect x="328.09" y="107.10" width="5.16" height="3.06" fill="#f8a681"/>
<rect x="334.35" y="107.10" width="5.16" height="3.06" fill="#f8a681"/>
<rect x="340.62" y="107.10" width="5.16" height="3.06" fill="#f8a681"/>
<rect x="346.88" y="107.10" width="5.16" height="3.06" fill="#f8a681"/>
<rect x="353.14" y="107.10" width="5.16" height="3.06" fill="#f8a681"/>
<rect x="359.41" y="107.10" width="5.16" height="3.06" fill="#fddcc8"/>
<rect x="365.67" y="107.10" width="5.16" height="3.06" fill="#f8a681"/>
<rect x="371.93" y="107.10" width="5.16" height="3.06" fill="#f8a681"/>
<rect x="378.20" y="107.10" width="5.16" height="3.06" fill="#f9fafb"/>
<rect x="384.46" y="107.10" width="5.16" height="3.06" fill="#fddcc8"/>
<rect x="390.72" y="107.10" width="5.16" height="3.06" fill="#df5a43"/>
<rect x="396.99" y="107.10" width="5.16" height="3.06" fill="#df5a43"/>
<rect x="403.25" y="107.10" width="5.16" height="3.06" fill="#f8a681"/>
<rect x="409.51" y="107.10" width="5.16" height="3.06" fill="#fddcc8"/>
<rect x="415.78" y="107.10" width="5.16" height="3.06" fill="#f8a681"/>
<rect x="422.04" y="107.10" width="5.16" height="3.06" fill="#b8172c"/>
<rect x="428.31" y="107.10" width="5.16" height="3.06" fill="#6b0322"/>
<rect x="434.57" y="107.10" width="5.16" height="3.06" fill="#df5a43"/>
<rect x="440.83" y="107.10" width="5.16" height="3.06" fill="#f8a681"/>
<rect x="447.10" y="107.10" width="5.16" height="3.06" fill="#f8a681"/>
<rect x="453.36" y="107.10" width="5.16" height="3.06" fill="#f8a681"/>
<rect x="459.62" y="107.10" width="5.16" height="3.06" fill="#f8a681"/>
<rect x="465.89" y="107.10" width="5.16" height="3.06" fill="#f9fafb"/>
<rect x="8.65" y="111.16" width="5.16" height="3.06" fill="#fddcc8"/>
<rect x="14.91" y="111.16" width="5.16" height="3.06" fill="#f8a681"/>
<rect x="21.18" y="111.16" width="5.16" height="3.06" fill="#fddcc8"/>
<rect x="27.44" y="111.16" width="5.16" height="3.06" fill="#d2e7f6"/>
<rect x="33.70" y="111.16" width="5.16" height="3.06" fill="#d2e7f6"/>
<rect x="39.97" y="111.16" width="5.16" height="3.06" fill="#8fc5e7"/>
<rect x="46.23" y="111.16" width="5.16" height="3.06" fill="#8fc5e7"/>
<rect x="52.49" y="111.16" width="5.16" height="3.06" fill="#8fc5e7"/>
<rect x="58.76" y="111.16" width="5.16" height="3.06" fill="#d2e7f6"/>
<rect x="65.02" y="111.16" width="5.16" height="3.06" fill="#d2e7f6"/>
<rect x="71.29" y="111.16" width="5.16" height="3.06" fill="#8fc5e7"/>
<rect x="77.55" y="111.16" width="5.16" height="3.06" fill="#fddcc8"/>
<rect x="83.81" y="111.16" width="5.16" height="3.06" fill="#3f90d0"/>
<rect x="90.08" y="111.16" width="5.16" height="3.06" fill="#8fc5e7"/>
<rect x="96.34" y="111.16" width="5.16" height="3.06" fill="#f9fafb"/>
<rect x="102.60" y="111.16" width="5.16" height="3.06" fill="#3f90d0"/>
<rect x="108.87" y="111.16" width="5.16" height="3.06" fill="#d2e7f6"/>
<rect x="115.13" y="111.16" width="5.16" height="3.06" fill="#f9fafb"/>
<rect x="121.39" y="111.16" width="5.16" height="3.06" fill="#f9fafb"/>
<rect x="127.66" y="111.16" width="5.16" height="3.06" fill="#d2e7f6"/>
<rect x="133.92" y="111.16" width="5.16" height="3.06" fill="#3f90d0"/>
<rect x="140.18" y="111.16" width="5.16" height="3.06" fill="#3f90d0"/>
<rect x="146.45" y="111.16" width="5.16" height="3.06" fill="#8fc5e7"/>
<rect x="152.71" y="111.16" width="5.16" height="3.06" fill="#8fc5e7"/>
<rect x="158.97" y="111.16" width="5.16" height="3.06" fill="#d2e7f6"/>
<rect x="165.24" y="111.16" width="5.16" height="3.06" fill="#8fc5e7"/>
<rect x="171.50" y="111.16" width="5.16" height="3.06" fill="#d2e7f6"/>
<rect x="177.76" y="111.16" width="5.16" height="3.06" fill="#d2e7f6"/>
<rect x="184.03" y="111.16" width="5.16" height="3.06" fill="#f9fafb"/>
<rect x="190.29" y="111.16" width="5.16" height="3.06" fill="#d2e7f6"/>
<rect x="196.56" y="111.16" width="5.16" height="3.06" fill="#fddcc8"/>
<rect x="202.82" y="111.16" width="5.16" height="3.06" fill="#f8a681"/>
<rect x="209.08" y="111.16" width="5.16" height="3.06" fill="#fddcc8"/>
<rect x="215.35" y="111.16" width="5.16" height="3.06" fill="#8fc5e7"/>
<rect x="221.61" y="111.16" width="5.16" height="3.06" fill="#f8a681"/>
<rect x="227.87" y="111.16" width="5.16" height="3.06" fill="#f8a681"/>
<rect x="234.14" y="111.16" width="5.16" height="3.06" fill="#f8a681"/>
<rect x="240.40" y="111.16" width="5.16" height="3.06" fill="#fddcc8"/>
<rect x="246.66" y="111.16" width="5.16" height="3.06" fill="#fddcc8"/>
<rect x="252.93" y="111.16" width="5.16" height="3.06" fill="#fddcc8"/>
<rect x="259.19" y="111.16" width="5.16" height="3.06" fill="#f8a681"/>
<rect x="265.45" y="111.16" width="5.16" height="3.06" fill="#fddcc8"/>
<rect x="271.72" y="111.16" width="5.16" height="3.06" fill="#df5a43"/>
<rect x="277.98" y="111.16" width="5.16" height="3.06" fill="#fddcc8"/>
<rect x="284.24" y="111.16" width="5.16" height="3.06" fill="#fddcc8"/>
<rect x="290.51" y="111.16" width="5.16" height="3.06" fill="#fddcc8"/>
<rect x="296.77" y="111.16" width="5.16" height="3.06" fill="#fddcc8"/>
<rect x="303.04" y="111.16" width="5.16" height="3.06" fill="#f8a681"/>
<rect x="309.30" y="111.16" width="5.16" height="3.06" fill="#fddcc8"/>
<rect x="315.56" y="111.16" width="5.16" height="3.06" fill="#f8a681"/>
<rect x="321.83" y="111.16" width="5.16" height="3.06" fill="#f8a681"/>
<rect x="328.09" y="111.16" width="5.16" height="3.06" fill="#f8a681"/>
<rect x="334.35" y="111.16" width="5.16" height="3.06" fill="#f8a681"/>
<rect x="340.62" y="111.16" width="5.16" height="3.06" fill="#f8a681"/>
<rect x="346.88" y="111.16" width="5.16" height="3.06" fill="#f8a681"/>
<rect x="353.14" y="111.16" width="5.16" height="3.06" fill="#f8a681"/>
<rect x="359.41" y="111.16" width="5.16" height="3.06" fill="#f8a681"/>
<rect x="365.67" y="111.16" width="5.16" height="3.06" fill="#f8a681"/>
<rect x="371.93" y="111.16" width="5.16" height="3.06" fill="#df5a43"/>
<rect x="378.20" y="111.16" width="5.16" height="3.06" fill="#f8a681"/>
<rect x="384.46" y="111.16" width="5.16" height="3.06" fill="#fddcc8"/>
<rect x="390.72" y="111.16" width="5.16" height="3.06" fill="#df5a43"/>
<rect x="396.99" y="111.16" width="5.16" height="3.06" fill="#df5a43"/>
<rect x="403.25" y="111.16" width="5.16" height="3.06" fill="#b8172c"/>
<rect x="409.51" y="111.16" width="5.16" height="3.06" fill="#b8172c"/>
<rect x="415.78" y="111.16" width="5.16" height="3.06" fill="#f8a681"/>
<rect x="422.04" y="111.16" width="5.16" height="3.06" fill="#f8a681"/>
<rect x="428.31" y="111.16" width="5.16" height="3.06" fill="#df5a43"/>
<rect x="434.57" y="111.16" width="5.16" height="3.06" fill="#fddcc8"/>
<rect x="440.83" y="111.16" width="5.16" height="3.06" fill="#df5a43"/>
<rect x="447.10" y="111.16" width="5.16" height="3.06" fill="#f9fafb"/>
<rect x="453.36" y="111.16" width="5.16" height="3.06" fill="#df5a43"/>
<rect x="459.62" y="111.16" width="5.16" height="3.06" fill="#1f65b6"/>
<rect x="465.89" y="111.16" width="5.16" height="3.06" fill="#8fc5e7"/>
<rect x="8.65" y="115.22" width="5.16" height="3.06" fill="#d2e7f6"/>
<rect x="14.91" y="115.22" width="5.16" height="3.06" fill="#f9fafb"/>
<rect x="21.18" y="115.22" width="5.16" height="3.06" fill="#3f90d0"/>
<rect x="27.44" y="115.22" width="5.16" height="3.06" fill="#d2e7f6"/>
<rect x="33.70" y="115.22" width="5.16" height="3.06" fill="#8fc5e7"/>
<rect x="39.97" y="115.22" width="5.16" height="3.06" fill="#d2e7f6"/>
<rect x="46.23" y="115.22" width="5.16" height="3.06" fill="#8fc5e7"/>
<rect x="52.49" y="115.22" width="5.16" height="3.06" fill="#d2e7f6"/>
<rect x="58.76" y="115.22" width="5.16" height="3.06" fill="#d2e7f6"/>
<rect x="65.02" y="115.22" width="5.16" height="3.06" fill="#8fc5e7"/>
<rect x="71.29" y="115.22" width="5.16" height="3.06" fill="#d2e7f6"/>
<rect x="77.55" y="115.22" width="5.16" height="3.06" fill="#fddcc8"/>
<rect x="83.81" y="115.22" width="5.16" height="3.06" fill="#3f90d0"/>
<rect x="90.08" y="115.22" width="5.16" height="3.06" fill="#8fc5e7"/>
<rect x="96.34" y="115.22" width="5.16" height="3.06" fill="#8fc5e7"/>
<rect x="102.60" y="115.22" width="5.16" height="3.06" fill="#d2e7f6"/>
<rect x="108.87" y="115.22" width="5.16" height="3.06" fill="#8fc5e7"/>
<rect x="115.13" y="115.22" width="5.16" height="3.06" fill="#f9fafb"/>
<rect x="121.39" y="115.22" width="5.16" height="3.06" fill="#fddcc8"/>
<rect x="127.66" y="115.22" width="5.16" height="3.06" fill="#f9fafb"/>
<rect x="133.92" y="115.22" width="5.16" height="3.06" fill="#fddcc8"/>
<rect x="140.18" y="115.22" width="5.16" height="3.06" fill="#8fc5e7"/>
<rect x="146.45" y="115.22" width="5.16" height="3.06" fill="#d2e7f6"/>
<rect x="152.71" y="115.22" width="5.16" height="3.06" fill="#d2e7f6"/>
<rect x="158.97" y="115.22" width="5.16" height="3.06" fill="#d2e7f6"/>
<rect x="165.24" y="115.22" width="5.16" height="3.06" fill="#d2e7f6"/>
<rect x="171.50" y="115.22" width="5.16" height="3.06" fill="#f9fafb"/>
<rect x="177.76" y="115.22" width="5.16" height="3.06" fill="#f9fafb"/>
<rect x="184.03" y="115.22" width="5.16" height="3.06" fill="#f9fafb"/>
<rect x="190.29" y="115.22" width="5.16" height="3.06" fill="#f9fafb"/>
<rect x="196.56" y="115.22" width="5.16" height="3.06" fill="#f8a681"/>
<rect x="202.82" y="115.22" width="5.16" height="3.06" fill="#f8a681"/>
<rect x="209.08" y="115.22" width="5.16" height="3.06" fill="#fddcc8"/>
<rect x="215.35" y="115.22" width="5.16" height="3.06" fill="#f8a681"/>
<rect x="221.61" y="115.22" width="5.16" height="3.06" fill="#8fc5e7"/>
<rect x="227.87" y="115.22" width="5.16" height="3.06" fill="#f8a681"/>
<rect x="234.14" y="115.22" width="5.16" height="3.06" fill="#f8a681"/>
<rect x="240.40" y="115.22" width="5.16" height="3.06" fill="#fddcc8"/>
<rect x="246.66" y="115.22" width="5.16" height="3.06" fill="#fddcc8"/>
<rect x="252.93" y="115.22" width="5.16" height="3.06" fill="#d2e7f6"/>
<rect x="259.19" y="115.22" width="5.16" height="3.06" fill="#f8a681"/>
<rect x="265.45" y="115.22" width="5.16" height="3.06" fill="#fddcc8"/>
<rect x="271.72" y="115.22" width="5.16" height="3.06" fill="#fddcc8"/>
<rect x="277.98" y="115.22" width="5.16" height="3.06" fill="#fddcc8"/>
<rect x="284.24" y="115.22" width="5.16" height="3.06" fill="#fddcc8"/>
<rect x="290.51" y="115.22" width="5.16" height="3.06" fill="#fddcc8"/>
<rect x="296.77" y="115.22" width="5.16" height="3.06" fill="#f9fafb"/>
<rect x="303.04" y="115.22" width="5.16" height="3.06" fill="#f8a681"/>
<rect x="309.30" y="115.22" width="5.16" height="3.06" fill="#fddcc8"/>
<rect x="315.56" y="115.22" width="5.16" height="3.06" fill="#f8a681"/>
<rect x="321.83" y="115.22" width="5.16" height="3.06" fill="#f8a681"/>
<rect x="328.09" y="115.22" width="5.16" height="3.06" fill="#f8a681"/>
<rect x="334.35" y="115.22" width="5.16" height="3.06" fill="#f8a681"/>
<rect x="340.62" y="115.22" width="5.16" height="3.06" fill="#f8a681"/>
<rect x="346.88" y="115.22" width="5.16" height="3.06" fill="#fddcc8"/>
<rect x="353.14" y="115.22" width="5.16" height="3.06" fill="#f8a681"/>
<rect x="359.41" y="115.22" width="5.16" height="3.06" fill="#f8a681"/>
<rect x="365.67" y="115.22" width="5.16" height="3.06" fill="#f8a681"/>
<rect x="371.93" y="115.22" width="5.16" height="3.06" fill="#f8a681"/>
<rect x="378.20" y="115.22" width="5.16" height="3.06" fill="#f8a681"/>
<rect x="384.46" y="115.22" width="5.16" height="3.06" fill="#fddcc8"/>
<rect x="390.72" y="115.22" width="5.16" height="3.06" fill="#f8a681"/>
<rect x="396.99" y="115.22" width="5.16" height="3.06" fill="#df5a43"/>
<rect x="403.25" y="115.22" width="5.16" height="3.06" fill="#f8a681"/>
<rect x="409.51" y="115.22" width="5.16" height="3.06" fill="#f8a681"/>
<rect x="415.78" y="115.22" width="5.16" height="3.06" fill="#f8a681"/>
<rect x="422.04" y="115.22" width="5.16" height="3.06" fill="#fddcc8"/>
<rect x="428.31" y="115.22" width="5.16" height="3.06" fill="#fddcc8"/>
<rect x="434.57" y="115.22" width="5.16" height="3.06" fill="#f8a681"/>
<rect x="440.83" y="115.22" width="5.16" height="3.06" fill="#f8a681"/>
<rect x="447.10" y="115.22" width="5.16" height="3.06" fill="#fddcc8"/>
<rect x="453.36" y="115.22" width="5.16" height="3.06" fill="#f9fafb"/>
<rect x="459.62" y="115.22" width="5.16" height="3.06" fill="#fddcc8"/>
<rect x="465.89" y="115.22" width="5.16" height="3.06" fill="#f8a681"/>
<rect x="8.65" y="119.28" width="5.16" height="3.06" fill="#f9fafb"/>
<rect x="14.91" y="119.28" width="5.16" height="3.06" fill="#fddcc8"/>
<rect x="21.18" y="119.28" width="5.16" height="3.06" fill="#f9fafb"/>
<rect x="27.44" y="119.28" width="5.16" height="3.06" fill="#8fc5e7"/>
<rect x="33.70" y="119.28" width="5.16" height="3.06" fill="#d2e7f6"/>
<rect x="39.97" y="119.28" width="5.16" height="3.06" fill="#d2e7f6"/>
<rect x="46.23" y="119.28" width="5.16" height="3.06" fill="#d2e7f6"/>
<rect x="52.49" y="119.28" width="5.16" height="3.06" fill="#f9fafb"/>
<rect x="58.76" y="119.28" width="5.16" height="3.06" fill="#d2e7f6"/>
<rect x="65.02" y="119.28" width="5.16" height="3.06" fill="#f9fafb"/>
<rect x="71.29" y="119.28" width="5.16" height="3.06" fill="#d2e7f6"/>
<rect x="77.55" y="119.28" width="5.16" height="3.06" fill="#d2e7f6"/>
<rect x="83.81" y="119.28" width="5.16" height="3.06" fill="#000000"/>
<rect x="90.08" y="119.28" width="5.16" height="3.06" fill="#df5a43"/>
<rect x="96.34" y="119.28" width="5.16" height="3.06" fill="#8fc5e7"/>
<rect x="102.60" y="119.28" width="5.16" height="3.06" fill="#8fc5e7"/>
<rect x="108.87" y="119.28" width="5.16" height="3.06" fill="#8fc5e7"/>
<rect x="115.13" y="119.28" width="5.16" height="3.06" fill="#d2e7f6"/>
<rect x="121.39" y="119.28" width="5.16" height="3.06" fill="#8fc5e7"/>
<rect x="127.66" y="119.28" width="5.16" height="3.06" fill="#fddcc8"/>
<rect x="133.92" y="119.28" width="5.16" height="3.06" fill="#fddcc8"/>
<rect x="140.18" y="119.28" width="5.16" height="3.06" fill="#8fc5e7"/>
<rect x="146.45" y="119.28" width="5.16" height="3.06" fill="#f9fafb"/>
<rect x="152.71" y="119.28" width="5.16" height="3.06" fill="#8fc5e7"/>
<rect x="158.97" y="119.28" width="5.16" height="3.06" fill="#fddcc8"/>
<rect x="165.24" y="119.28" width="5.16" height="3.06" fill="#8fc5e7"/>
<rect x="171.50" y="119.28" width="5.16" height="3.06" fill="#d2e7f6"/>
<rect x="177.76" y="119.28" width="5.16" height="3.06" fill="#f9fafb"/>
<rect x="184.03" y="119.28" width="5.16" height="3.06" fill="#fddcc8"/>
<rect x="190.29" y="119.28" width="5.16" height="3.06" fill="#f8a681"/>
<rect x="196.56" y="119.28" width="5.16" height="3.06" fill="#f8a681"/>
<rect x="202.82" y="119.28" width="5.16" height="3.06" fill="#f8a681"/>
<rect x="209.08" y="119.28" width="5.16" height="3.06" fill="#d2e7f6"/>
<rect x="215.35" y="119.28" width="5.16" height="3.06" fill="#f8a681"/>
<rect x="221.61" y="119.28" width="5.16" height="3.06" fill="#f8a681"/>
<rect x="227.87" y="119.28" width="5.16" height="3.06" fill="#f8a681"/>
<rect x="234.14" y="119.28" width="5.16" height="3.06" fill="#fddcc8"/>
<rect x="240.40" y="119.28" width="5.16" height="3.06" fill="#d2e7f6"/>
<rect x="246.66" y="119.28" width="5.16" height="3.06" fill="#fddcc8"/>
<rect x="252.93" y="119.28" width="5.16" height="3.06" fill="#fddcc8"/>
<rect x="259.19" y="119.28" width="5.16" height="3.06" fill="#f8a681"/>
<rect x="265.45" y="119.28" width="5.16" height="3.06" fill="#f8a681"/>
<rect x="271.72" y="119.28" width="5.16" height="3.06" fill="#fddcc8"/>
<rect x="277.98" y="119.28" width="5.16" height="3.06" fill="#fddcc8"/>
<rect x="284.24" y="119.28" width="5.16" height="3.06" fill="#fddcc8"/>
<rect x="290.51" y="119.28" width="5.16" height="3.06" fill="#fddcc8"/>
<rect x="296.77" y="119.28" width="5.16" height="3.06" fill="#fddcc8"/>
<rect x="303.04" y="119.28" width="5.16" height="3.06" fill="#f8a681"/>
<rect x="309.30" y="119.28" width="5.16" height="3.06" fill="#f8a681"/>
<rect x="315.56" y="119.28" width="5.16" height="3.06" fill="#f8a681"/>
<rect x="321.83" y="119.28" width="5.16" height="3.06" fill="#f8a681"/>
<rect x="328.09" y="119.28" width="5.16" height="3.06" fill="#f8a681"/>
<rect x="334.35" y="119.28" width="5.16" height="3.06" fill="#f8a681"/>
<rect x="340.62" y="119.28" width="5.16" height="3.06" fill="#f8a681"/>
<rect x="346.88" y="119.28" width="5.16" height="3.06" fill="#f8a681"/>
<rect x="353.14" y="119.28" width="5.16" height="3.06" fill="#f8a681"/>
<rect x="359.41" y="119.28" width="5.16" height="3.06" fill="#f8a681"/>
<rect x="365.67" y="119.28" width="5.16" height="3.06" fill="#f8a681"/>
<rect x="371.93" y="119.28" width="5.16" height="3.06" fill="#f8a681"/>
<rect x="378.20" y="119.28" width="5.16" height="3.06" fill="#f8a681"/>
<rect x="384.46" y="119.28" width="5.16" height="3.06" fill="#f8a681"/>
<rect x="390.72" y="119.28" width="5.16" height="3.06" fill="#df5a43"/>
<rect x="396.99" y="119.28" width="5.16" height="3.06" fill="#b8172c"/>
<rect x="403.25" y="119.28" width="5.16" height="3.06" fill="#df5a43"/>
<rect x="409.51" y="119.28" width="5.16" height="3.06" fill="#df5a43"/>
<rect x="415.78" y="119.28" width="5.16" height="3.06" fill="#df5a43"/>
<rect x="422.04" y="119.28" width="5.16" height="3.06" fill="#df5a43"/>
<rect x="428.31" y="119.28" width="5.16" height="3.06" fill="#df5a43"/>
<rect x="434.57" y="119.28" width="5.16" height="3.06" fill="#f9fafb"/>
<rect x="440.83" y="119.28" width="5.16" height="3.06" fill="#f8a681"/>
<rect x="447.10" y="119.28" width="5.16" height="3.06" fill="#f8a681"/>
<rect x="453.36" y="119.28" width="5.16" height="3.06" fill="#fddcc8"/>
<rect x="459.62" y="119.28" width="5.16" height="3.06" fill="#f9fafb"/>
<rect x="465.89" y="119.28" width="5.16" height="3.06" fill="#f9fafb"/>
<rect x="8.65" y="123.34" width="5.16" height="3.06" fill="#8fc5e7"/>
<rect x="14.91" y="123.34" width="5.16" height="3.06" fill="#3f90d0"/>
<rect x="21.18" y="123.34" width="5.16" height="3.06" fill="#f8a681"/>
<rect x="27.44" y="123.34" width="5.16" height="3.06" fill="#f9fafb"/>
<rect x="33.70" y="123.34" width="5.16" height="3.06" fill="#d2e7f6"/>
<rect x="39.97" y="123.34" width="5.16" height="3.06" fill="#d2e7f6"/>
<rect x="46.23" y="123.34" width="5.16" height="3.06" fill="#fddcc8"/>
<rect x="52.49" y="123.34" width="5.16" height="3.06" fill="#d2e7f6"/>
<rect x="58.76" y="123.34" width="5.16" height="3.06" fill="#3f90d0"/>
<rect x="65.02" y="123.34" width="5.16" height="3.06" fill="#fddcc8"/>
<rect x="71.29" y="123.34" width="5.16" height="3.06" fill="#8fc5e7"/>
<rect x="77.55" y="123.34" width="5.16" height="3.06" fill="#d2e7f6"/>
<rect x="83.81" y="123.34" width="5.16" height="3.06" fill="#d2e7f6"/>
<rect x="90.08" y="123.34" width="5.16" height="3.06" fill="#8fc5e7"/>
<rect x="96.34" y="123.34" width="5.16" height="3.06" fill="#d2e7f6"/>
<rect x="102.60" y="123.34" width="5.16" height="3.06" fill="#d2e7f6"/>
<rect x="108.87" y="123.34" width="5.16" height="3.06" fill="#d2e7f6"/>
<rect x="115.13" y="123.34" width="5.16" height="3.06" fill="#f9fafb"/>
<rect x="121.39" y="123.34" width="5.16" height="3.06" fill="#8fc5e7"/>
<rect x="127.66" y="123.34" width="5.16" height="3.06" fill="#fddcc8"/>
<rect x="133.92" y="123.34" width="5.16" height="3.06" fill="#fddcc8"/>
<rect x="140.18" y="123.34" width="5.16" height="3.06" fill="#df5a43"/>
<rect x="146.45" y="123.34" width="5.16" height="3.06" fill="#8fc5e7"/>
<rect x="152.71" y="123.34" width="5.16" height="3.06" fill="#8fc5e7"/>
<rect x="158.97" y="123.34" width="5.16" height="3.06" fill="#d2e7f6"/>
<rect x="165.24" y="123.34" width="5.16" height="3.06" fill="#8fc5e7"/>
<rect x="171.50" y="123.34" width="5.16" height="3.06" fill="#8fc5e7"/>
<rect x="177.76" y="123.34" width="5.16" height="3.06" fill="#3f90d0"/>
<rect x="184.03" y="123.34" width="5.16" height="3.06" fill="#3f90d0"/>
<rect x="190.29" y="123.34" width="5.16" height="3.06" fill="#f9fafb"/>
<rect x="196.56" y="123.34" width="5.16" height="3.06" fill="#3f90d0"/>
<rect x="202.82" y="123.34" width="5.16" height="3.06" fill="#df5a43"/>
<rect x="209.08" y="123.34" width="5.16" height="3.06" fill="#df5a43"/>
<rect x="215.35" y="123.34" width="5.16" height="3.06" fill="#d2e7f6"/>
<rect x="221.61" y="123.34" width="5.16" height="3.06" fill="#d2e7f6"/>
<rect x="227.87" y="123.34" width="5.16" height="3.06" fill="#f8a681"/>
<rect x="234.14" y="123.34" width="5.16" height="3.06" fill="#f8a681"/>
<rect x="240.40" y="123.34" width="5.16" height="3.06" fill="#fddcc8"/>
<rect x="246.66" y="123.34" width="5.16" height="3.06" fill="#b8172c"/>
<rect x="252.93" y="123.34" width="5.16" height="3.06" fill="#f8a681"/>
<rect x="259.19" y="123.34" width="5.16" height="3.06" fill="#fddcc8"/>
<rect x="265.45" y="123.34" width="5.16" height="3.06" fill="#f8a681"/>
<rect x="271.72" y="123.34" width="5.16" height="3.06" fill="#d2e7f6"/>
<rect x="277.98" y="123.34" width="5.16" height="3.06" fill="#fddcc8"/>
<rect x="284.24" y="123.34" width="5.16" height="3.06" fill="#f8a681"/>
<rect x="290.51" y="123.34" width="5.16" height="3.06" fill="#f9fafb"/>
<rect x="296.77" y="123.34" width="5.16" height="3.06" fill="#f9fafb"/>
<rect x="303.04" y="123.34" width="5.16" height="3.06" fill="#f8a681"/>
<rect x="309.30" y="123.34" width="5.16" height="3.06" fill="#fddcc8"/>
<rect x="315.56" y="123.34" width="5.16" height="3.06" fill="#f9fafb"/>
<rect x="321.83" y="123.34" width="5.16" height="3.06" fill="#f9fafb"/>
<rect x="328.09" y="123.34" width="5.16" height="3.06" fill="#f8a681"/>
<rect x="334.35" y="123.34" width="5.16" height="3.06" fill="#f8a681"/>
<rect x="340.62" y="123.34" width="5.16" height="3.06" fill="#f8a681"/>
<rect x="346.88" y="123.34" width="5.16" height="3.06" fill="#fddcc8"/>
<rect x="353.14" y="123.34" width="5.16" height="3.06" fill="#fddcc8"/>
<rect x="359.41" y="123.34" width="5.16" height="3.06" fill="#fddcc8"/>
<rect x="365.67" y="123.34" width="5.16" height="3.06" fill="#fddcc8"/>
<rect x="371.93" y="123.34" width="5.16" height="3.06" fill="#f9fafb"/>
<rect x="378.20" y="123.34" width="5.16" height="3.06" fill="#f9fafb"/>
<rect x="384.46" y="123.34" width="5.16" height="3.06" fill="#fddcc8"/>
<rect x="390.72" y="123.34" width="5.16" height="3.06" fill="#fddcc8"/>
<rect x="396.99" y="123.34" width="5.16" height="3.06" fill="#d2e7f6"/>
<rect x="403.25" y="123.34" width="5.16" height="3.06" fill="#f9fafb"/>
<rect x="409.51" y="123.34" width="5.16" height="3.06" fill="#fddcc8"/>
<rect x="415.78" y="123.34" width="5.16" height="3.06" fill="#fddcc8"/>
<rect x="422.04" y="123.34" width="5.16" height="3.06" fill="#fddcc8"/>
<rect x="428.31" y="123.34" width="5.16" height="3.06" fill="#fddcc8"/>
<rect x="434.57" y="123.34" width="5.16" height="3.06" fill="#fddcc8"/>
<rect x="440.83" y="123.34" width="5.16" height="3.06" fill="#d2e7f6"/>
<rect x="447.10" y="123.34" width="5.16" height="3.06" fill="#000000"/>
<rect x="453.36" y="123.34" width="5.16" height="3.06" fill="#df5a43"/>
<rect x="459.62" y="123.34" width="5.16" height="3.06" fill="#f9fafb"/>
<rect x="465.89" y="123.34" width="5.16" height="3.06" fill="#fddcc8"/>
<rect x="8.65" y="127.40" width="5.16" height="3.06" fill="#f8a681"/>
<rect x="14.91" y="127.40" width="5.16" height="3.06" fill="#fddcc8"/>
<rect x="21.18" y="127.40" width="5.16" height="3.06" fill="#d2e7f6"/>
<rect x="27.44" y="127.40" width="5.16" height="3.06" fill="#8fc5e7"/>
<rect x="33.70" y="127.40" width="5.16" height="3.06" fill="#d2e7f6"/>
<rect x="39.97" y="127.40" width="5.16" height="3.06" fill="#d2e7f6"/>
<rect x="46.23" y="127.40" width="5.16" height="3.06" fill="#d2e7f6"/>
<rect x="52.49" y="127.40" width="5.16" height="3.06" fill="#3f90d0"/>
<rect x="58.76" y="127.40" width="5.16" height="3.06" fill="#d2e7f6"/>
<rect x="65.02" y="127.40" width="5.16" height="3.06" fill="#d2e7f6"/>
<rect x="71.29" y="127.40" width="5.16" height="3.06" fill="#d2e7f6"/>
<rect x="77.55" y="127.40" width="5.16" height="3.06" fill="#d2e7f6"/>
<rect x="83.81" y="127.40" width="5.16" height="3.06" fill="#fddcc8"/>
<rect x="90.08" y="127.40" width="5.16" height="3.06" fill="#f9fafb"/>
<rect x="96.34" y="127.40" width="5.16" height="3.06" fill="#f8a681"/>
<rect x="102.60" y="127.40" width="5.16" height="3.06" fill="#fddcc8"/>
<rect x="108.87" y="127.40" width="5.16" height="3.06" fill="#df5a43"/>
<rect x="115.13" y="127.40" width="5.16" height="3.06" fill="#df5a43"/>
<rect x="121.39" y="127.40" width="5.16" height="3.06" fill="#fddcc8"/>
<rect x="127.66" y="127.40" width="5.16" height="3.06" fill="#fddcc8"/>
<rect x="133.92" y="127.40" width="5.16" height="3.06" fill="#f8a681"/>
<rect x="140.18" y="127.40" width="5.16" height="3.06" fill="#f9fafb"/>
<rect x="146.45" y="127.40" width="5.16" height="3.06" fill="#8fc5e7"/>
<rect x="152.71" y="127.40" width="5.16" height="3.06" fill="#d2e7f6"/>
<rect x="158.97" y="127.40" width="5.16" height="3.06" fill="#d2e7f6"/>
<rect x="165.24" y="127.40" width="5.16" height="3.06" fill="#3f90d0"/>
<rect x="171.50" y="127.40" width="5.16" height="3.06" fill="#d2e7f6"/>
<rect x="177.76" y="127.40" width="5.16" height="3.06" fill="#8fc5e7"/>
<rect x="184.03" y="127.40" width="5.16" height="3.06" fill="#3f90d0"/>
<rect x="190.29" y="127.40" width="5.16" height="3.06" fill="#d2e7f6"/>
<rect x="196.56" y="127.40" width="5.16" height="3.06" fill="#f8a681"/>
<rect x="202.82" y="127.40" width="5.16" height="3.06" fill="#f8a681"/>
<rect x="209.08" y="127.40" width="5.16" height="3.06" fill="#f8a681"/>
<rect x="215.35" y="127.40" width="5.16" height="3.06" fill="#f8a681"/>
<rect x="221.61" y="127.40" width="5.16" height="3.06" fill="#f8a681"/>
<rect x="227.87" y="127.40" width="5.16" height="3.06" fill="#fddcc8"/>
<rect x="234.14" y="127.40" width="5.16" height="3.06" fill="#df5a43"/>
<rect x="240.40" y="127.40" width="5.16" height="3.06" fill="#df5a43"/>
<rect x="246.66" y="127.40" width="5.16" height="3.06" fill="#f8a681"/>
<rect x="252.93" y="127.40" width="5.16" height="3.06" fill="#df5a43"/>
<rect x="259.19" y="127.40" width="5.16" height="3.06" fill="#000000"/>
<rect x="265.45" y="127.40" width="5.16" height="3.06" fill="#fddcc8"/>
<rect x="271.72" y="127.40" width="5.16" height="3.06" fill="#f8a681"/>
<rect x="277.98" y="127.40" width="5.16" height="3.06" fill="#f8a681"/>
<rect x="284.24" y="127.40" width="5.16" height="3.06" fill="#f8a681"/>
<rect x="290.51" y="127.40" width="5.16" height="3.06" fill="#f8a681"/>
<rect x="296.77" y="127.40" width="5.16" height="3.06" fill="#df5a43"/>
<rect x="303.04" y="127.40" width="5.16" height="3.06" fill="#f8a681"/>
<rect x="309.30" y="127.40" width="5.16" height="3.06" fill="#fddcc8"/>
<rect x="315.56" y="127.40" width="5.16" height="3.06" fill="#f8a681"/>
<rect x="321.83" y="127.40" width="5.16" height="3.06" fill="#df5a43"/>
<rect x="328.09" y="127.40" width="5.16" height="3.06" fill="#f8a681"/>
<rect x="334.35" y="127.40" width="5.16" height="3.06" fill="#f8a681"/>
<rect x="340.62" y="127.40" width="5.16" height="3.06" fill="#f8a681"/>
<rect x="346.88" y="127.40" width="5.16" height="3.06" fill="#fddcc8"/>
<rect x="353.14" y="127.40" width="5.16" height="3.06" fill="#f8a681"/>
<rect x="359.41" y="127.40" width="5.16" height="3.06" fill="#f8a681"/>
<rect x="365.67" y="127.40" width="5.16" height="3.06" fill="#f8a681"/>
<rect x="371.93" y="127.40" width="5.16" height="3.06" fill="#f9fafb"/>
<rect x="378.20" y="127.40" width="5.16" height="3.06" fill="#f8a681"/>
<rect x="384.46" y="127.40" width="5.16" height="3.06" fill="#df5a43"/>
<rect x="390.72" y="127.40" width="5.16" height="3.06" fill="#f9fafb"/>
<rect x="396.99" y="127.40" width="5.16" height="3.06" fill="#fddcc8"/>
<rect x="403.25" y="127.40" width="5.16" height="3.06" fill="#f8a681"/>
<rect x="409.51" y="127.40" width="5.16" height="3.06" fill="#fddcc8"/>
<rect x="415.78" y="127.40" width="5.16" height="3.06" fill="#fddcc8"/>
<rect x="422.04" y="127.40" width="5.16" height="3.06" fill="#d2e7f6"/>
<rect x="428.31" y="127.40" width="5.16" height="3.06" fill="#fddcc8"/>
<rect x="434.57" y="127.40" width="5.16" height="3.06" fill="#f8a681"/>
<rect x="440.83" y="127.40" width="5.16" height="3.06" fill="#f8a681"/>
<rect x="447.10" y="127.40" width="5.16" height="3.06" fill="#8fc5e7"/>
<rect x="453.36" y="127.40" width="5.16" height="3.06" fill="#8fc5e7"/>
<rect x="459.62" y="127.40" width="5.16" height="3.06" fill="#f8a681"/>
<rect x="465.89" y="127.40" width="5.16" height="3.06" fill="#f9fafb"/>
<rect x="8.65" y="131.46" width="5.16" height="3.06" fill="#000000"/>
<rect x="14.91" y="131.46" width="5.16" height="3.06" fill="#fddcc8"/>
<rect x="21.18" y="131.46" width="5.16" height="3.06" fill="#f9fafb"/>
<rect x="27.44" y="131.46" width="5.16" height="3.06" fill="#8fc5e7"/>
<rect x="33.70" y="131.46" width="5.16" height="3.06" fill="#3f90d0"/>
<rect x="39.97" y="131.46" width="5.16" height="3.06" fill="#d2e7f6"/>
<rect x="46.23" y="131.46" width="5.16" height="3.06" fill="#d2e7f6"/>
<rect x="52.49" y="131.46" width="5.16" height="3.06" fill="#8fc5e7"/>
<rect x="58.76" y="131.46" width="5.16" height="3.06" fill="#f9fafb"/>
<rect x="65.02" y="131.46" width="5.16" height="3.06" fill="#d2e7f6"/>
<rect x="71.29" y="131.46" width="5.16" height="3.06" fill="#f9fafb"/>
<rect x="77.55" y="131.46" width="5.16" height="3.06" fill="#d2e7f6"/>
<rect x="83.81" y="131.46" width="5.16" height="3.06" fill="#3f90d0"/>
<rect x="90.08" y="131.46" width="5.16" height="3.06" fill="#d2e7f6"/>
<rect x="96.34" y="131.46" width="5.16" height="3.06" fill="#d2e7f6"/>
<rect x="102.60" y="131.46" width="5.16" height="3.06" fill="#8fc5e7"/>
<rect x="108.87" y="131.46" width="5.16" height="3.06" fill="#df5a43"/>
<rect x="115.13" y="131.46" width="5.16" height="3.06" fill="#df5a43"/>
<rect x="121.39" y="131.46" width="5.16" height="3.06" fill="#fddcc8"/>
<rect x="127.66" y="131.46" width="5.16" height="3.06" fill="#f8a681"/>
<rect x="133.92" y="131.46" width="5.16" height="3.06" fill="#fddcc8"/>
<rect x="140.18" y="131.46" width="5.16" height="3.06" fill="#fddcc8"/>
<rect x="146.45" y="131.46" width="5.16" height="3.06" fill="#d2e7f6"/>
<rect x="152.71" y="131.46" width="5.16" height="3.06" fill="#d2e7f6"/>
<rect x="158.97" y="131.46" width="5.16" height="3.06" fill="#d2e7f6"/>
<rect x="165.24" y="131.46" width="5.16" height="3.06" fill="#8fc5e7"/>
<rect x="171.50" y="131.46" width="5.16" height="3.06" fill="#d2e7f6"/>
<rect x="177.76" y="131.46" width="5.16" height="3.06" fill="#d2e7f6"/>
<rect x="184.03" y="131.46" width="5.16" height="3.06" fill="#000000"/>
<rect x="190.29" y="131.46" width="5.16" height="3.06" fill="#d2e7f6"/>
<rect x="196.56" y="131.46" width="5.16" height="3.06" fill="#8fc5e7"/>
<rect x="202.82" y="131.46" width="5.16" height="3.06" fill="#f8a681"/>
<rect x="209.08" y="131.46" width="5.16" height="3.06" fill="#fddcc8"/>
<rect x="215.35" y="131.46" width="5.16" height="3.06" fill="#f8a681"/>
<rect x="221.61" y="131.46" width="5.16" height="3.06" fill="#fddcc8"/>
<rect x="227.87" y="131.46" width="5.16" height="3.06" fill="#fddcc8"/>
<rect x="234.14" y="131.46" width="5.16" height="3.06" fill="#fddcc8"/>
<rect x="240.40" y="131.46" width="5.16" height="3.06" fill="#df5a43"/>
<rect x="246.66" y="131.46" width="5.16" height="3.06" fill="#fddcc8"/>
<rect x="252.93" y="131.46" width="5.16" height="3.06" fill="#fddcc8"/>
<rect x="259.19" y="131.46" width="5.16" height="3.06" fill="#fddcc8"/>
<rect x="265.45" y="131.46" width="5.16" height="3.06" fill="#f9fafb"/>
<rect x="271.72" y="131.46" width="5.16" height="3.06" fill="#fddcc8"/>
<rect x="277.98" y="131.46" width="5.16" height="3.06" fill="#f8a681"/>
<rect x="284.24" y="131.46" width="5.16" height="3.06" fill="#fddcc8"/>
<rect x="290.51" y="131.46" width="5.16" height="3.06" fill="#fddcc8"/>
<rect x="296.77" y="131.46" width="5.16" height="3.06" fill="#fddcc8"/>
<rect x="303.04" y="131.46" width="5.16" height="3.06" fill="#f9fafb"/>
<rect x="309.30" y="131.46" width="5.16" height="3.06" fill="#f8a681"/>
<rect x="315.56" y="131.46" width="5.16" height="3.06" fill="#f8a681"/>
<rect x="321.83" y="131.46" width="5.16" height="3.06" fill="#f8a681"/>
<rect x="328.09" y="131.46" width="5.16" height="3.06" fill="#f8a681"/>
<rect x="334.35" y="131.46" width="5.16" height="3.06" fill="#f8a681"/>
<rect x="340.62" y="131.46" width="5.16" height="3.06" fill="#f8a681"/>
<rect x="346.88" y="131.46" width="5.16" height="3.06" fill="#fddcc8"/>
<rect x="353.14" y="131.46" width="5.16" height="3.06" fill="#f8a681"/>
<rect x="359.41" y="131.46" width="5.16" height="3.06" fill="#f8a681"/>
<rect x="365.67" y="131.46" width="5.16" height="3.06" fill="#f8a681"/>
<rect x="371.93" y="131.46" width="5.16" height="3.06" fill="#f8a681"/>
<rect x="378.20" y="131.46" width="5.16" height="3.06" fill="#df5a43"/>
<rect x="384.46" y="131.46" width="5.16" height="3.06" fill="#df5a43"/>
<rect x="390.72" y="131.46" width="5.16" height="3.06" fill="#f9fafb"/>
<rect x="396.99" y="131.46" width="5.16" height="3.06" fill="#f9fafb"/>
<rect x="403.25" y="131.46" width="5.16" height="3.06" fill="#f8a681"/>
<rect x="409.51" y="131.46" width="5.16" height="3.06" fill="#fddcc8"/>
<rect x="415.78" y="131.46" width="5.16" height="3.06" fill="#f8a681"/>
<rect x="422.04" y="131.46" width="5.16" height="3.06" fill="#8fc5e7"/>
<rect x="428.31" y="131.46" width="5.16" height="3.06" fill="#f8a681"/>
<rect x="434.57" y="131.46" width="5.16" height="3.06" fill="#f8a681"/>
<rect x="440.83" y="131.46" width="5.16" height="3.06" fill="#f8a681"/>
<rect x="447.10" y="131.46" width="5.16" height="3.06" fill="#f8a681"/>
<rect x="453.36" y="131.46" width="5.16" height="3.06" fill="#d2e7f6"/>
<rect x="459.62" y="131.46" width="5.16" height="3.06" fill="#d2e7f6"/>
<rect x="465.89" y="131.46" width="5.16" height="3.06" fill="#8fc5e7"/>
<text transform="translate(8.93,138.60) rotate(90)" font-size="6.4" textLength="18.28" lengthAdjust="spacingAndGlyphs">IFI44L</text>
<text transform="translate(15.19,138.60) rotate(90)" font-size="6.4" textLength="30.83" lengthAdjust="spacingAndGlyphs">GOLGA8B</text>
<text transform="translate(21.45,138.60) rotate(90)" font-size="6.4" textLength="15.05" lengthAdjust="spacingAndGlyphs">NPIP</text>
<text transform="translate(27.72,138.60) rotate(90)" font-size="6.4" textLength="22.93" lengthAdjust="spacingAndGlyphs">CRNDE</text>
<text transform="translate(33.98,138.60) rotate(90)" font-size="6.4" textLength="21.51" lengthAdjust="spacingAndGlyphs">RBM18</text>
<text transform="translate(40.25,138.60) rotate(90)" font-size="6.4" textLength="25.45" lengthAdjust="spacingAndGlyphs">HSPBP1</text>
<text transform="translate(46.51,138.60) rotate(90)" font-size="6.4" textLength="26.17" lengthAdjust="spacingAndGlyphs">ANKHD1</text>
<text transform="translate(52.77,138.60) rotate(90)" font-size="6.4" textLength="21.87" lengthAdjust="spacingAndGlyphs">ENOX2</text>
<text transform="translate(59.04,138.60) rotate(90)" font-size="6.4" textLength="21.51" lengthAdjust="spacingAndGlyphs">CXXC1</text>
<text transform="translate(65.30,138.60) rotate(90)" font-size="6.4" textLength="15.42" lengthAdjust="spacingAndGlyphs">ST7L</text>
<text transform="translate(71.56,138.60) rotate(90)" font-size="6.4" textLength="23.30" lengthAdjust="spacingAndGlyphs">ZNF561</text>
<text transform="translate(77.83,138.60) rotate(90)" font-size="6.4" textLength="45.42" lengthAdjust="spacingAndGlyphs">RP11-313P13.3</text>
<text transform="translate(84.09,138.60) rotate(90)" font-size="6.4" textLength="26.17" lengthAdjust="spacingAndGlyphs">GUSBP3</text>
<text transform="translate(90.35,138.60) rotate(90)" font-size="6.4" textLength="31.07" lengthAdjust="spacingAndGlyphs">TOR1AIP1</text>
<text transform="translate(96.62,138.60) rotate(90)" font-size="6.4" textLength="42.90" lengthAdjust="spacingAndGlyphs">RP11-640M9.1</text>
<text transform="translate(102.88,138.60) rotate(90)" font-size="6.4" textLength="20.79" lengthAdjust="spacingAndGlyphs">NBPF9</text>
<text transform="translate(109.14,138.60) rotate(90)" font-size="6.4" textLength="27.61" lengthAdjust="spacingAndGlyphs">SLC35E2</text>
<text transform="translate(115.41,138.60) rotate(90)" font-size="6.4" textLength="24.74" lengthAdjust="spacingAndGlyphs">PKD1P1</text>
<text transform="translate(121.67,138.60) rotate(90)" font-size="6.4" textLength="21.86" lengthAdjust="spacingAndGlyphs">XRCC3</text>
<text transform="translate(127.93,138.60) rotate(90)" font-size="6.4" textLength="21.50" lengthAdjust="spacingAndGlyphs">FANCA</text>
<text transform="translate(134.20,138.60) rotate(90)" font-size="6.4" textLength="25.81" lengthAdjust="spacingAndGlyphs">ADAM15</text>
<text transform="translate(140.46,138.60) rotate(90)" font-size="6.4" textLength="20.80" lengthAdjust="spacingAndGlyphs">OXA1L</text>
<text transform="translate(146.73,138.60) rotate(90)" font-size="6.4" textLength="16.85" lengthAdjust="spacingAndGlyphs">DLG5</text>
<text transform="translate(152.99,138.60) rotate(90)" font-size="6.4" textLength="29.75" lengthAdjust="spacingAndGlyphs">TMEM234</text>
<text transform="translate(159.25,138.60) rotate(90)" font-size="6.4" textLength="19.36" lengthAdjust="spacingAndGlyphs">C5orf4</text>
<text transform="translate(165.52,138.60) rotate(90)" font-size="6.4" textLength="25.09" lengthAdjust="spacingAndGlyphs">FAM65C</text>
<text transform="translate(171.78,138.60) rotate(90)" font-size="6.4" textLength="29.75" lengthAdjust="spacingAndGlyphs">TMEM175</text>
<text transform="translate(178.04,138.60) rotate(90)" font-size="6.4" textLength="18.64" lengthAdjust="spacingAndGlyphs">TTLL3</text>
<text transform="translate(184.31,138.60) rotate(90)" font-size="6.4" textLength="12.18" lengthAdjust="spacingAndGlyphs">FN1</text>
<text transform="translate(190.57,138.60) rotate(90)" font-size="6.4" textLength="21.99" lengthAdjust="spacingAndGlyphs">PARVG</text>
<text transform="translate(196.83,138.60) rotate(90)" font-size="6.4" textLength="13.26" lengthAdjust="spacingAndGlyphs">PML</text>
<text transform="translate(203.10,138.60) rotate(90)" font-size="6.4" textLength="23.29" lengthAdjust="spacingAndGlyphs">CBWD2</text>
<text transform="translate(209.36,138.60) rotate(90)" font-size="6.4" textLength="23.65" lengthAdjust="spacingAndGlyphs">NOMO2</text>
<text transform="translate(215.62,138.60) rotate(90)" font-size="6.4" textLength="23.90" lengthAdjust="spacingAndGlyphs">NBPF11</text>
<text transform="translate(221.89,138.60) rotate(90)" font-size="6.4" textLength="23.30" lengthAdjust="spacingAndGlyphs">ZNF202</text>
<text transform="translate(228.15,138.60) rotate(90)" font-size="6.4" textLength="16.13" lengthAdjust="spacingAndGlyphs">RPL9</text>
<text transform="translate(234.41,138.60) rotate(90)" font-size="6.4" textLength="23.29" lengthAdjust="spacingAndGlyphs">CBWD5</text>
<text transform="translate(240.68,138.60) rotate(90)" font-size="6.4" textLength="22.58" lengthAdjust="spacingAndGlyphs">ARFIP2</text>
<text transform="translate(246.94,138.60) rotate(90)" font-size="6.4" textLength="18.64" lengthAdjust="spacingAndGlyphs">TTLL3</text>
<text transform="translate(253.20,138.60) rotate(90)" font-size="6.4" textLength="29.75" lengthAdjust="spacingAndGlyphs">TMEM175</text>
<text transform="translate(259.47,138.60) rotate(90)" font-size="6.4" textLength="20.79" lengthAdjust="spacingAndGlyphs">CDK18</text>
<text transform="translate(265.73,138.60) rotate(90)" font-size="6.4" textLength="26.05" lengthAdjust="spacingAndGlyphs">C11orf75</text>
<text transform="translate(272.00,138.60) rotate(90)" font-size="6.4" textLength="23.30" lengthAdjust="spacingAndGlyphs">TCF7L2</text>
<text transform="translate(278.26,138.60) rotate(90)" font-size="6.4" textLength="30.46" lengthAdjust="spacingAndGlyphs">MTERFD3</text>
<text transform="translate(284.52,138.60) rotate(90)" font-size="6.4" textLength="30.46" lengthAdjust="spacingAndGlyphs">MTERFD3</text>
<text transform="translate(290.79,138.60) rotate(90)" font-size="6.4" textLength="20.43" lengthAdjust="spacingAndGlyphs">ABTB1</text>
<text transform="translate(297.05,138.60) rotate(90)" font-size="6.4" textLength="23.65" lengthAdjust="spacingAndGlyphs">TCIRG1</text>
<text transform="translate(303.31,138.60) rotate(90)" font-size="6.4" textLength="20.43" lengthAdjust="spacingAndGlyphs">SEPT6</text>
<text transform="translate(309.58,138.60) rotate(90)" font-size="6.4" textLength="19.36" lengthAdjust="spacingAndGlyphs">ORAI2</text>
<text transform="translate(315.84,138.60) rotate(90)" font-size="6.4" textLength="16.85" lengthAdjust="spacingAndGlyphs">UXS1</text>
<text transform="translate(322.10,138.60) rotate(90)" font-size="6.4" textLength="18.64" lengthAdjust="spacingAndGlyphs">PILRB</text>
<text transform="translate(328.37,138.60) rotate(90)" font-size="6.4" textLength="30.82" lengthAdjust="spacingAndGlyphs">TMEM14C</text>
<text transform="translate(334.63,138.60) rotate(90)" font-size="6.4" textLength="24.38" lengthAdjust="spacingAndGlyphs">DYNLL1</text>
<text transform="translate(340.89,138.60) rotate(90)" font-size="6.4" textLength="25.45" lengthAdjust="spacingAndGlyphs">SERBP1</text>
<text transform="translate(347.16,138.60) rotate(90)" font-size="6.4" textLength="24.01" lengthAdjust="spacingAndGlyphs">ERGIC3</text>
<text transform="translate(353.42,138.60) rotate(90)" font-size="6.4" textLength="17.21" lengthAdjust="spacingAndGlyphs">DPH5</text>
<text transform="translate(359.68,138.60) rotate(90)" font-size="6.4" textLength="26.17" lengthAdjust="spacingAndGlyphs">MYO15B</text>
<text transform="translate(365.95,138.60) rotate(90)" font-size="6.4" textLength="25.45" lengthAdjust="spacingAndGlyphs">MAP3K7</text>
<text transform="translate(372.21,138.60) rotate(90)" font-size="6.4" textLength="17.21" lengthAdjust="spacingAndGlyphs">BRD9</text>
<text transform="translate(378.48,138.60) rotate(90)" font-size="6.4" textLength="29.28" lengthAdjust="spacingAndGlyphs">GUSBP11</text>
<text transform="translate(384.74,138.60) rotate(90)" font-size="6.4" textLength="20.80" lengthAdjust="spacingAndGlyphs">APBB3</text>
<text transform="translate(391.00,138.60) rotate(90)" font-size="6.4" textLength="21.87" lengthAdjust="spacingAndGlyphs">SKIV2L</text>
<text transform="translate(397.27,138.60) rotate(90)" font-size="6.4" textLength="20.80" lengthAdjust="spacingAndGlyphs">OXA1L</text>
<text transform="translate(403.53,138.60) rotate(90)" font-size="6.4" textLength="20.79" lengthAdjust="spacingAndGlyphs">TCEA2</text>
<text transform="translate(409.79,138.60) rotate(90)" font-size="6.4" textLength="20.79" lengthAdjust="spacingAndGlyphs">TCEA2</text>
<text transform="translate(416.06,138.60) rotate(90)" font-size="6.4" textLength="29.75" lengthAdjust="spacingAndGlyphs">ZDHHC16</text>
<text transform="translate(422.32,138.60) rotate(90)" font-size="6.4" textLength="19.00" lengthAdjust="spacingAndGlyphs">ARIH1</text>
<text transform="translate(428.58,138.60) rotate(90)" font-size="6.4" textLength="23.29" lengthAdjust="spacingAndGlyphs">MROH1</text>
<text transform="translate(434.85,138.60) rotate(90)" font-size="6.4" textLength="23.30" lengthAdjust="spacingAndGlyphs">ZNF160</text>
<text transform="translate(441.11,138.60) rotate(90)" font-size="6.4" textLength="29.04" lengthAdjust="spacingAndGlyphs">MAP3K12</text>
<text transform="translate(447.37,138.60) rotate(90)" font-size="6.4" textLength="41.95" lengthAdjust="spacingAndGlyphs">RP13-996F3.3</text>
<text transform="translate(453.64,138.60) rotate(90)" font-size="6.4" textLength="26.17" lengthAdjust="spacingAndGlyphs">PI4KAP2</text>
<text transform="translate(459.90,138.60) rotate(90)" font-size="6.4" textLength="22.22" lengthAdjust="spacingAndGlyphs">CAMK1</text>
<text transform="translate(466.16,138.60) rotate(90)" font-size="6.4" textLength="24.38" lengthAdjust="spacingAndGlyphs">DDX60L</text>
<rect x="474.05" y="21.30" width="0.90" height="16.90" fill="#231f20"/>
<rect x="474.05" y="41.90" width="0.90" height="12.40" fill="#231f20"/>
<rect x="474.05" y="57.40" width="0.90" height="17.10" fill="#231f20"/>
<rect x="474.05" y="77.30" width="0.90" height="1.60" fill="#231f20"/>
<rect x="474.05" y="81.20" width="0.90" height="1.60" fill="#231f20"/>
<rect x="474.05" y="86.30" width="0.90" height="16.80" fill="#231f20"/>
<rect x="474.05" y="105.80" width="0.90" height="18.40" fill="#231f20"/>
<rect x="474.05" y="127.20" width="0.90" height="1.60" fill="#231f20"/>
<rect x="474.05" y="132.60" width="0.90" height="1.60" fill="#231f20"/>
<rect x="502.85" y="21.60" width="0.90" height="61.20" fill="#231f20"/>
<rect x="502.85" y="86.30" width="0.90" height="49.00" fill="#231f20"/>
<text x="477.00" y="31.80" font-size="7.6" textLength="12.20" lengthAdjust="spacingAndGlyphs">BM</text>
<text x="477.2" y="50.00" font-size="6.4">MDS-<tspan style="fill:#e0304a;stroke:#e0304a">D</tspan></text>
<text x="477.2" y="67.10" font-size="6.4">MDS-<tspan style="fill:#e0304a;stroke:#e0304a">T</tspan></text>
<text x="477.20" y="78.60" font-size="5.8" textLength="21.00" lengthAdjust="spacingAndGlyphs">SF-HPC</text>
<text x="477.20" y="86.60" font-size="5.8" textLength="14.10" lengthAdjust="spacingAndGlyphs">K562</text>
<text x="477.2" y="96.80" font-size="6.4">MDS-<tspan style="fill:#e0304a;stroke:#e0304a">D</tspan></text>
<text x="477.2" y="117.00" font-size="6.4">MDS-<tspan style="fill:#e0304a;stroke:#e0304a">T</tspan></text>
<text x="477.20" y="130.40" font-size="5.8" textLength="21.00" lengthAdjust="spacingAndGlyphs">SF-HPC</text>
<text x="477.20" y="137.20" font-size="5.8" textLength="14.10" lengthAdjust="spacingAndGlyphs">K562</text>
<text transform="translate(506.30,30.40) rotate(90)" font-size="8.6" textLength="39.50" lengthAdjust="spacingAndGlyphs">SF3B1-WT</text>
<text transform="translate(506.30,87.70) rotate(90)" font-size="8.6" textLength="45.20" lengthAdjust="spacingAndGlyphs">SF3B1-MUT</text>
<text x="7.00" y="197.00" font-size="11.6" font-weight="bold" style="fill:#000;stroke:#000">B</text>
<line x1="40.20" y1="201.80" x2="40.20" y2="297.70" stroke="#231f20" stroke-width="1.0"/>
<line x1="39.70" y1="297.20" x2="164.30" y2="297.20" stroke="#231f20" stroke-width="1.0"/>
<line x1="36.50" y1="297.20" x2="40.20" y2="297.20" stroke="#231f20" stroke-width="1.0"/>
<text x="34.20" y="299.90" font-size="7.6" text-anchor="end" textLength="3.89" lengthAdjust="spacingAndGlyphs">0</text>
<line x1="36.50" y1="279.06" x2="40.20" y2="279.06" stroke="#231f20" stroke-width="1.0"/>
<text x="34.20" y="281.76" font-size="7.6" text-anchor="end" textLength="7.78" lengthAdjust="spacingAndGlyphs">20</text>
<line x1="36.50" y1="260.92" x2="40.20" y2="260.92" stroke="#231f20" stroke-width="1.0"/>
<text x="34.20" y="263.62" font-size="7.6" text-anchor="end" textLength="7.78" lengthAdjust="spacingAndGlyphs">40</text>
<line x1="36.50" y1="242.78" x2="40.20" y2="242.78" stroke="#231f20" stroke-width="1.0"/>
<text x="34.20" y="245.48" font-size="7.6" text-anchor="end" textLength="7.78" lengthAdjust="spacingAndGlyphs">60</text>
<line x1="36.50" y1="224.64" x2="40.20" y2="224.64" stroke="#231f20" stroke-width="1.0"/>
<text x="34.20" y="227.34" font-size="7.6" text-anchor="end" textLength="7.78" lengthAdjust="spacingAndGlyphs">80</text>
<line x1="36.50" y1="206.50" x2="40.20" y2="206.50" stroke="#231f20" stroke-width="1.0"/>
<text x="34.20" y="209.20" font-size="7.6" text-anchor="end" textLength="11.66" lengthAdjust="spacingAndGlyphs">100</text>
<rect x="50.70" y="282.42" width="25.10" height="14.80" fill="#c8102e"/>
<rect x="50.70" y="278.33" width="25.10" height="4.10" fill="#1a4f8a"/>
<rect x="50.70" y="265.73" width="25.10" height="12.63" fill="#3bb44a"/>
<rect x="50.70" y="252.30" width="25.10" height="13.44" fill="#5c2570"/>
<rect x="50.70" y="245.50" width="25.10" height="6.82" fill="#f8900e"/>
<rect x="50.70" y="242.33" width="25.10" height="3.19" fill="#0d6450"/>
<rect x="50.70" y="216.75" width="25.10" height="25.60" fill="#8a83c3"/>
<rect x="50.70" y="206.50" width="25.10" height="10.27" fill="#434e5e"/>
<line x1="63.25" y1="297.20" x2="63.25" y2="300.20" stroke="#231f20" stroke-width="1.0"/>
<rect x="90.60" y="287.22" width="25.60" height="10.00" fill="#c8102e"/>
<rect x="90.60" y="282.96" width="25.60" height="4.28" fill="#1a4f8a"/>
<rect x="90.60" y="270.53" width="25.60" height="12.45" fill="#3bb44a"/>
<rect x="90.60" y="257.11" width="25.60" height="13.44" fill="#5c2570"/>
<rect x="90.60" y="249.58" width="25.60" height="7.55" fill="#f8900e"/>
<rect x="90.60" y="244.96" width="25.60" height="4.65" fill="#0d6450"/>
<rect x="90.60" y="228.00" width="25.60" height="16.98" fill="#8a83c3"/>
<rect x="90.60" y="206.50" width="25.60" height="21.52" fill="#434e5e"/>
<line x1="103.40" y1="297.20" x2="103.40" y2="300.20" stroke="#231f20" stroke-width="1.0"/>
<rect x="130.70" y="288.58" width="25.30" height="8.64" fill="#c8102e"/>
<rect x="130.70" y="284.86" width="25.30" height="3.74" fill="#1a4f8a"/>
<rect x="130.70" y="273.80" width="25.30" height="11.09" fill="#3bb44a"/>
<rect x="130.70" y="261.37" width="25.30" height="12.45" fill="#5c2570"/>
<rect x="130.70" y="256.02" width="25.30" height="5.37" fill="#f8900e"/>
<rect x="130.70" y="251.94" width="25.30" height="4.10" fill="#0d6450"/>
<rect x="130.70" y="235.07" width="25.30" height="16.89" fill="#8a83c3"/>
<rect x="130.70" y="206.50" width="25.30" height="28.59" fill="#434e5e"/>
<line x1="143.35" y1="297.20" x2="143.35" y2="300.20" stroke="#231f20" stroke-width="1.0"/>
<text x="63.25" y="308.20" font-size="7.2" text-anchor="middle" textLength="29.40" lengthAdjust="spacingAndGlyphs">Progenitor</text>
<text x="103.40" y="308.20" font-size="7.2" text-anchor="middle" textLength="43.20" lengthAdjust="spacingAndGlyphs">Proerythroblast</text>
<text x="143.35" y="308.20" font-size="7.2" text-anchor="middle" textLength="34.00" lengthAdjust="spacingAndGlyphs">Erythroblast</text>
<text transform="translate(17.00,252.00) rotate(-90)" font-size="8.5" text-anchor="middle" textLength="60.00" lengthAdjust="spacingAndGlyphs">% Aberrant events</text>
<rect x="161.10" y="205.60" width="5.50" height="5.10" fill="#434e5e"/>
<text x="170.00" y="210.50" font-size="7.6" textLength="10.10" lengthAdjust="spacingAndGlyphs">tutr</text>
<rect x="161.10" y="214.40" width="5.50" height="5.10" fill="#8a83c3"/>
<text x="170.00" y="219.30" font-size="7.6" textLength="7.38" lengthAdjust="spacingAndGlyphs">se</text>
<rect x="161.10" y="223.20" width="5.50" height="5.10" fill="#0d6450"/>
<text x="170.00" y="228.10" font-size="7.6" textLength="3.88" lengthAdjust="spacingAndGlyphs">ri</text>
<rect x="161.10" y="232.00" width="5.50" height="5.10" fill="#f8900e"/>
<text x="170.00" y="236.90" font-size="7.6" textLength="13.21" lengthAdjust="spacingAndGlyphs">mxe</text>
<rect x="161.10" y="240.80" width="5.50" height="5.10" fill="#5c2570"/>
<text x="170.00" y="245.70" font-size="7.6" textLength="5.05" lengthAdjust="spacingAndGlyphs">cj</text>
<rect x="161.10" y="249.60" width="5.50" height="5.10" fill="#3bb44a"/>
<text x="170.00" y="254.50" font-size="7.6" textLength="5.05" lengthAdjust="spacingAndGlyphs">ci</text>
<rect x="161.10" y="258.40" width="5.50" height="5.10" fill="#1a4f8a"/>
<text x="170.00" y="263.30" font-size="7.6" textLength="14.77" lengthAdjust="spacingAndGlyphs">a5ss</text>
<rect x="161.10" y="267.20" width="5.50" height="5.10" fill="#c8102e"/>
<text x="170.00" y="272.10" font-size="7.6" textLength="14.77" lengthAdjust="spacingAndGlyphs">a3ss</text>
<text x="192.00" y="197.10" font-size="11.6" font-weight="bold" style="fill:#000;stroke:#000">C</text>
<line x1="230.40" y1="201.50" x2="230.40" y2="297.70" stroke="#231f20" stroke-width="1.0"/>
<line x1="229.90" y1="297.20" x2="331.00" y2="297.20" stroke="#231f20" stroke-width="1.0"/>
<line x1="227.20" y1="297.20" x2="230.40" y2="297.20" stroke="#231f20" stroke-width="1.0"/>
<text x="224.60" y="300.20" font-size="8.4" text-anchor="end" textLength="4.11" lengthAdjust="spacingAndGlyphs">1</text>
<line x1="228.70" y1="290.23" x2="230.40" y2="290.23" stroke="#231f20" stroke-width="0.6"/>
<line x1="228.70" y1="286.15" x2="230.40" y2="286.15" stroke="#231f20" stroke-width="0.6"/>
<line x1="228.70" y1="283.25" x2="230.40" y2="283.25" stroke="#231f20" stroke-width="0.6"/>
<line x1="228.70" y1="281.00" x2="230.40" y2="281.00" stroke="#231f20" stroke-width="0.6"/>
<line x1="228.70" y1="279.17" x2="230.40" y2="279.17" stroke="#231f20" stroke-width="0.6"/>
<line x1="228.70" y1="277.62" x2="230.40" y2="277.62" stroke="#231f20" stroke-width="0.6"/>
<line x1="228.70" y1="276.28" x2="230.40" y2="276.28" stroke="#231f20" stroke-width="0.6"/>
<line x1="228.70" y1="275.09" x2="230.40" y2="275.09" stroke="#231f20" stroke-width="0.6"/>
<line x1="227.20" y1="274.03" x2="230.40" y2="274.03" stroke="#231f20" stroke-width="1.0"/>
<text x="224.60" y="277.03" font-size="8.4" text-anchor="end" textLength="8.22" lengthAdjust="spacingAndGlyphs">10</text>
<line x1="228.70" y1="267.06" x2="230.40" y2="267.06" stroke="#231f20" stroke-width="0.6"/>
<line x1="228.70" y1="262.98" x2="230.40" y2="262.98" stroke="#231f20" stroke-width="0.6"/>
<line x1="228.70" y1="260.08" x2="230.40" y2="260.08" stroke="#231f20" stroke-width="0.6"/>
<line x1="228.70" y1="257.83" x2="230.40" y2="257.83" stroke="#231f20" stroke-width="0.6"/>
<line x1="228.70" y1="256.00" x2="230.40" y2="256.00" stroke="#231f20" stroke-width="0.6"/>
<line x1="228.70" y1="254.45" x2="230.40" y2="254.45" stroke="#231f20" stroke-width="0.6"/>
<line x1="228.70" y1="253.11" x2="230.40" y2="253.11" stroke="#231f20" stroke-width="0.6"/>
<line x1="228.70" y1="251.92" x2="230.40" y2="251.92" stroke="#231f20" stroke-width="0.6"/>
<line x1="227.20" y1="250.86" x2="230.40" y2="250.86" stroke="#231f20" stroke-width="1.0"/>
<text x="224.60" y="253.86" font-size="8.4" text-anchor="end" textLength="12.33" lengthAdjust="spacingAndGlyphs">100</text>
<line x1="228.70" y1="243.89" x2="230.40" y2="243.89" stroke="#231f20" stroke-width="0.6"/>
<line x1="228.70" y1="239.81" x2="230.40" y2="239.81" stroke="#231f20" stroke-width="0.6"/>
<line x1="228.70" y1="236.91" x2="230.40" y2="236.91" stroke="#231f20" stroke-width="0.6"/>
<line x1="228.70" y1="234.66" x2="230.40" y2="234.66" stroke="#231f20" stroke-width="0.6"/>
<line x1="228.70" y1="232.83" x2="230.40" y2="232.83" stroke="#231f20" stroke-width="0.6"/>
<line x1="228.70" y1="231.28" x2="230.40" y2="231.28" stroke="#231f20" stroke-width="0.6"/>
<line x1="228.70" y1="229.94" x2="230.40" y2="229.94" stroke="#231f20" stroke-width="0.6"/>
<line x1="228.70" y1="228.75" x2="230.40" y2="228.75" stroke="#231f20" stroke-width="0.6"/>
<line x1="227.20" y1="227.69" x2="230.40" y2="227.69" stroke="#231f20" stroke-width="1.0"/>
<text x="224.60" y="230.69" font-size="8.4" text-anchor="end" textLength="16.44" lengthAdjust="spacingAndGlyphs">1000</text>
<line x1="228.70" y1="220.72" x2="230.40" y2="220.72" stroke="#231f20" stroke-width="0.6"/>
<line x1="228.70" y1="216.64" x2="230.40" y2="216.64" stroke="#231f20" stroke-width="0.6"/>
<line x1="228.70" y1="213.74" x2="230.40" y2="213.74" stroke="#231f20" stroke-width="0.6"/>
<line x1="228.70" y1="211.49" x2="230.40" y2="211.49" stroke="#231f20" stroke-width="0.6"/>
<line x1="228.70" y1="209.66" x2="230.40" y2="209.66" stroke="#231f20" stroke-width="0.6"/>
<line x1="228.70" y1="208.11" x2="230.40" y2="208.11" stroke="#231f20" stroke-width="0.6"/>
<line x1="228.70" y1="206.77" x2="230.40" y2="206.77" stroke="#231f20" stroke-width="0.6"/>
<line x1="228.70" y1="205.58" x2="230.40" y2="205.58" stroke="#231f20" stroke-width="0.6"/>
<line x1="227.20" y1="204.52" x2="230.40" y2="204.52" stroke="#231f20" stroke-width="1.0"/>
<text x="224.60" y="207.52" font-size="8.4" text-anchor="end" textLength="20.55" lengthAdjust="spacingAndGlyphs">10000</text>
<rect x="232.30" y="229.56" width="5.20" height="67.64" fill="#c8102e"/>
<rect x="239.30" y="226.73" width="5.20" height="70.47" fill="#0d4a86"/>
<rect x="246.30" y="227.89" width="5.20" height="69.31" fill="#34b44a"/>
<line x1="241.90" y1="297.20" x2="241.90" y2="299.70" stroke="#231f20" stroke-width="1.0"/>
<rect x="257.60" y="241.64" width="5.20" height="55.56" fill="#c8102e"/>
<rect x="264.60" y="239.16" width="5.20" height="58.04" fill="#0d4a86"/>
<rect x="271.60" y="240.15" width="5.20" height="57.05" fill="#34b44a"/>
<line x1="267.20" y1="297.20" x2="267.20" y2="299.70" stroke="#231f20" stroke-width="1.0"/>
<rect x="283.50" y="255.83" width="5.20" height="41.37" fill="#c8102e"/>
<rect x="290.50" y="249.90" width="5.20" height="47.30" fill="#0d4a86"/>
<rect x="297.50" y="253.75" width="5.20" height="43.45" fill="#34b44a"/>
<line x1="293.10" y1="297.20" x2="293.10" y2="299.70" stroke="#231f20" stroke-width="1.0"/>
<rect x="308.90" y="257.64" width="5.20" height="39.56" fill="#c8102e"/>
<rect x="315.90" y="255.51" width="5.20" height="41.69" fill="#0d4a86"/>
<rect x="322.90" y="257.83" width="5.20" height="39.37" fill="#34b44a"/>
<line x1="318.50" y1="297.20" x2="318.50" y2="299.70" stroke="#231f20" stroke-width="1.0"/>
<text x="241.90" y="308.00" font-size="7.6" text-anchor="middle" textLength="20.16" lengthAdjust="spacingAndGlyphs">11–20</text>
<text x="267.20" y="308.00" font-size="7.6" text-anchor="middle" textLength="20.71" lengthAdjust="spacingAndGlyphs">21–30</text>
<text x="293.10" y="308.00" font-size="7.6" text-anchor="middle" textLength="20.71" lengthAdjust="spacingAndGlyphs">31–40</text>
<text x="318.50" y="308.00" font-size="7.6" text-anchor="middle" textLength="12.63" lengthAdjust="spacingAndGlyphs">41+</text>
<text x="280.80" y="320.70" font-size="7.8" text-anchor="middle" textLength="52.50" lengthAdjust="spacingAndGlyphs">Mis-splicing (%)</text>
<text transform="translate(200.20,250.80) rotate(-90)" font-size="8.5" text-anchor="middle" textLength="64.00" lengthAdjust="spacingAndGlyphs"># Aberrant isoforms</text>
<rect x="271.50" y="205.40" width="5.30" height="5.10" fill="#c8102e"/>
<text x="280.10" y="210.10" font-size="7.0" textLength="35.00" lengthAdjust="spacingAndGlyphs">Progenitor</text>
<rect x="271.50" y="214.20" width="5.30" height="5.10" fill="#0d4a86"/>
<text x="280.10" y="218.90" font-size="7.0" textLength="51.00" lengthAdjust="spacingAndGlyphs">Proerythroblast</text>
<rect x="271.50" y="223.00" width="5.30" height="5.10" fill="#34b44a"/>
<text x="280.10" y="227.70" font-size="7.0" textLength="39.80" lengthAdjust="spacingAndGlyphs">Erythroblast</text>
<text x="340.60" y="197.10" font-size="11.6" font-weight="bold" style="fill:#000;stroke:#000">D</text>
<rect x="402.00" y="203.40" width="29.00" height="34.60" fill="#0f4f8b"/>
<text x="416.50" y="223.70" font-size="8.6" style="fill:#ffffff;stroke:#ffffff" text-anchor="middle" textLength="20.70" lengthAdjust="spacingAndGlyphs">1.000</text>
<rect x="431.00" y="203.40" width="29.00" height="34.60" fill="#7e9dbf"/>
<text x="445.50" y="219.10" font-size="8.6" text-anchor="middle" textLength="14.20" lengthAdjust="spacingAndGlyphs">****</text>
<text x="445.50" y="227.70" font-size="8.6" text-anchor="middle" textLength="21.00" lengthAdjust="spacingAndGlyphs">0.851</text>
<rect x="460.00" y="203.40" width="28.60" height="34.60" fill="#cfdce8"/>
<text x="474.30" y="219.10" font-size="8.6" text-anchor="middle" textLength="14.20" lengthAdjust="spacingAndGlyphs">****</text>
<text x="474.30" y="227.70" font-size="8.6" text-anchor="middle" textLength="21.00" lengthAdjust="spacingAndGlyphs">0.742</text>
<rect x="431.00" y="238.00" width="29.00" height="35.00" fill="#0f4f8b"/>
<text x="445.50" y="258.50" font-size="8.6" style="fill:#ffffff;stroke:#ffffff" text-anchor="middle" textLength="20.70" lengthAdjust="spacingAndGlyphs">1.000</text>
<rect x="460.00" y="238.00" width="28.60" height="35.00" fill="#9ab4cf"/>
<text x="474.30" y="253.90" font-size="8.6" text-anchor="middle" textLength="14.20" lengthAdjust="spacingAndGlyphs">****</text>
<text x="474.30" y="262.50" font-size="8.6" text-anchor="middle" textLength="21.00" lengthAdjust="spacingAndGlyphs">0.807</text>
<rect x="460.00" y="273.00" width="28.60" height="34.80" fill="#0f4f8b"/>
<text x="474.30" y="293.40" font-size="8.6" style="fill:#ffffff;stroke:#ffffff" text-anchor="middle" textLength="20.70" lengthAdjust="spacingAndGlyphs">1.000</text>
<rect x="402.00" y="203.40" width="86.60" height="104.40" fill="none" stroke="#111" stroke-width="1"/>
<text x="398.20" y="222.60" font-size="8.6" text-anchor="end" textLength="39.50" lengthAdjust="spacingAndGlyphs">Progenitor</text>
<text x="398.20" y="257.00" font-size="8.6" text-anchor="end" textLength="57.40" lengthAdjust="spacingAndGlyphs">Proerythroblast</text>
<text x="398.20" y="292.50" font-size="8.6" text-anchor="end" textLength="44.70" lengthAdjust="spacingAndGlyphs">Erythroblast</text>
<text x="416.60" y="317.30" font-size="8.4" text-anchor="middle" textLength="15.97" lengthAdjust="spacingAndGlyphs">Prog</text>
<text x="445.50" y="317.30" font-size="8.4" text-anchor="middle" textLength="24.78" lengthAdjust="spacingAndGlyphs">Pro-ery</text>
<text x="474.30" y="317.30" font-size="8.4" text-anchor="middle" textLength="11.34" lengthAdjust="spacingAndGlyphs">Ery</text>
<defs><linearGradient id="gD" x1="0" y1="0" x2="0" y2="1"><stop offset="0" stop-color="#0d4a87"/><stop offset="0.33" stop-color="#4677a8"/><stop offset="0.66" stop-color="#97b2cd"/><stop offset="1" stop-color="#e2eaf2"/></linearGradient><linearGradient id="gE" x1="0" y1="0" x2="0" y2="1"><stop offset="0" stop-color="#a00000"/><stop offset="0.25" stop-color="#c03a3a"/><stop offset="0.5" stop-color="#d77373"/><stop offset="0.75" stop-color="#ebadad"/><stop offset="1" stop-color="#fde6e6"/></linearGradient></defs>
<rect x="491.6" y="203.6" width="7.2" height="104.0" fill="url(#gD)" stroke="#111" stroke-width="0.8"/>
<line x1="498.80" y1="204.00" x2="500.80" y2="204.00" stroke="#231f20" stroke-width="1.0"/>
<text x="502.00" y="206.80" font-size="7.6" textLength="11.66" lengthAdjust="spacingAndGlyphs">100</text>
<line x1="498.80" y1="238.60" x2="500.80" y2="238.60" stroke="#231f20" stroke-width="1.0"/>
<text x="502.00" y="241.40" font-size="7.6" textLength="7.78" lengthAdjust="spacingAndGlyphs">90</text>
<line x1="498.80" y1="273.20" x2="500.80" y2="273.20" stroke="#231f20" stroke-width="1.0"/>
<text x="502.00" y="276.00" font-size="7.6" textLength="7.78" lengthAdjust="spacingAndGlyphs">80</text>
<line x1="498.80" y1="307.60" x2="500.80" y2="307.60" stroke="#231f20" stroke-width="1.0"/>
<text x="502.00" y="310.40" font-size="7.6" textLength="7.78" lengthAdjust="spacingAndGlyphs">70</text>
<text x="7.60" y="338.70" font-size="11.6" font-weight="bold" style="fill:#000;stroke:#000">E</text>
<rect x="49.80" y="348.60" width="23.40" height="6.26" fill="#d8747a"/>
<rect x="73.20" y="348.60" width="23.40" height="6.26" fill="#d8747a"/>
<rect x="96.60" y="348.60" width="23.80" height="6.26" fill="#cd5d64"/>
<text x="47.40" y="353.92" font-size="6.3" text-anchor="end" textLength="28.57" lengthAdjust="spacingAndGlyphs">MTERFD3</text>
<rect x="49.80" y="354.84" width="23.40" height="6.26" fill="#d8747a"/>
<rect x="73.20" y="354.84" width="23.40" height="6.26" fill="#e89ea2"/>
<rect x="96.60" y="354.84" width="23.80" height="6.26" fill="#d8747a"/>
<text x="47.40" y="360.17" font-size="6.3" text-anchor="end" textLength="23.87" lengthAdjust="spacingAndGlyphs">MAP3K7</text>
<rect x="49.80" y="361.09" width="23.40" height="6.26" fill="#d8747a"/>
<rect x="73.20" y="361.09" width="23.40" height="6.26" fill="#e18a8f"/>
<rect x="96.60" y="361.09" width="23.80" height="6.26" fill="#d8747a"/>
<text x="47.40" y="366.41" font-size="6.3" text-anchor="end" textLength="23.87" lengthAdjust="spacingAndGlyphs">MAP3K7</text>
<rect x="49.80" y="367.33" width="23.40" height="6.26" fill="#e18a8f"/>
<rect x="73.20" y="367.33" width="23.40" height="6.26" fill="#e18a8f"/>
<rect x="96.60" y="367.33" width="23.80" height="6.26" fill="#e89ea2"/>
<text x="47.40" y="372.66" font-size="6.3" text-anchor="end" textLength="28.91" lengthAdjust="spacingAndGlyphs">TMEM14C</text>
<rect x="49.80" y="373.58" width="23.40" height="6.26" fill="#e18a8f"/>
<rect x="73.20" y="373.58" width="23.40" height="6.26" fill="#e18a8f"/>
<rect x="96.60" y="373.58" width="23.80" height="6.26" fill="#e89ea2"/>
<text x="47.40" y="378.90" font-size="6.3" text-anchor="end" textLength="28.91" lengthAdjust="spacingAndGlyphs">TMEM14C</text>
<rect x="49.80" y="379.82" width="23.40" height="6.26" fill="#cd5d64"/>
<rect x="73.20" y="379.82" width="23.40" height="6.26" fill="#e89ea2"/>
<rect x="96.60" y="379.82" width="23.80" height="6.26" fill="#e89ea2"/>
<text x="47.40" y="385.14" font-size="6.3" text-anchor="end" textLength="20.51" lengthAdjust="spacingAndGlyphs">ENOX2</text>
<rect x="49.80" y="386.07" width="23.40" height="6.26" fill="#e18a8f"/>
<rect x="73.20" y="386.07" width="23.40" height="6.26" fill="#e89ea2"/>
<rect x="96.60" y="386.07" width="23.80" height="6.26" fill="#e18a8f"/>
<text x="47.40" y="391.39" font-size="6.3" text-anchor="end" textLength="21.51" lengthAdjust="spacingAndGlyphs">CRNDE</text>
<rect x="49.80" y="392.31" width="23.40" height="6.26" fill="#e89ea2"/>
<rect x="73.20" y="392.31" width="23.40" height="6.26" fill="#e89ea2"/>
<rect x="96.60" y="392.31" width="23.80" height="6.26" fill="#e89ea2"/>
<text x="47.40" y="397.63" font-size="6.3" text-anchor="end" textLength="22.87" lengthAdjust="spacingAndGlyphs">DYNLL1</text>
<rect x="49.80" y="398.56" width="23.40" height="6.26" fill="#e89ea2"/>
<rect x="73.20" y="398.56" width="23.40" height="6.26" fill="#e89ea2"/>
<rect x="96.60" y="398.56" width="23.80" height="6.26" fill="#e89ea2"/>
<text x="47.40" y="403.88" font-size="6.3" text-anchor="end" textLength="15.80" lengthAdjust="spacingAndGlyphs">UXS1</text>
<rect x="49.80" y="404.80" width="23.40" height="6.26" fill="#e89ea2"/>
<rect x="73.20" y="404.80" width="23.40" height="6.26" fill="#e89ea2"/>
<rect x="96.60" y="404.80" width="23.80" height="6.26" fill="#e89ea2"/>
<text x="47.40" y="410.12" font-size="6.3" text-anchor="end" textLength="18.16" lengthAdjust="spacingAndGlyphs">ORAI2</text>
<rect x="49.80" y="411.04" width="23.40" height="6.26" fill="#eeafb2"/>
<rect x="73.20" y="411.04" width="23.40" height="6.26" fill="#e89ea2"/>
<rect x="96.60" y="411.04" width="23.80" height="6.26" fill="#e18a8f"/>
<text x="47.40" y="416.37" font-size="6.3" text-anchor="end" textLength="27.24" lengthAdjust="spacingAndGlyphs">KIAA1033</text>
<rect x="49.80" y="417.29" width="23.40" height="6.26" fill="#eeafb2"/>
<rect x="73.20" y="417.29" width="23.40" height="6.26" fill="#eeafb2"/>
<rect x="96.60" y="417.29" width="23.80" height="6.26" fill="#eeafb2"/>
<text x="47.40" y="422.61" font-size="6.3" text-anchor="end" textLength="20.17" lengthAdjust="spacingAndGlyphs">RBM18</text>
<rect x="49.80" y="423.53" width="23.40" height="6.26" fill="#eeafb2"/>
<rect x="73.20" y="423.53" width="23.40" height="6.26" fill="#eeafb2"/>
<rect x="96.60" y="423.53" width="23.80" height="6.26" fill="#eeafb2"/>
<text x="47.40" y="428.86" font-size="6.3" text-anchor="end" textLength="18.16" lengthAdjust="spacingAndGlyphs">ORAI2</text>
<rect x="49.80" y="429.78" width="23.40" height="6.26" fill="#eeafb2"/>
<rect x="73.20" y="429.78" width="23.40" height="6.26" fill="#eeafb2"/>
<rect x="96.60" y="429.78" width="23.80" height="6.26" fill="#eeafb2"/>
<text x="47.40" y="435.10" font-size="6.3" text-anchor="end" textLength="27.46" lengthAdjust="spacingAndGlyphs">GUSBP11</text>
<rect x="49.80" y="436.02" width="23.40" height="6.26" fill="#eeafb2"/>
<rect x="73.20" y="436.02" width="23.40" height="6.26" fill="#eeafb2"/>
<rect x="96.60" y="436.02" width="23.80" height="6.26" fill="#fadadb"/>
<text x="47.40" y="441.34" font-size="6.3" text-anchor="end" textLength="19.50" lengthAdjust="spacingAndGlyphs">ZBED5</text>
<rect x="49.80" y="442.27" width="23.40" height="6.26" fill="#eeafb2"/>
<rect x="73.20" y="442.27" width="23.40" height="6.26" fill="#eeafb2"/>
<rect x="96.60" y="442.27" width="23.80" height="6.26" fill="#f3bfc1"/>
<text x="47.40" y="447.59" font-size="6.3" text-anchor="end" textLength="20.17" lengthAdjust="spacingAndGlyphs">RBM18</text>
<rect x="49.80" y="448.51" width="23.40" height="6.26" fill="#e89ea2"/>
<rect x="73.20" y="448.51" width="23.40" height="6.26" fill="#eeafb2"/>
<rect x="96.60" y="448.51" width="23.80" height="6.26" fill="#f7cdce"/>
<text x="47.40" y="453.83" font-size="6.3" text-anchor="end" textLength="21.85" lengthAdjust="spacingAndGlyphs">ZNF557</text>
<rect x="49.80" y="454.76" width="23.40" height="6.26" fill="#fadadb"/>
<rect x="73.20" y="454.76" width="23.40" height="6.26" fill="#eeafb2"/>
<rect x="96.60" y="454.76" width="23.80" height="6.26" fill="#e89ea2"/>
<text x="47.40" y="460.08" font-size="6.3" text-anchor="end" textLength="28.57" lengthAdjust="spacingAndGlyphs">MTERFD3</text>
<rect x="49.80" y="461.00" width="23.40" height="6.26" fill="#f3bfc1"/>
<rect x="73.20" y="461.00" width="23.40" height="6.26" fill="#f3bfc1"/>
<rect x="96.60" y="461.00" width="23.80" height="6.26" fill="#eeafb2"/>
<text x="47.40" y="466.32" font-size="6.3" text-anchor="end" textLength="27.90" lengthAdjust="spacingAndGlyphs">TMEM218</text>
<rect x="49.80" y="467.24" width="23.40" height="6.26" fill="#f3bfc1"/>
<rect x="73.20" y="467.24" width="23.40" height="6.26" fill="#fadadb"/>
<rect x="96.60" y="467.24" width="23.80" height="6.26" fill="#eeafb2"/>
<text x="47.40" y="472.57" font-size="6.3" text-anchor="end" textLength="19.50" lengthAdjust="spacingAndGlyphs">TCEA2</text>
<rect x="49.80" y="473.49" width="23.40" height="6.26" fill="#f3bfc1"/>
<rect x="73.20" y="473.49" width="23.40" height="6.26" fill="#fadadb"/>
<rect x="96.60" y="473.49" width="23.80" height="6.26" fill="#eeafb2"/>
<text x="47.40" y="478.81" font-size="6.3" text-anchor="end" textLength="19.50" lengthAdjust="spacingAndGlyphs">TCEA2</text>
<rect x="49.80" y="479.73" width="23.40" height="6.26" fill="#f3bfc1"/>
<rect x="73.20" y="479.73" width="23.40" height="6.26" fill="#eeafb2"/>
<rect x="96.60" y="479.73" width="23.80" height="6.26" fill="#f3bfc1"/>
<text x="47.40" y="485.06" font-size="6.3" text-anchor="end" textLength="15.46" lengthAdjust="spacingAndGlyphs">DLST</text>
<rect x="49.80" y="485.98" width="23.40" height="6.26" fill="#f3bfc1"/>
<rect x="73.20" y="485.98" width="23.40" height="6.26" fill="#eeafb2"/>
<rect x="96.60" y="485.98" width="23.80" height="6.26" fill="#f7cdce"/>
<text x="47.40" y="491.30" font-size="6.3" text-anchor="end" textLength="14.68" lengthAdjust="spacingAndGlyphs">HLTF</text>
<rect x="49.80" y="492.22" width="23.40" height="6.26" fill="#f3bfc1"/>
<rect x="73.20" y="492.22" width="23.40" height="6.26" fill="#eeafb2"/>
<rect x="96.60" y="492.22" width="23.80" height="6.26" fill="#f7cdce"/>
<text x="47.40" y="497.54" font-size="6.3" text-anchor="end" textLength="14.68" lengthAdjust="spacingAndGlyphs">HLTF</text>
<rect x="49.80" y="498.47" width="23.40" height="6.26" fill="#f7cdce"/>
<rect x="73.20" y="498.47" width="23.40" height="6.26" fill="#e89ea2"/>
<rect x="96.60" y="498.47" width="23.80" height="6.26" fill="#f3bfc1"/>
<text x="47.40" y="503.79" font-size="6.3" text-anchor="end" textLength="27.90" lengthAdjust="spacingAndGlyphs">ZDHHC16</text>
<rect x="49.80" y="504.71" width="23.40" height="6.26" fill="#d8747a"/>
<rect x="73.20" y="504.71" width="23.40" height="6.26" fill="#f3bfc1"/>
<rect x="96.60" y="504.71" width="23.80" height="6.26" fill="#fadadb"/>
<text x="47.40" y="510.03" font-size="6.3" text-anchor="end" textLength="16.14" lengthAdjust="spacingAndGlyphs">DPH5</text>
<rect x="49.80" y="510.96" width="23.40" height="6.26" fill="#f3bfc1"/>
<rect x="73.20" y="510.96" width="23.40" height="6.26" fill="#fadadb"/>
<rect x="96.60" y="510.96" width="23.80" height="6.26" fill="#eeafb2"/>
<text x="47.40" y="516.28" font-size="6.3" text-anchor="end" textLength="21.85" lengthAdjust="spacingAndGlyphs">ZNF561</text>
<rect x="49.80" y="517.20" width="23.40" height="6.26" fill="#f3bfc1"/>
<rect x="73.20" y="517.20" width="23.40" height="6.26" fill="#f3bfc1"/>
<rect x="96.60" y="517.20" width="23.80" height="6.26" fill="#f7cdce"/>
<text x="47.40" y="522.52" font-size="6.3" text-anchor="end" textLength="17.14" lengthAdjust="spacingAndGlyphs">RFNG</text>
<rect x="49.80" y="523.44" width="23.40" height="6.26" fill="#f3bfc1"/>
<rect x="73.20" y="523.44" width="23.40" height="6.26" fill="#f3bfc1"/>
<rect x="96.60" y="523.44" width="23.80" height="6.26" fill="#f3bfc1"/>
<text x="47.40" y="528.77" font-size="6.3" text-anchor="end" textLength="17.49" lengthAdjust="spacingAndGlyphs">PILRB</text>
<rect x="49.80" y="529.69" width="23.40" height="6.26" fill="#fde7e7"/>
<rect x="73.20" y="529.69" width="23.40" height="6.26" fill="#f3bfc1"/>
<rect x="96.60" y="529.69" width="23.80" height="6.26" fill="#eeafb2"/>
<text x="47.40" y="535.01" font-size="6.3" text-anchor="end" textLength="28.57" lengthAdjust="spacingAndGlyphs">MTERFD3</text>
<rect x="49.80" y="535.93" width="23.40" height="6.26" fill="#f3bfc1"/>
<rect x="73.20" y="535.93" width="23.40" height="6.26" fill="#f3bfc1"/>
<rect x="96.60" y="535.93" width="23.80" height="6.26" fill="#e89ea2"/>
<text x="47.40" y="541.26" font-size="6.3" text-anchor="end" textLength="16.14" lengthAdjust="spacingAndGlyphs">BRD9</text>
<rect x="49.80" y="542.18" width="23.40" height="6.26" fill="#f3bfc1"/>
<rect x="73.20" y="542.18" width="23.40" height="6.26" fill="#f3bfc1"/>
<rect x="96.60" y="542.18" width="23.80" height="6.26" fill="#f7cdce"/>
<text x="47.40" y="547.50" font-size="6.3" text-anchor="end" textLength="24.54" lengthAdjust="spacingAndGlyphs">ANKHD1</text>
<rect x="49.80" y="548.42" width="23.40" height="6.26" fill="#f3bfc1"/>
<rect x="73.20" y="548.42" width="23.40" height="6.26" fill="#f7cdce"/>
<rect x="96.60" y="548.42" width="23.80" height="6.26" fill="#f7cdce"/>
<text x="47.40" y="553.74" font-size="6.3" text-anchor="end" textLength="20.50" lengthAdjust="spacingAndGlyphs">EHMT1</text>
<rect x="49.80" y="554.67" width="23.40" height="6.26" fill="#f3bfc1"/>
<rect x="73.20" y="554.67" width="23.40" height="6.26" fill="#f3bfc1"/>
<rect x="96.60" y="554.67" width="23.80" height="6.26" fill="#f7cdce"/>
<text x="47.40" y="559.99" font-size="6.3" text-anchor="end" textLength="20.17" lengthAdjust="spacingAndGlyphs">CXXC1</text>
<rect x="49.80" y="560.91" width="23.40" height="6.26" fill="#f3bfc1"/>
<rect x="73.20" y="560.91" width="23.40" height="6.26" fill="#f3bfc1"/>
<rect x="96.60" y="560.91" width="23.80" height="6.26" fill="#fadadb"/>
<text x="47.40" y="566.23" font-size="6.3" text-anchor="end" textLength="20.52" lengthAdjust="spacingAndGlyphs">SKIV2L</text>
<rect x="49.80" y="567.16" width="23.40" height="6.26" fill="#f3bfc1"/>
<rect x="73.20" y="567.16" width="23.40" height="6.26" fill="#f3bfc1"/>
<rect x="96.60" y="567.16" width="23.80" height="6.26" fill="#f7cdce"/>
<text x="47.40" y="572.48" font-size="6.3" text-anchor="end" textLength="16.14" lengthAdjust="spacingAndGlyphs">FDPS</text>
<rect x="49.80" y="573.40" width="23.40" height="6.26" fill="#f3bfc1"/>
<rect x="73.20" y="573.40" width="23.40" height="6.26" fill="#f3bfc1"/>
<rect x="96.60" y="573.40" width="23.80" height="6.26" fill="#f7cdce"/>
<text x="47.40" y="578.72" font-size="6.3" text-anchor="end" textLength="23.88" lengthAdjust="spacingAndGlyphs">SERBP1</text>
<rect x="49.80" y="579.64" width="23.40" height="6.26" fill="#eeafb2"/>
<rect x="73.20" y="579.64" width="23.40" height="6.26" fill="#f3bfc1"/>
<rect x="96.60" y="579.64" width="23.80" height="6.26" fill="#f7cdce"/>
<text x="47.40" y="584.97" font-size="6.3" text-anchor="end" textLength="19.51" lengthAdjust="spacingAndGlyphs">APBB3</text>
<rect x="49.80" y="585.89" width="23.40" height="6.26" fill="#f7cdce"/>
<rect x="73.20" y="585.89" width="23.40" height="6.26" fill="#f3bfc1"/>
<rect x="96.60" y="585.89" width="23.80" height="6.26" fill="#f7cdce"/>
<text x="47.40" y="591.21" font-size="6.3" text-anchor="end" textLength="20.17" lengthAdjust="spacingAndGlyphs">CASD1</text>
<rect x="49.80" y="592.13" width="23.40" height="6.26" fill="#f7cdce"/>
<rect x="73.20" y="592.13" width="23.40" height="6.26" fill="#eeafb2"/>
<rect x="96.60" y="592.13" width="23.80" height="6.26" fill="#f7cdce"/>
<text x="47.40" y="597.46" font-size="6.3" text-anchor="end" textLength="15.47" lengthAdjust="spacingAndGlyphs">CD97</text>
<rect x="49.80" y="598.38" width="23.40" height="6.26" fill="#f7cdce"/>
<rect x="73.20" y="598.38" width="23.40" height="6.26" fill="#eeafb2"/>
<rect x="96.60" y="598.38" width="23.80" height="6.26" fill="#fadadb"/>
<text x="47.40" y="603.70" font-size="6.3" text-anchor="end" textLength="17.14" lengthAdjust="spacingAndGlyphs">RFNG</text>
<rect x="49.80" y="604.62" width="23.40" height="6.26" fill="#f7cdce"/>
<rect x="73.20" y="604.62" width="23.40" height="6.26" fill="#f3bfc1"/>
<rect x="96.60" y="604.62" width="23.80" height="6.26" fill="#f7cdce"/>
<text x="47.40" y="609.94" font-size="6.3" text-anchor="end" textLength="27.91" lengthAdjust="spacingAndGlyphs">HERC2P2</text>
<rect x="49.80" y="610.87" width="23.40" height="6.26" fill="#f7cdce"/>
<rect x="73.20" y="610.87" width="23.40" height="6.26" fill="#f3bfc1"/>
<rect x="96.60" y="610.87" width="23.80" height="6.26" fill="#f7cdce"/>
<text x="47.40" y="616.19" font-size="6.3" text-anchor="end" textLength="20.17" lengthAdjust="spacingAndGlyphs">CXXC1</text>
<rect x="49.80" y="617.11" width="23.40" height="6.26" fill="#f7cdce"/>
<rect x="73.20" y="617.11" width="23.40" height="6.26" fill="#f3bfc1"/>
<rect x="96.60" y="617.11" width="23.80" height="6.26" fill="#f7cdce"/>
<text x="47.40" y="622.43" font-size="6.3" text-anchor="end" textLength="23.88" lengthAdjust="spacingAndGlyphs">HSPBP1</text>
<rect x="49.80" y="623.36" width="23.40" height="6.26" fill="#f7cdce"/>
<rect x="73.20" y="623.36" width="23.40" height="6.26" fill="#fadadb"/>
<rect x="96.60" y="623.36" width="23.80" height="6.26" fill="#f3bfc1"/>
<text x="47.40" y="628.68" font-size="6.3" text-anchor="end" textLength="22.18" lengthAdjust="spacingAndGlyphs">TCIRG1</text>
<rect x="49.80" y="629.60" width="23.40" height="6.26" fill="#e89ea2"/>
<rect x="73.20" y="629.60" width="23.40" height="6.26" fill="#f7cdce"/>
<rect x="96.60" y="629.60" width="23.80" height="6.26" fill="#f7cdce"/>
<text x="47.40" y="634.92" font-size="6.3" text-anchor="end" textLength="25.56" lengthAdjust="spacingAndGlyphs">PHF20L1</text>
<rect x="49.80" y="635.84" width="23.40" height="6.26" fill="#f7cdce"/>
<rect x="73.20" y="635.84" width="23.40" height="6.26" fill="#f7cdce"/>
<rect x="96.60" y="635.84" width="23.80" height="6.26" fill="#f7cdce"/>
<text x="47.40" y="641.17" font-size="6.3" text-anchor="end" textLength="20.17" lengthAdjust="spacingAndGlyphs">CXXC1</text>
<rect x="49.80" y="642.09" width="23.40" height="6.26" fill="#f7cdce"/>
<rect x="73.20" y="642.09" width="23.40" height="6.26" fill="#fadadb"/>
<rect x="96.60" y="642.09" width="23.80" height="6.26" fill="#e89ea2"/>
<text x="47.40" y="647.41" font-size="6.3" text-anchor="end" textLength="27.90" lengthAdjust="spacingAndGlyphs">ZDHHC21</text>
<rect x="49.80" y="648.33" width="23.40" height="6.26" fill="#f3bfc1"/>
<rect x="73.20" y="648.33" width="23.40" height="6.26" fill="#f7cdce"/>
<rect x="96.60" y="648.33" width="23.80" height="6.26" fill="#fadadb"/>
<text x="47.40" y="653.66" font-size="6.3" text-anchor="end" textLength="40.70" lengthAdjust="spacingAndGlyphs">RP5-1021I20.4</text>
<rect x="49.80" y="654.58" width="23.40" height="6.26" fill="#f7cdce"/>
<rect x="73.20" y="654.58" width="23.40" height="6.26" fill="#fadadb"/>
<rect x="96.60" y="654.58" width="23.80" height="6.26" fill="#f7cdce"/>
<text x="47.40" y="659.90" font-size="6.3" text-anchor="end" textLength="15.13" lengthAdjust="spacingAndGlyphs">DVL2</text>
<rect x="49.80" y="660.82" width="23.40" height="6.26" fill="#fadadb"/>
<rect x="73.20" y="660.82" width="23.40" height="6.26" fill="#fadadb"/>
<rect x="96.60" y="660.82" width="23.80" height="6.26" fill="#fadadb"/>
<text x="47.40" y="666.14" font-size="6.3" text-anchor="end" textLength="17.15" lengthAdjust="spacingAndGlyphs">WSB1</text>
<rect x="49.80" y="667.07" width="23.40" height="6.26" fill="#fadadb"/>
<rect x="73.20" y="667.07" width="23.40" height="6.26" fill="#fadadb"/>
<rect x="96.60" y="667.07" width="23.80" height="6.26" fill="#fadadb"/>
<text x="47.40" y="672.39" font-size="6.3" text-anchor="end" textLength="21.18" lengthAdjust="spacingAndGlyphs">SNRPN</text>
<rect x="49.80" y="673.31" width="23.40" height="6.26" fill="#fadadb"/>
<rect x="73.20" y="673.31" width="23.40" height="6.26" fill="#fadadb"/>
<rect x="96.60" y="673.31" width="23.80" height="6.26" fill="#f3bfc1"/>
<text x="47.40" y="678.63" font-size="6.3" text-anchor="end" textLength="16.14" lengthAdjust="spacingAndGlyphs">BRD9</text>
<rect x="49.80" y="679.56" width="23.40" height="6.26" fill="#fadadb"/>
<rect x="73.20" y="679.56" width="23.40" height="6.26" fill="#fadadb"/>
<rect x="96.60" y="679.56" width="23.80" height="6.26" fill="#fadadb"/>
<text x="47.40" y="684.88" font-size="6.3" text-anchor="end" textLength="21.18" lengthAdjust="spacingAndGlyphs">SNRPN</text>
<line x1="49.80" y1="354.84" x2="120.40" y2="354.84" stroke="#c98d90" stroke-width="0.4"/>
<line x1="49.80" y1="361.09" x2="120.40" y2="361.09" stroke="#c98d90" stroke-width="0.4"/>
<line x1="49.80" y1="367.33" x2="120.40" y2="367.33" stroke="#c98d90" stroke-width="0.4"/>
<line x1="49.80" y1="373.58" x2="120.40" y2="373.58" stroke="#c98d90" stroke-width="0.4"/>
<line x1="49.80" y1="379.82" x2="120.40" y2="379.82" stroke="#c98d90" stroke-width="0.4"/>
<line x1="49.80" y1="386.07" x2="120.40" y2="386.07" stroke="#c98d90" stroke-width="0.4"/>
<line x1="49.80" y1="392.31" x2="120.40" y2="392.31" stroke="#c98d90" stroke-width="0.4"/>
<line x1="49.80" y1="398.56" x2="120.40" y2="398.56" stroke="#c98d90" stroke-width="0.4"/>
<line x1="49.80" y1="404.80" x2="120.40" y2="404.80" stroke="#c98d90" stroke-width="0.4"/>
<line x1="49.80" y1="411.04" x2="120.40" y2="411.04" stroke="#c98d90" stroke-width="0.4"/>
<line x1="49.80" y1="417.29" x2="120.40" y2="417.29" stroke="#c98d90" stroke-width="0.4"/>
<line x1="49.80" y1="423.53" x2="120.40" y2="423.53" stroke="#c98d90" stroke-width="0.4"/>
<line x1="49.80" y1="429.78" x2="120.40" y2="429.78" stroke="#c98d90" stroke-width="0.4"/>
<line x1="49.80" y1="436.02" x2="120.40" y2="436.02" stroke="#c98d90" stroke-width="0.4"/>
<line x1="49.80" y1="442.27" x2="120.40" y2="442.27" stroke="#c98d90" stroke-width="0.4"/>
<line x1="49.80" y1="448.51" x2="120.40" y2="448.51" stroke="#c98d90" stroke-width="0.4"/>
<line x1="49.80" y1="454.76" x2="120.40" y2="454.76" stroke="#c98d90" stroke-width="0.4"/>
<line x1="49.80" y1="461.00" x2="120.40" y2="461.00" stroke="#c98d90" stroke-width="0.4"/>
<line x1="49.80" y1="467.24" x2="120.40" y2="467.24" stroke="#c98d90" stroke-width="0.4"/>
<line x1="49.80" y1="473.49" x2="120.40" y2="473.49" stroke="#c98d90" stroke-width="0.4"/>
<line x1="49.80" y1="479.73" x2="120.40" y2="479.73" stroke="#c98d90" stroke-width="0.4"/>
<line x1="49.80" y1="485.98" x2="120.40" y2="485.98" stroke="#c98d90" stroke-width="0.4"/>
<line x1="49.80" y1="492.22" x2="120.40" y2="492.22" stroke="#c98d90" stroke-width="0.4"/>
<line x1="49.80" y1="498.47" x2="120.40" y2="498.47" stroke="#c98d90" stroke-width="0.4"/>
<line x1="49.80" y1="504.71" x2="120.40" y2="504.71" stroke="#c98d90" stroke-width="0.4"/>
<line x1="49.80" y1="510.96" x2="120.40" y2="510.96" stroke="#c98d90" stroke-width="0.4"/>
<line x1="49.80" y1="517.20" x2="120.40" y2="517.20" stroke="#c98d90" stroke-width="0.4"/>
<line x1="49.80" y1="523.44" x2="120.40" y2="523.44" stroke="#c98d90" stroke-width="0.4"/>
<line x1="49.80" y1="529.69" x2="120.40" y2="529.69" stroke="#c98d90" stroke-width="0.4"/>
<line x1="49.80" y1="535.93" x2="120.40" y2="535.93" stroke="#c98d90" stroke-width="0.4"/>
<line x1="49.80" y1="542.18" x2="120.40" y2="542.18" stroke="#c98d90" stroke-width="0.4"/>
<line x1="49.80" y1="548.42" x2="120.40" y2="548.42" stroke="#c98d90" stroke-width="0.4"/>
<line x1="49.80" y1="554.67" x2="120.40" y2="554.67" stroke="#c98d90" stroke-width="0.4"/>
<line x1="49.80" y1="560.91" x2="120.40" y2="560.91" stroke="#c98d90" stroke-width="0.4"/>
<line x1="49.80" y1="567.16" x2="120.40" y2="567.16" stroke="#c98d90" stroke-width="0.4"/>
<line x1="49.80" y1="573.40" x2="120.40" y2="573.40" stroke="#c98d90" stroke-width="0.4"/>
<line x1="49.80" y1="579.64" x2="120.40" y2="579.64" stroke="#c98d90" stroke-width="0.4"/>
<line x1="49.80" y1="585.89" x2="120.40" y2="585.89" stroke="#c98d90" stroke-width="0.4"/>
<line x1="49.80" y1="592.13" x2="120.40" y2="592.13" stroke="#c98d90" stroke-width="0.4"/>
<line x1="49.80" y1="598.38" x2="120.40" y2="598.38" stroke="#c98d90" stroke-width="0.4"/>
<line x1="49.80" y1="604.62" x2="120.40" y2="604.62" stroke="#c98d90" stroke-width="0.4"/>
<line x1="49.80" y1="610.87" x2="120.40" y2="610.87" stroke="#c98d90" stroke-width="0.4"/>
<line x1="49.80" y1="617.11" x2="120.40" y2="617.11" stroke="#c98d90" stroke-width="0.4"/>
<line x1="49.80" y1="623.36" x2="120.40" y2="623.36" stroke="#c98d90" stroke-width="0.4"/>
<line x1="49.80" y1="629.60" x2="120.40" y2="629.60" stroke="#c98d90" stroke-width="0.4"/>
<line x1="49.80" y1="635.84" x2="120.40" y2="635.84" stroke="#c98d90" stroke-width="0.4"/>
<line x1="49.80" y1="642.09" x2="120.40" y2="642.09" stroke="#c98d90" stroke-width="0.4"/>
<line x1="49.80" y1="648.33" x2="120.40" y2="648.33" stroke="#c98d90" stroke-width="0.4"/>
<line x1="49.80" y1="654.58" x2="120.40" y2="654.58" stroke="#c98d90" stroke-width="0.4"/>
<line x1="49.80" y1="660.82" x2="120.40" y2="660.82" stroke="#c98d90" stroke-width="0.4"/>
<line x1="49.80" y1="667.07" x2="120.40" y2="667.07" stroke="#c98d90" stroke-width="0.4"/>
<line x1="49.80" y1="673.31" x2="120.40" y2="673.31" stroke="#c98d90" stroke-width="0.4"/>
<line x1="49.80" y1="679.56" x2="120.40" y2="679.56" stroke="#c98d90" stroke-width="0.4"/>
<line x1="73.20" y1="348.60" x2="73.20" y2="685.80" stroke="#c98d90" stroke-width="0.4"/>
<line x1="96.60" y1="348.60" x2="96.60" y2="685.80" stroke="#c98d90" stroke-width="0.4"/>
<text x="53.50" y="344.30" font-size="7.6" textLength="16.40" lengthAdjust="spacingAndGlyphs">Prog</text>
<text x="73.50" y="344.30" font-size="7.6" textLength="25.70" lengthAdjust="spacingAndGlyphs">Pro-ery</text>
<text x="103.50" y="344.30" font-size="7.6" textLength="11.00" lengthAdjust="spacingAndGlyphs">Ery</text>
<rect x="126.2" y="348.4" width="8.8" height="337.2" fill="url(#gE)" stroke="#7a2020" stroke-width="0.6"/>
<line x1="135.00" y1="350.20" x2="136.60" y2="350.20" stroke="#231f20" stroke-width="0.6"/>
<text x="137.60" y="353.00" font-size="7.8" textLength="12.36" lengthAdjust="spacingAndGlyphs">100</text>
<line x1="135.00" y1="434.00" x2="136.60" y2="434.00" stroke="#231f20" stroke-width="0.6"/>
<text x="137.60" y="436.80" font-size="7.8" textLength="8.24" lengthAdjust="spacingAndGlyphs">80</text>
<line x1="135.00" y1="518.00" x2="136.60" y2="518.00" stroke="#231f20" stroke-width="0.6"/>
<text x="137.60" y="520.80" font-size="7.8" textLength="8.24" lengthAdjust="spacingAndGlyphs">60</text>
<line x1="135.00" y1="601.80" x2="136.60" y2="601.80" stroke="#231f20" stroke-width="0.6"/>
<text x="137.60" y="604.60" font-size="7.8" textLength="8.24" lengthAdjust="spacingAndGlyphs">40</text>
<line x1="135.00" y1="685.60" x2="136.60" y2="685.60" stroke="#231f20" stroke-width="0.6"/>
<text x="137.60" y="688.40" font-size="7.8" textLength="8.24" lengthAdjust="spacingAndGlyphs">20</text>
<text x="155.20" y="338.60" font-size="11.6" font-weight="bold" style="fill:#000;stroke:#000">F</text>
<text x="260.75" y="352.10" font-size="9.3" text-anchor="middle" textLength="44.19" lengthAdjust="spacingAndGlyphs">Progenitor</text>
<line x1="187.80" y1="352.10" x2="187.80" y2="459.90" stroke="#231f20" stroke-width="1.0"/>
<line x1="185.00" y1="459.40" x2="333.50" y2="459.40" stroke="#231f20" stroke-width="1.0"/>
<line x1="184.20" y1="459.40" x2="187.80" y2="459.40" stroke="#231f20" stroke-width="1.0"/>
<text x="181.20" y="462.10" font-size="7.6" text-anchor="end" textLength="3.97" lengthAdjust="spacingAndGlyphs">0</text>
<line x1="184.20" y1="438.86" x2="187.80" y2="438.86" stroke="#231f20" stroke-width="1.0"/>
<text x="181.20" y="441.56" font-size="7.6" text-anchor="end" textLength="7.95" lengthAdjust="spacingAndGlyphs">20</text>
<line x1="184.20" y1="418.32" x2="187.80" y2="418.32" stroke="#231f20" stroke-width="1.0"/>
<text x="181.20" y="421.02" font-size="7.6" text-anchor="end" textLength="7.95" lengthAdjust="spacingAndGlyphs">40</text>
<line x1="184.20" y1="397.78" x2="187.80" y2="397.78" stroke="#231f20" stroke-width="1.0"/>
<text x="181.20" y="400.48" font-size="7.6" text-anchor="end" textLength="7.95" lengthAdjust="spacingAndGlyphs">60</text>
<line x1="184.20" y1="377.24" x2="187.80" y2="377.24" stroke="#231f20" stroke-width="1.0"/>
<text x="181.20" y="379.94" font-size="7.6" text-anchor="end" textLength="7.95" lengthAdjust="spacingAndGlyphs">80</text>
<line x1="184.20" y1="356.70" x2="187.80" y2="356.70" stroke="#231f20" stroke-width="1.0"/>
<text x="181.20" y="359.40" font-size="7.6" text-anchor="end" textLength="11.92" lengthAdjust="spacingAndGlyphs">100</text>
<rect x="190.20" y="367.38" width="4.40" height="92.02" fill="#c8102e"/>
<line x1="192.40" y1="459.40" x2="192.40" y2="462.00" stroke="#231f20" stroke-width="0.8"/>
<text transform="translate(194.17,465.80) rotate(-90)" font-size="6.3" text-anchor="end" textLength="13.67" lengthAdjust="spacingAndGlyphs">EIFC</text>
<rect x="197.27" y="392.34" width="4.40" height="67.06" fill="#c8102e"/>
<line x1="199.47" y1="459.40" x2="199.47" y2="462.00" stroke="#231f20" stroke-width="0.8"/>
<text transform="translate(201.24,465.80) rotate(-90)" font-size="6.3" text-anchor="end" textLength="20.34" lengthAdjust="spacingAndGlyphs">ENOX2</text>
<rect x="204.34" y="393.36" width="4.40" height="66.04" fill="#c8102e"/>
<line x1="206.54" y1="459.40" x2="206.54" y2="462.00" stroke="#231f20" stroke-width="0.8"/>
<text transform="translate(208.31,465.80) rotate(-90)" font-size="6.3" text-anchor="end" textLength="28.33" lengthAdjust="spacingAndGlyphs">MTERFD3</text>
<rect x="211.41" y="395.42" width="4.40" height="63.98" fill="#c8102e"/>
<line x1="213.61" y1="459.40" x2="213.61" y2="462.00" stroke="#231f20" stroke-width="0.8"/>
<text transform="translate(215.38,465.80) rotate(-90)" font-size="6.3" text-anchor="end" textLength="23.68" lengthAdjust="spacingAndGlyphs">MAP3K7</text>
<rect x="218.48" y="399.63" width="4.40" height="59.77" fill="#c8102e"/>
<line x1="220.68" y1="459.40" x2="220.68" y2="462.00" stroke="#231f20" stroke-width="0.8"/>
<text transform="translate(222.45,465.80) rotate(-90)" font-size="6.3" text-anchor="end" textLength="23.34" lengthAdjust="spacingAndGlyphs">SH2D2A</text>
<rect x="225.55" y="405.48" width="4.40" height="53.92" fill="#c8102e"/>
<line x1="227.75" y1="459.40" x2="227.75" y2="462.00" stroke="#231f20" stroke-width="0.8"/>
<text transform="translate(229.52,465.80) rotate(-90)" font-size="6.3" text-anchor="end" textLength="28.67" lengthAdjust="spacingAndGlyphs">TMEM14C</text>
<rect x="232.62" y="406.82" width="4.40" height="52.58" fill="#c8102e"/>
<line x1="234.82" y1="459.40" x2="234.82" y2="462.00" stroke="#231f20" stroke-width="0.8"/>
<text transform="translate(236.59,465.80) rotate(-90)" font-size="6.3" text-anchor="end" textLength="28.67" lengthAdjust="spacingAndGlyphs">TMEM14C</text>
<rect x="239.69" y="406.82" width="4.40" height="52.58" fill="#c8102e"/>
<line x1="241.89" y1="459.40" x2="241.89" y2="462.00" stroke="#231f20" stroke-width="0.8"/>
<text transform="translate(243.66,465.80) rotate(-90)" font-size="6.3" text-anchor="end" textLength="25.35" lengthAdjust="spacingAndGlyphs">PHF20L1</text>
<rect x="246.76" y="407.54" width="4.40" height="51.86" fill="#c8102e"/>
<line x1="248.96" y1="459.40" x2="248.96" y2="462.00" stroke="#231f20" stroke-width="0.8"/>
<text transform="translate(250.73,465.80) rotate(-90)" font-size="6.3" text-anchor="end" textLength="21.33" lengthAdjust="spacingAndGlyphs">CRNDE</text>
<rect x="253.83" y="407.54" width="4.40" height="51.86" fill="#c8102e"/>
<line x1="256.03" y1="459.40" x2="256.03" y2="462.00" stroke="#231f20" stroke-width="0.8"/>
<text transform="translate(257.80,465.80) rotate(-90)" font-size="6.3" text-anchor="end" textLength="16.00" lengthAdjust="spacingAndGlyphs">DPH5</text>
<rect x="260.90" y="412.67" width="4.40" height="46.73" fill="#c8102e"/>
<line x1="263.10" y1="459.40" x2="263.10" y2="462.00" stroke="#231f20" stroke-width="0.8"/>
<text transform="translate(264.87,465.80) rotate(-90)" font-size="6.3" text-anchor="end" textLength="24.34" lengthAdjust="spacingAndGlyphs">MYO15B</text>
<rect x="267.97" y="414.83" width="4.40" height="44.57" fill="#c8102e"/>
<line x1="270.17" y1="459.40" x2="270.17" y2="462.00" stroke="#231f20" stroke-width="0.8"/>
<text transform="translate(271.94,465.80) rotate(-90)" font-size="6.3" text-anchor="end" textLength="22.68" lengthAdjust="spacingAndGlyphs">DYNLL1</text>
<rect x="275.04" y="414.83" width="4.40" height="44.57" fill="#c8102e"/>
<line x1="277.24" y1="459.40" x2="277.24" y2="462.00" stroke="#231f20" stroke-width="0.8"/>
<text transform="translate(279.01,465.80) rotate(-90)" font-size="6.3" text-anchor="end" textLength="21.67" lengthAdjust="spacingAndGlyphs">MICAL1</text>
<rect x="282.11" y="415.86" width="4.40" height="43.54" fill="#c8102e"/>
<line x1="284.31" y1="459.40" x2="284.31" y2="462.00" stroke="#231f20" stroke-width="0.8"/>
<text transform="translate(286.08,465.80) rotate(-90)" font-size="6.3" text-anchor="end" textLength="12.01" lengthAdjust="spacingAndGlyphs">GK5</text>
<rect x="289.18" y="416.88" width="4.40" height="42.52" fill="#c8102e"/>
<line x1="291.38" y1="459.40" x2="291.38" y2="462.00" stroke="#231f20" stroke-width="0.8"/>
<text transform="translate(293.15,465.80) rotate(-90)" font-size="6.3" text-anchor="end" textLength="15.67" lengthAdjust="spacingAndGlyphs">UXS1</text>
<rect x="296.25" y="417.91" width="4.40" height="41.49" fill="#c8102e"/>
<line x1="298.45" y1="459.40" x2="298.45" y2="462.00" stroke="#231f20" stroke-width="0.8"/>
<text transform="translate(300.22,465.80) rotate(-90)" font-size="6.3" text-anchor="end" textLength="18.68" lengthAdjust="spacingAndGlyphs">APPL2</text>
<rect x="303.32" y="418.94" width="4.40" height="40.46" fill="#c8102e"/>
<line x1="305.52" y1="459.40" x2="305.52" y2="462.00" stroke="#231f20" stroke-width="0.8"/>
<text transform="translate(307.29,465.80) rotate(-90)" font-size="6.3" text-anchor="end" textLength="21.67" lengthAdjust="spacingAndGlyphs">ZNF557</text>
<rect x="310.39" y="419.66" width="4.40" height="39.74" fill="#c8102e"/>
<line x1="312.59" y1="459.40" x2="312.59" y2="462.00" stroke="#231f20" stroke-width="0.8"/>
<text transform="translate(314.36,465.80) rotate(-90)" font-size="6.3" text-anchor="end" textLength="18.01" lengthAdjust="spacingAndGlyphs">ORAI2</text>
<rect x="317.46" y="419.96" width="4.40" height="39.44" fill="#c8102e"/>
<line x1="319.66" y1="459.40" x2="319.66" y2="462.00" stroke="#231f20" stroke-width="0.8"/>
<text transform="translate(321.43,465.80) rotate(-90)" font-size="6.3" text-anchor="end" textLength="19.68" lengthAdjust="spacingAndGlyphs">SYNE1</text>
<rect x="324.53" y="420.99" width="4.40" height="38.41" fill="#c8102e"/>
<line x1="326.73" y1="459.40" x2="326.73" y2="462.00" stroke="#231f20" stroke-width="0.8"/>
<text transform="translate(328.50,465.80) rotate(-90)" font-size="6.3" text-anchor="end" textLength="18.01" lengthAdjust="spacingAndGlyphs">ORAI2</text>
<text transform="translate(162.60,407.75) rotate(-90)" font-size="8.8" text-anchor="middle" textLength="52.40" lengthAdjust="spacingAndGlyphs">Mis-splicing (%)</text>
<text x="435.20" y="352.20" font-size="9.3" text-anchor="middle" textLength="68.14" lengthAdjust="spacingAndGlyphs">Pro-erythroblast</text>
<line x1="353.50" y1="352.20" x2="353.50" y2="459.40" stroke="#231f20" stroke-width="1.0"/>
<line x1="350.70" y1="458.90" x2="512.50" y2="458.90" stroke="#231f20" stroke-width="1.0"/>
<line x1="349.90" y1="458.90" x2="353.50" y2="458.90" stroke="#231f20" stroke-width="1.0"/>
<text x="346.90" y="461.60" font-size="7.6" text-anchor="end" textLength="3.97" lengthAdjust="spacingAndGlyphs">0</text>
<line x1="349.90" y1="438.48" x2="353.50" y2="438.48" stroke="#231f20" stroke-width="1.0"/>
<text x="346.90" y="441.18" font-size="7.6" text-anchor="end" textLength="7.95" lengthAdjust="spacingAndGlyphs">20</text>
<line x1="349.90" y1="418.06" x2="353.50" y2="418.06" stroke="#231f20" stroke-width="1.0"/>
<text x="346.90" y="420.76" font-size="7.6" text-anchor="end" textLength="7.95" lengthAdjust="spacingAndGlyphs">40</text>
<line x1="349.90" y1="397.64" x2="353.50" y2="397.64" stroke="#231f20" stroke-width="1.0"/>
<text x="346.90" y="400.34" font-size="7.6" text-anchor="end" textLength="7.95" lengthAdjust="spacingAndGlyphs">60</text>
<line x1="349.90" y1="377.22" x2="353.50" y2="377.22" stroke="#231f20" stroke-width="1.0"/>
<text x="346.90" y="379.92" font-size="7.6" text-anchor="end" textLength="7.95" lengthAdjust="spacingAndGlyphs">80</text>
<line x1="349.90" y1="356.80" x2="353.50" y2="356.80" stroke="#231f20" stroke-width="1.0"/>
<text x="346.90" y="359.50" font-size="7.6" text-anchor="end" textLength="11.92" lengthAdjust="spacingAndGlyphs">100</text>
<rect x="356.60" y="392.74" width="4.40" height="66.16" fill="#c8102e"/>
<line x1="358.80" y1="458.90" x2="358.80" y2="461.50" stroke="#231f20" stroke-width="0.8"/>
<text transform="translate(361.47,465.30) rotate(-90)" font-size="6.3" text-anchor="end" textLength="28.33" lengthAdjust="spacingAndGlyphs">MTERFD3</text>
<rect x="364.38" y="404.07" width="4.40" height="54.83" fill="#c8102e"/>
<line x1="366.58" y1="458.90" x2="366.58" y2="461.50" stroke="#231f20" stroke-width="0.8"/>
<text transform="translate(369.25,465.30) rotate(-90)" font-size="6.3" text-anchor="end" textLength="23.00" lengthAdjust="spacingAndGlyphs">MINOS1</text>
<rect x="372.16" y="406.11" width="4.40" height="52.79" fill="#c8102e"/>
<line x1="374.36" y1="458.90" x2="374.36" y2="461.50" stroke="#231f20" stroke-width="0.8"/>
<text transform="translate(377.03,465.30) rotate(-90)" font-size="6.3" text-anchor="end" textLength="23.68" lengthAdjust="spacingAndGlyphs">MAP3K7</text>
<rect x="379.94" y="408.16" width="4.40" height="50.74" fill="#c8102e"/>
<line x1="382.14" y1="458.90" x2="382.14" y2="461.50" stroke="#231f20" stroke-width="0.8"/>
<text transform="translate(384.81,465.30) rotate(-90)" font-size="6.3" text-anchor="end" textLength="28.67" lengthAdjust="spacingAndGlyphs">TMEM14C</text>
<rect x="387.72" y="409.18" width="4.40" height="49.72" fill="#c8102e"/>
<line x1="389.92" y1="458.90" x2="389.92" y2="461.50" stroke="#231f20" stroke-width="0.8"/>
<text transform="translate(392.59,465.30) rotate(-90)" font-size="6.3" text-anchor="end" textLength="28.67" lengthAdjust="spacingAndGlyphs">TMEM14C</text>
<rect x="395.50" y="410.20" width="4.40" height="48.70" fill="#c8102e"/>
<line x1="397.70" y1="458.90" x2="397.70" y2="461.50" stroke="#231f20" stroke-width="0.8"/>
<text transform="translate(400.37,465.30) rotate(-90)" font-size="6.3" text-anchor="end" textLength="20.34" lengthAdjust="spacingAndGlyphs">ENOX2</text>
<rect x="403.28" y="412.34" width="4.40" height="46.56" fill="#c8102e"/>
<line x1="405.48" y1="458.90" x2="405.48" y2="461.50" stroke="#231f20" stroke-width="0.8"/>
<text transform="translate(408.15,465.30) rotate(-90)" font-size="6.3" text-anchor="end" textLength="23.34" lengthAdjust="spacingAndGlyphs">SH2D2A</text>
<rect x="411.06" y="413.98" width="4.40" height="44.92" fill="#c8102e"/>
<line x1="413.26" y1="458.90" x2="413.26" y2="461.50" stroke="#231f20" stroke-width="0.8"/>
<text transform="translate(415.93,465.30) rotate(-90)" font-size="6.3" text-anchor="end" textLength="20.34" lengthAdjust="spacingAndGlyphs">PGBD1</text>
<rect x="418.84" y="413.98" width="4.40" height="44.92" fill="#c8102e"/>
<line x1="421.04" y1="458.90" x2="421.04" y2="461.50" stroke="#231f20" stroke-width="0.8"/>
<text transform="translate(423.71,465.30) rotate(-90)" font-size="6.3" text-anchor="end" textLength="24.34" lengthAdjust="spacingAndGlyphs">MYO15B</text>
<rect x="426.62" y="413.98" width="4.40" height="44.92" fill="#c8102e"/>
<line x1="428.82" y1="458.90" x2="428.82" y2="461.50" stroke="#231f20" stroke-width="0.8"/>
<text transform="translate(431.49,465.30) rotate(-90)" font-size="6.3" text-anchor="end" textLength="22.68" lengthAdjust="spacingAndGlyphs">DYNLL1</text>
<rect x="434.40" y="415.00" width="4.40" height="43.90" fill="#c8102e"/>
<line x1="436.60" y1="458.90" x2="436.60" y2="461.50" stroke="#231f20" stroke-width="0.8"/>
<text transform="translate(439.27,465.30) rotate(-90)" font-size="6.3" text-anchor="end" textLength="15.67" lengthAdjust="spacingAndGlyphs">UXS1</text>
<rect x="442.18" y="415.00" width="4.40" height="43.90" fill="#c8102e"/>
<line x1="444.38" y1="458.90" x2="444.38" y2="461.50" stroke="#231f20" stroke-width="0.8"/>
<text transform="translate(447.05,465.30) rotate(-90)" font-size="6.3" text-anchor="end" textLength="18.01" lengthAdjust="spacingAndGlyphs">ORAI2</text>
<rect x="449.96" y="416.02" width="4.40" height="42.88" fill="#c8102e"/>
<line x1="452.16" y1="458.90" x2="452.16" y2="461.50" stroke="#231f20" stroke-width="0.8"/>
<text transform="translate(454.83,465.30) rotate(-90)" font-size="6.3" text-anchor="end" textLength="21.33" lengthAdjust="spacingAndGlyphs">CRNDE</text>
<rect x="457.74" y="418.06" width="4.40" height="40.84" fill="#c8102e"/>
<line x1="459.94" y1="458.90" x2="459.94" y2="461.50" stroke="#231f20" stroke-width="0.8"/>
<text transform="translate(462.61,465.30) rotate(-90)" font-size="6.3" text-anchor="end" textLength="16.01" lengthAdjust="spacingAndGlyphs">GAS8</text>
<rect x="465.52" y="418.06" width="4.40" height="40.84" fill="#c8102e"/>
<line x1="467.72" y1="458.90" x2="467.72" y2="461.50" stroke="#231f20" stroke-width="0.8"/>
<text transform="translate(470.39,465.30) rotate(-90)" font-size="6.3" text-anchor="end" textLength="22.90" lengthAdjust="spacingAndGlyphs">CDK11A</text>
<rect x="473.30" y="420.10" width="4.40" height="38.80" fill="#c8102e"/>
<line x1="475.50" y1="458.90" x2="475.50" y2="461.50" stroke="#231f20" stroke-width="0.8"/>
<text transform="translate(478.17,465.30) rotate(-90)" font-size="6.3" text-anchor="end" textLength="25.35" lengthAdjust="spacingAndGlyphs">PHF20L1</text>
<rect x="481.08" y="420.10" width="4.40" height="38.80" fill="#c8102e"/>
<line x1="483.28" y1="458.90" x2="483.28" y2="461.50" stroke="#231f20" stroke-width="0.8"/>
<text transform="translate(485.95,465.30) rotate(-90)" font-size="6.3" text-anchor="end" textLength="27.02" lengthAdjust="spacingAndGlyphs">KIAA1033</text>
<rect x="488.86" y="420.10" width="4.40" height="38.80" fill="#c8102e"/>
<line x1="491.06" y1="458.90" x2="491.06" y2="461.50" stroke="#231f20" stroke-width="0.8"/>
<text transform="translate(493.73,465.30) rotate(-90)" font-size="6.3" text-anchor="end" textLength="27.67" lengthAdjust="spacingAndGlyphs">ZDHHC16</text>
<rect x="496.64" y="420.10" width="4.40" height="38.80" fill="#c8102e"/>
<line x1="498.84" y1="458.90" x2="498.84" y2="461.50" stroke="#231f20" stroke-width="0.8"/>
<text transform="translate(501.51,465.30) rotate(-90)" font-size="6.3" text-anchor="end" textLength="21.34" lengthAdjust="spacingAndGlyphs">TRIM37</text>
<rect x="504.42" y="421.12" width="4.40" height="37.78" fill="#c8102e"/>
<line x1="506.62" y1="458.90" x2="506.62" y2="461.50" stroke="#231f20" stroke-width="0.8"/>
<text transform="translate(509.29,465.30) rotate(-90)" font-size="6.3" text-anchor="end" textLength="18.01" lengthAdjust="spacingAndGlyphs">ORAI2</text>
<text x="262.30" y="530.30" font-size="9.3" text-anchor="middle" textLength="51.11" lengthAdjust="spacingAndGlyphs">Erythroblast</text>
<line x1="187.80" y1="530.30" x2="187.80" y2="636.90" stroke="#231f20" stroke-width="1.0"/>
<line x1="185.00" y1="636.40" x2="333.50" y2="636.40" stroke="#231f20" stroke-width="1.0"/>
<line x1="184.20" y1="636.40" x2="187.80" y2="636.40" stroke="#231f20" stroke-width="1.0"/>
<text x="181.20" y="639.10" font-size="7.6" text-anchor="end" textLength="3.97" lengthAdjust="spacingAndGlyphs">0</text>
<line x1="184.20" y1="616.10" x2="187.80" y2="616.10" stroke="#231f20" stroke-width="1.0"/>
<text x="181.20" y="618.80" font-size="7.6" text-anchor="end" textLength="7.95" lengthAdjust="spacingAndGlyphs">20</text>
<line x1="184.20" y1="595.80" x2="187.80" y2="595.80" stroke="#231f20" stroke-width="1.0"/>
<text x="181.20" y="598.50" font-size="7.6" text-anchor="end" textLength="7.95" lengthAdjust="spacingAndGlyphs">40</text>
<line x1="184.20" y1="575.50" x2="187.80" y2="575.50" stroke="#231f20" stroke-width="1.0"/>
<text x="181.20" y="578.20" font-size="7.6" text-anchor="end" textLength="7.95" lengthAdjust="spacingAndGlyphs">60</text>
<line x1="184.20" y1="555.20" x2="187.80" y2="555.20" stroke="#231f20" stroke-width="1.0"/>
<text x="181.20" y="557.90" font-size="7.6" text-anchor="end" textLength="7.95" lengthAdjust="spacingAndGlyphs">80</text>
<line x1="184.20" y1="534.90" x2="187.80" y2="534.90" stroke="#231f20" stroke-width="1.0"/>
<text x="181.20" y="537.60" font-size="7.6" text-anchor="end" textLength="11.92" lengthAdjust="spacingAndGlyphs">100</text>
<rect x="190.20" y="546.17" width="4.40" height="90.23" fill="#c8102e"/>
<line x1="192.40" y1="636.40" x2="192.40" y2="639.00" stroke="#231f20" stroke-width="0.8"/>
<text transform="translate(194.17,642.80) rotate(-90)" font-size="6.3" text-anchor="end" textLength="17.00" lengthAdjust="spacingAndGlyphs">EIF3C</text>
<rect x="197.27" y="562.81" width="4.40" height="73.59" fill="#c8102e"/>
<line x1="199.47" y1="636.40" x2="199.47" y2="639.00" stroke="#231f20" stroke-width="0.8"/>
<text transform="translate(201.24,642.80) rotate(-90)" font-size="6.3" text-anchor="end" textLength="28.33" lengthAdjust="spacingAndGlyphs">MTERFD3</text>
<rect x="204.34" y="576.41" width="4.40" height="59.99" fill="#c8102e"/>
<line x1="206.54" y1="636.40" x2="206.54" y2="639.00" stroke="#231f20" stroke-width="0.8"/>
<text transform="translate(208.31,642.80) rotate(-90)" font-size="6.3" text-anchor="end" textLength="23.68" lengthAdjust="spacingAndGlyphs">MAP3K7</text>
<rect x="211.41" y="583.11" width="4.40" height="53.29" fill="#c8102e"/>
<line x1="213.61" y1="636.40" x2="213.61" y2="639.00" stroke="#231f20" stroke-width="0.8"/>
<text transform="translate(215.38,642.80) rotate(-90)" font-size="6.3" text-anchor="end" textLength="20.34" lengthAdjust="spacingAndGlyphs">PGBD1</text>
<rect x="218.48" y="587.48" width="4.40" height="48.92" fill="#c8102e"/>
<line x1="220.68" y1="636.40" x2="220.68" y2="639.00" stroke="#231f20" stroke-width="0.8"/>
<text transform="translate(222.45,642.80) rotate(-90)" font-size="6.3" text-anchor="end" textLength="17.00" lengthAdjust="spacingAndGlyphs">DZIP3</text>
<rect x="225.55" y="587.48" width="4.40" height="48.92" fill="#c8102e"/>
<line x1="227.75" y1="636.40" x2="227.75" y2="639.00" stroke="#231f20" stroke-width="0.8"/>
<text transform="translate(229.52,642.80) rotate(-90)" font-size="6.3" text-anchor="end" textLength="27.02" lengthAdjust="spacingAndGlyphs">KIAA1033</text>
<rect x="232.62" y="588.59" width="4.40" height="47.81" fill="#c8102e"/>
<line x1="234.82" y1="636.40" x2="234.82" y2="639.00" stroke="#231f20" stroke-width="0.8"/>
<text transform="translate(236.59,642.80) rotate(-90)" font-size="6.3" text-anchor="end" textLength="22.68" lengthAdjust="spacingAndGlyphs">DYNLL1</text>
<rect x="239.69" y="589.71" width="4.40" height="46.69" fill="#c8102e"/>
<line x1="241.89" y1="636.40" x2="241.89" y2="639.00" stroke="#231f20" stroke-width="0.8"/>
<text transform="translate(243.66,642.80) rotate(-90)" font-size="6.3" text-anchor="end" textLength="31.68" lengthAdjust="spacingAndGlyphs">ANKRD18A</text>
<rect x="246.76" y="589.71" width="4.40" height="46.69" fill="#c8102e"/>
<line x1="248.96" y1="636.40" x2="248.96" y2="639.00" stroke="#231f20" stroke-width="0.8"/>
<text transform="translate(250.73,642.80) rotate(-90)" font-size="6.3" text-anchor="end" textLength="20.34" lengthAdjust="spacingAndGlyphs">ENOX2</text>
<rect x="253.83" y="589.71" width="4.40" height="46.69" fill="#c8102e"/>
<line x1="256.03" y1="636.40" x2="256.03" y2="639.00" stroke="#231f20" stroke-width="0.8"/>
<text transform="translate(257.80,642.80) rotate(-90)" font-size="6.3" text-anchor="end" textLength="21.33" lengthAdjust="spacingAndGlyphs">CRNDE</text>
<rect x="260.90" y="590.83" width="4.40" height="45.57" fill="#c8102e"/>
<line x1="263.10" y1="636.40" x2="263.10" y2="639.00" stroke="#231f20" stroke-width="0.8"/>
<text transform="translate(264.87,642.80) rotate(-90)" font-size="6.3" text-anchor="end" textLength="28.67" lengthAdjust="spacingAndGlyphs">TMEM14C</text>
<rect x="267.97" y="591.54" width="4.40" height="44.86" fill="#c8102e"/>
<line x1="270.17" y1="636.40" x2="270.17" y2="639.00" stroke="#231f20" stroke-width="0.8"/>
<text transform="translate(271.94,642.80) rotate(-90)" font-size="6.3" text-anchor="end" textLength="28.67" lengthAdjust="spacingAndGlyphs">TMEM14C</text>
<rect x="275.04" y="591.54" width="4.40" height="44.86" fill="#c8102e"/>
<line x1="277.24" y1="636.40" x2="277.24" y2="639.00" stroke="#231f20" stroke-width="0.8"/>
<text transform="translate(279.01,642.80) rotate(-90)" font-size="6.3" text-anchor="end" textLength="15.67" lengthAdjust="spacingAndGlyphs">UXS1</text>
<rect x="282.11" y="591.54" width="4.40" height="44.86" fill="#c8102e"/>
<line x1="284.31" y1="636.40" x2="284.31" y2="639.00" stroke="#231f20" stroke-width="0.8"/>
<text transform="translate(286.08,642.80) rotate(-90)" font-size="6.3" text-anchor="end" textLength="18.01" lengthAdjust="spacingAndGlyphs">ORAI2</text>
<rect x="289.18" y="591.54" width="4.40" height="44.86" fill="#c8102e"/>
<line x1="291.38" y1="636.40" x2="291.38" y2="639.00" stroke="#231f20" stroke-width="0.8"/>
<text transform="translate(293.15,642.80) rotate(-90)" font-size="6.3" text-anchor="end" textLength="23.68" lengthAdjust="spacingAndGlyphs">GPR89A</text>
<rect x="296.25" y="591.54" width="4.40" height="44.86" fill="#c8102e"/>
<line x1="298.45" y1="636.40" x2="298.45" y2="639.00" stroke="#231f20" stroke-width="0.8"/>
<text transform="translate(300.22,642.80) rotate(-90)" font-size="6.3" text-anchor="end" textLength="21.35" lengthAdjust="spacingAndGlyphs">S100A1</text>
<rect x="303.32" y="594.78" width="4.40" height="41.61" fill="#c8102e"/>
<line x1="305.52" y1="636.40" x2="305.52" y2="639.00" stroke="#231f20" stroke-width="0.8"/>
<text transform="translate(307.29,642.80) rotate(-90)" font-size="6.3" text-anchor="end" textLength="18.01" lengthAdjust="spacingAndGlyphs">ORAI2</text>
<rect x="310.39" y="596.71" width="4.40" height="39.69" fill="#c8102e"/>
<line x1="312.59" y1="636.40" x2="312.59" y2="639.00" stroke="#231f20" stroke-width="0.8"/>
<text transform="translate(314.36,642.80) rotate(-90)" font-size="6.3" text-anchor="end" textLength="20.34" lengthAdjust="spacingAndGlyphs">HDAC4</text>
<rect x="317.46" y="598.85" width="4.40" height="37.55" fill="#c8102e"/>
<line x1="319.66" y1="636.40" x2="319.66" y2="639.00" stroke="#231f20" stroke-width="0.8"/>
<text transform="translate(321.43,642.80) rotate(-90)" font-size="6.3" text-anchor="end" textLength="19.34" lengthAdjust="spacingAndGlyphs">TCEA2</text>
<rect x="324.53" y="598.85" width="4.40" height="37.55" fill="#c8102e"/>
<line x1="326.73" y1="636.40" x2="326.73" y2="639.00" stroke="#231f20" stroke-width="0.8"/>
<text transform="translate(328.50,642.80) rotate(-90)" font-size="6.3" text-anchor="end" textLength="23.68" lengthAdjust="spacingAndGlyphs">GPR89A</text>
<text transform="translate(162.60,585.35) rotate(-90)" font-size="8.8" text-anchor="middle" textLength="52.40" lengthAdjust="spacingAndGlyphs">Mis-splicing (%)</text>
<text x="430.90" y="530.40" font-size="9.3" text-anchor="middle" textLength="22.37" lengthAdjust="spacingAndGlyphs">K562</text>
<line x1="353.50" y1="530.40" x2="353.50" y2="636.70" stroke="#231f20" stroke-width="1.0"/>
<line x1="350.70" y1="636.20" x2="512.50" y2="636.20" stroke="#231f20" stroke-width="1.0"/>
<line x1="349.90" y1="636.20" x2="353.50" y2="636.20" stroke="#231f20" stroke-width="1.0"/>
<text x="346.90" y="638.90" font-size="7.6" text-anchor="end" textLength="3.97" lengthAdjust="spacingAndGlyphs">0</text>
<line x1="349.90" y1="615.96" x2="353.50" y2="615.96" stroke="#231f20" stroke-width="1.0"/>
<text x="346.90" y="618.66" font-size="7.6" text-anchor="end" textLength="7.95" lengthAdjust="spacingAndGlyphs">20</text>
<line x1="349.90" y1="595.72" x2="353.50" y2="595.72" stroke="#231f20" stroke-width="1.0"/>
<text x="346.90" y="598.42" font-size="7.6" text-anchor="end" textLength="7.95" lengthAdjust="spacingAndGlyphs">40</text>
<line x1="349.90" y1="575.48" x2="353.50" y2="575.48" stroke="#231f20" stroke-width="1.0"/>
<text x="346.90" y="578.18" font-size="7.6" text-anchor="end" textLength="7.95" lengthAdjust="spacingAndGlyphs">60</text>
<line x1="349.90" y1="555.24" x2="353.50" y2="555.24" stroke="#231f20" stroke-width="1.0"/>
<text x="346.90" y="557.94" font-size="7.6" text-anchor="end" textLength="7.95" lengthAdjust="spacingAndGlyphs">80</text>
<line x1="349.90" y1="535.00" x2="353.50" y2="535.00" stroke="#231f20" stroke-width="1.0"/>
<text x="346.90" y="537.70" font-size="7.6" text-anchor="end" textLength="11.92" lengthAdjust="spacingAndGlyphs">100</text>
<rect x="356.70" y="546.94" width="4.40" height="89.26" fill="#c8102e"/>
<line x1="358.90" y1="636.20" x2="358.90" y2="638.80" stroke="#231f20" stroke-width="0.8"/>
<text transform="translate(361.57,642.60) rotate(-90)" font-size="6.3" text-anchor="end" textLength="17.00" lengthAdjust="spacingAndGlyphs">EIF3C</text>
<rect x="364.48" y="562.12" width="4.40" height="74.08" fill="#c8102e"/>
<line x1="366.68" y1="636.20" x2="366.68" y2="638.80" stroke="#231f20" stroke-width="0.8"/>
<text transform="translate(369.35,642.60) rotate(-90)" font-size="6.3" text-anchor="end" textLength="16.00" lengthAdjust="spacingAndGlyphs">BRD9</text>
<rect x="372.26" y="564.35" width="4.40" height="71.85" fill="#c8102e"/>
<line x1="374.46" y1="636.20" x2="374.46" y2="638.80" stroke="#231f20" stroke-width="0.8"/>
<text transform="translate(377.13,642.60) rotate(-90)" font-size="6.3" text-anchor="end" textLength="16.34" lengthAdjust="spacingAndGlyphs">GEN1</text>
<rect x="380.04" y="568.09" width="4.40" height="68.11" fill="#c8102e"/>
<line x1="382.24" y1="636.20" x2="382.24" y2="638.80" stroke="#231f20" stroke-width="0.8"/>
<text transform="translate(384.91,642.60) rotate(-90)" font-size="6.3" text-anchor="end" textLength="28.33" lengthAdjust="spacingAndGlyphs">MTERFD3</text>
<rect x="387.82" y="569.00" width="4.40" height="67.20" fill="#c8102e"/>
<line x1="390.02" y1="636.20" x2="390.02" y2="638.80" stroke="#231f20" stroke-width="0.8"/>
<text transform="translate(392.69,642.60) rotate(-90)" font-size="6.3" text-anchor="end" textLength="20.34" lengthAdjust="spacingAndGlyphs">PGBD1</text>
<rect x="395.60" y="574.16" width="4.40" height="62.04" fill="#c8102e"/>
<line x1="397.80" y1="636.20" x2="397.80" y2="638.80" stroke="#231f20" stroke-width="0.8"/>
<text transform="translate(400.47,642.60) rotate(-90)" font-size="6.3" text-anchor="end" textLength="23.34" lengthAdjust="spacingAndGlyphs">SH2D2A</text>
<rect x="403.38" y="575.08" width="4.40" height="61.12" fill="#c8102e"/>
<line x1="405.58" y1="636.20" x2="405.58" y2="638.80" stroke="#231f20" stroke-width="0.8"/>
<text transform="translate(408.25,642.60) rotate(-90)" font-size="6.3" text-anchor="end" textLength="21.33" lengthAdjust="spacingAndGlyphs">CRNDE</text>
<rect x="411.16" y="578.21" width="4.40" height="57.99" fill="#c8102e"/>
<line x1="413.36" y1="636.20" x2="413.36" y2="638.80" stroke="#231f20" stroke-width="0.8"/>
<text transform="translate(416.03,642.60) rotate(-90)" font-size="6.3" text-anchor="end" textLength="35.02" lengthAdjust="spacingAndGlyphs">ANKRD20A2</text>
<rect x="418.94" y="578.21" width="4.40" height="57.99" fill="#c8102e"/>
<line x1="421.14" y1="636.20" x2="421.14" y2="638.80" stroke="#231f20" stroke-width="0.8"/>
<text transform="translate(423.81,642.60) rotate(-90)" font-size="6.3" text-anchor="end" textLength="23.68" lengthAdjust="spacingAndGlyphs">MAP3K7</text>
<rect x="426.72" y="579.22" width="4.40" height="56.98" fill="#c8102e"/>
<line x1="428.92" y1="636.20" x2="428.92" y2="638.80" stroke="#231f20" stroke-width="0.8"/>
<text transform="translate(431.59,642.60) rotate(-90)" font-size="6.3" text-anchor="end" textLength="28.67" lengthAdjust="spacingAndGlyphs">TMEM14C</text>
<rect x="434.50" y="580.24" width="4.40" height="55.96" fill="#c8102e"/>
<line x1="436.70" y1="636.20" x2="436.70" y2="638.80" stroke="#231f20" stroke-width="0.8"/>
<text transform="translate(439.37,642.60) rotate(-90)" font-size="6.3" text-anchor="end" textLength="28.67" lengthAdjust="spacingAndGlyphs">TMEM14C</text>
<rect x="442.28" y="581.96" width="4.40" height="54.24" fill="#c8102e"/>
<line x1="444.48" y1="636.20" x2="444.48" y2="638.80" stroke="#231f20" stroke-width="0.8"/>
<text transform="translate(447.15,642.60) rotate(-90)" font-size="6.3" text-anchor="end" textLength="18.01" lengthAdjust="spacingAndGlyphs">ORAI2</text>
<rect x="450.06" y="581.96" width="4.40" height="54.24" fill="#c8102e"/>
<line x1="452.26" y1="636.20" x2="452.26" y2="638.80" stroke="#231f20" stroke-width="0.8"/>
<text transform="translate(454.93,642.60) rotate(-90)" font-size="6.3" text-anchor="end" textLength="27.67" lengthAdjust="spacingAndGlyphs">ZDHHC16</text>
<rect x="457.84" y="582.97" width="4.40" height="53.23" fill="#c8102e"/>
<line x1="460.04" y1="636.20" x2="460.04" y2="638.80" stroke="#231f20" stroke-width="0.8"/>
<text transform="translate(462.71,642.60) rotate(-90)" font-size="6.3" text-anchor="end" textLength="18.01" lengthAdjust="spacingAndGlyphs">ORAI2</text>
<rect x="465.62" y="586.11" width="4.40" height="50.09" fill="#c8102e"/>
<line x1="467.82" y1="636.20" x2="467.82" y2="638.80" stroke="#231f20" stroke-width="0.8"/>
<text transform="translate(470.49,642.60) rotate(-90)" font-size="6.3" text-anchor="end" textLength="12.01" lengthAdjust="spacingAndGlyphs">GK5</text>
<rect x="473.40" y="587.83" width="4.40" height="48.37" fill="#c8102e"/>
<line x1="475.60" y1="636.20" x2="475.60" y2="638.80" stroke="#231f20" stroke-width="0.8"/>
<text transform="translate(478.27,642.60) rotate(-90)" font-size="6.3" text-anchor="end" textLength="16.00" lengthAdjust="spacingAndGlyphs">DPH5</text>
<rect x="481.18" y="587.83" width="4.40" height="48.37" fill="#c8102e"/>
<line x1="483.38" y1="636.20" x2="483.38" y2="638.80" stroke="#231f20" stroke-width="0.8"/>
<text transform="translate(486.05,642.60) rotate(-90)" font-size="6.3" text-anchor="end" textLength="21.67" lengthAdjust="spacingAndGlyphs">MROH1</text>
<rect x="488.96" y="587.83" width="4.40" height="48.37" fill="#c8102e"/>
<line x1="491.16" y1="636.20" x2="491.16" y2="638.80" stroke="#231f20" stroke-width="0.8"/>
<text transform="translate(493.83,642.60) rotate(-90)" font-size="6.3" text-anchor="end" textLength="17.01" lengthAdjust="spacingAndGlyphs">PI4KA</text>
<rect x="496.74" y="587.83" width="4.40" height="48.37" fill="#c8102e"/>
<line x1="498.94" y1="636.20" x2="498.94" y2="638.80" stroke="#231f20" stroke-width="0.8"/>
<text transform="translate(501.61,642.60) rotate(-90)" font-size="6.3" text-anchor="end" textLength="17.34" lengthAdjust="spacingAndGlyphs">PILRB</text>
<rect x="504.52" y="589.95" width="4.40" height="46.25" fill="#c8102e"/>
<line x1="506.72" y1="636.20" x2="506.72" y2="638.80" stroke="#231f20" stroke-width="0.8"/>
<text transform="translate(509.39,642.60) rotate(-90)" font-size="6.3" text-anchor="end" textLength="22.68" lengthAdjust="spacingAndGlyphs">DYNLL1</text>
<rect x="0.5" y="0.5" width="519" height="693" fill="none" stroke="#000" stroke-width="1.2"/>
</svg>
</body></html>
